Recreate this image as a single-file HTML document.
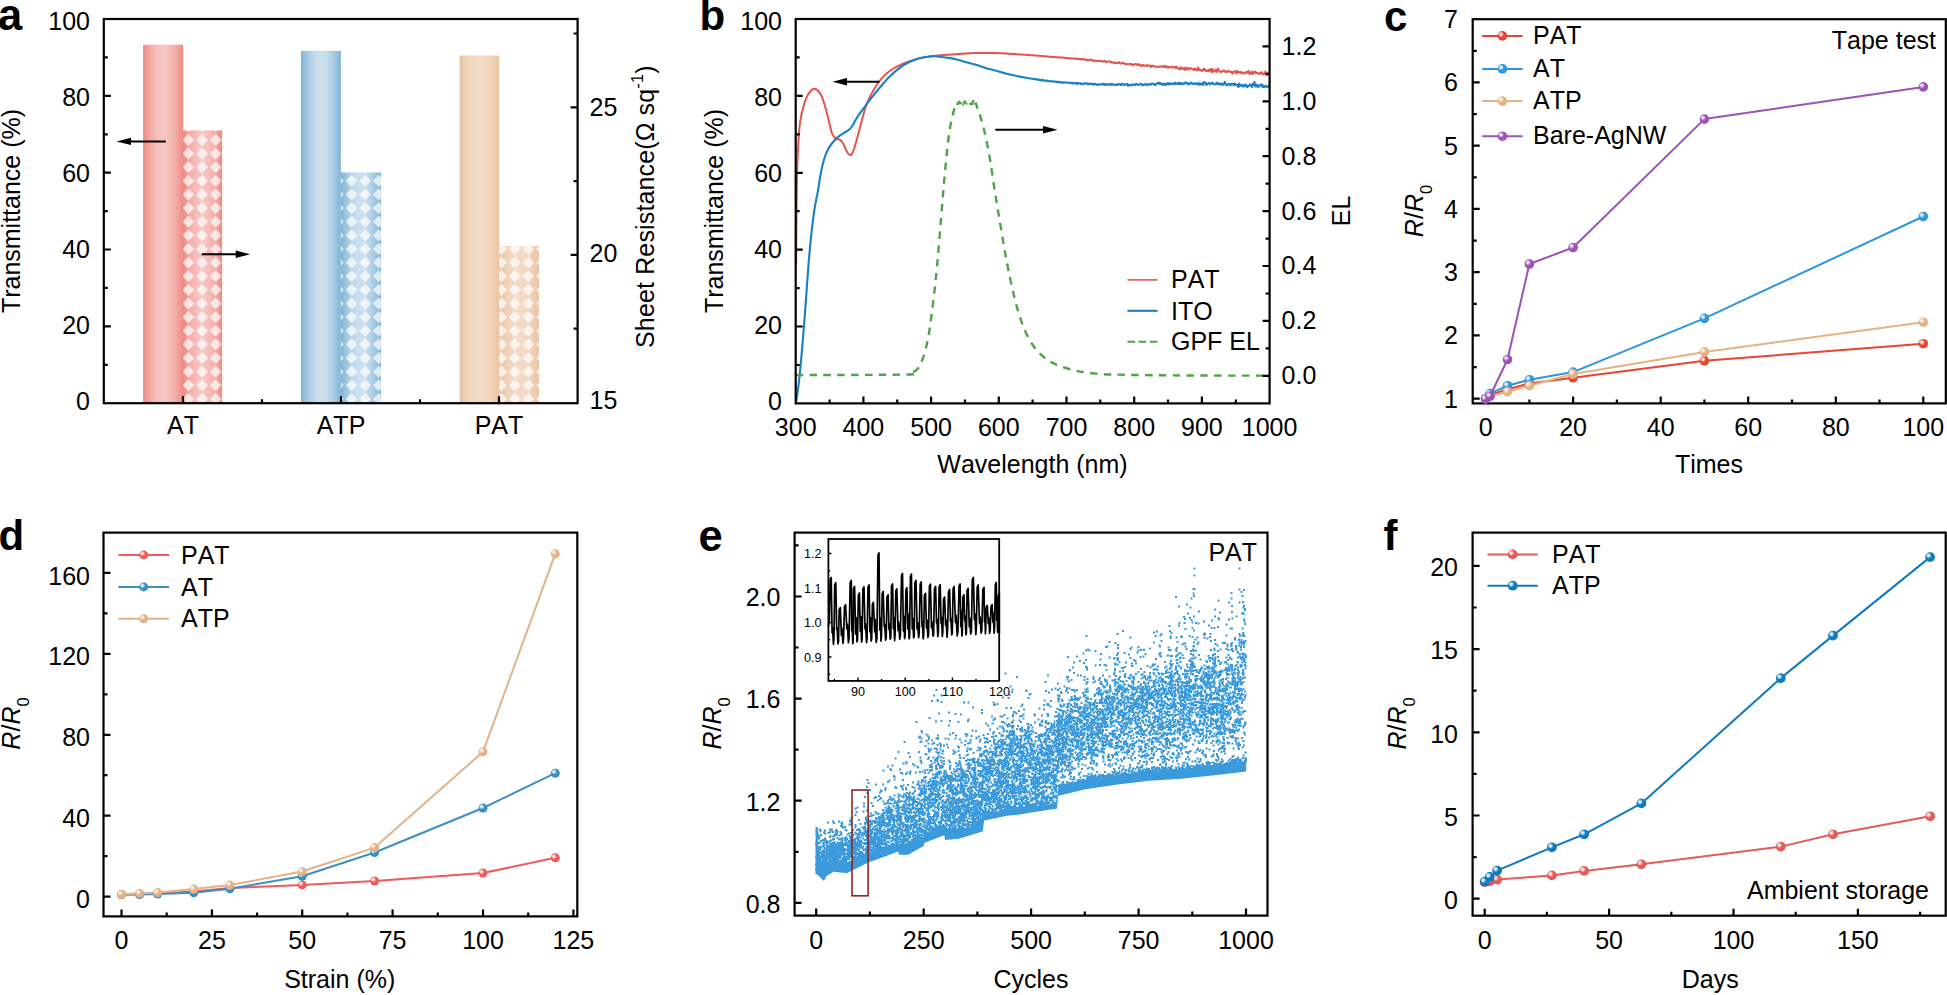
<!DOCTYPE html>
<html lang="en"><head><meta charset="utf-8"><title>Figure</title>
<style>html,body{margin:0;padding:0;background:#fff}svg{display:block}text{font-family:"Liberation Sans",Arial,Helvetica,sans-serif;fill:#000;font-kerning:none}</style>
</head><body>
<svg width="1947" height="995" viewBox="0 0 1947 995">
<rect width="1947" height="995" fill="#fff"/>
<defs>
<radialGradient id="c_r" cx="0.36" cy="0.36" r="0.62" fx="0.34" fy="0.34"><stop offset="0" stop-color="#fff" stop-opacity="1"/><stop offset="0.22" stop-color="#f7c9c3"/><stop offset="0.5" stop-color="#e64535"/><stop offset="1" stop-color="#e64535"/></radialGradient>
<radialGradient id="c_b" cx="0.36" cy="0.36" r="0.62" fx="0.34" fy="0.34"><stop offset="0" stop-color="#fff" stop-opacity="1"/><stop offset="0.22" stop-color="#c6e2f6"/><stop offset="0.5" stop-color="#2f95dd"/><stop offset="1" stop-color="#2f95dd"/></radialGradient>
<radialGradient id="c_t" cx="0.36" cy="0.36" r="0.62" fx="0.34" fy="0.34"><stop offset="0" stop-color="#fff" stop-opacity="1"/><stop offset="0.22" stop-color="#f8e6d6"/><stop offset="0.5" stop-color="#e6b183"/><stop offset="1" stop-color="#e6b183"/></radialGradient>
<radialGradient id="c_p" cx="0.36" cy="0.36" r="0.62" fx="0.34" fy="0.34"><stop offset="0" stop-color="#fff" stop-opacity="1"/><stop offset="0.22" stop-color="#e0c8ea"/><stop offset="0.5" stop-color="#9b52b9"/><stop offset="1" stop-color="#9b52b9"/></radialGradient>
<radialGradient id="d_r" cx="0.36" cy="0.36" r="0.62" fx="0.34" fy="0.34"><stop offset="0" stop-color="#fff" stop-opacity="1"/><stop offset="0.22" stop-color="#fbd0d0"/><stop offset="0.5" stop-color="#ef5a5a"/><stop offset="1" stop-color="#ef5a5a"/></radialGradient>
<radialGradient id="d_b" cx="0.36" cy="0.36" r="0.62" fx="0.34" fy="0.34"><stop offset="0" stop-color="#fff" stop-opacity="1"/><stop offset="0.22" stop-color="#c8e0f0"/><stop offset="0.5" stop-color="#3c8fc4"/><stop offset="1" stop-color="#3c8fc4"/></radialGradient>
<radialGradient id="d_t" cx="0.36" cy="0.36" r="0.62" fx="0.34" fy="0.34"><stop offset="0" stop-color="#fff" stop-opacity="1"/><stop offset="0.22" stop-color="#f8e8d9"/><stop offset="0.5" stop-color="#e3b287"/><stop offset="1" stop-color="#e3b287"/></radialGradient>
<radialGradient id="f_r" cx="0.36" cy="0.36" r="0.62" fx="0.34" fy="0.34"><stop offset="0" stop-color="#fff" stop-opacity="1"/><stop offset="0.22" stop-color="#f8cfcf"/><stop offset="0.5" stop-color="#e25a5a"/><stop offset="1" stop-color="#e25a5a"/></radialGradient>
<radialGradient id="f_b" cx="0.36" cy="0.36" r="0.62" fx="0.34" fy="0.34"><stop offset="0" stop-color="#fff" stop-opacity="1"/><stop offset="0.22" stop-color="#bcdcf0"/><stop offset="0.5" stop-color="#1179be"/><stop offset="1" stop-color="#1179be"/></radialGradient>
<linearGradient id="g_red" x1="0" x2="1" y1="0" y2="0"><stop offset="0" stop-color="#ee8a84"/><stop offset="0.1" stop-color="#f09c97"/><stop offset="0.2" stop-color="#f3ada8"/><stop offset="0.3" stop-color="#f4bab6"/><stop offset="0.4" stop-color="#f6c2bf"/><stop offset="0.5" stop-color="#f6c5c2"/><stop offset="0.6" stop-color="#f6c2bf"/><stop offset="0.7" stop-color="#f4bab6"/><stop offset="0.8" stop-color="#f3ada8"/><stop offset="0.9" stop-color="#f09c97"/><stop offset="1.0" stop-color="#ee8a84"/></linearGradient>
<linearGradient id="g_blue" x1="0" x2="1" y1="0" y2="0"><stop offset="0" stop-color="#7fb3d6"/><stop offset="0.1" stop-color="#96c1dd"/><stop offset="0.2" stop-color="#accde4"/><stop offset="0.3" stop-color="#bcd7e9"/><stop offset="0.4" stop-color="#c7deed"/><stop offset="0.5" stop-color="#cbe0ee"/><stop offset="0.6" stop-color="#c7deed"/><stop offset="0.7" stop-color="#bcd7e9"/><stop offset="0.8" stop-color="#accde4"/><stop offset="0.9" stop-color="#96c1dd"/><stop offset="1.0" stop-color="#7fb3d6"/></linearGradient>
<linearGradient id="g_tan" x1="0" x2="1" y1="0" y2="0"><stop offset="0" stop-color="#eac4a3"/><stop offset="0.1" stop-color="#edcbae"/><stop offset="0.2" stop-color="#efd2b9"/><stop offset="0.3" stop-color="#f1d7c1"/><stop offset="0.4" stop-color="#f3dac6"/><stop offset="0.5" stop-color="#f3dbc8"/><stop offset="0.6" stop-color="#f3dac6"/><stop offset="0.7" stop-color="#f1d7c1"/><stop offset="0.8" stop-color="#efd2b9"/><stop offset="0.9" stop-color="#edcbae"/><stop offset="1.0" stop-color="#eac4a3"/></linearGradient>
<pattern id="dia" x="181.6" y="133.1" width="13.6" height="13.63" patternUnits="userSpaceOnUse"><path d="M6.8 0.8L12.6 6.8L6.8 12.8L1 6.8Z" fill="#fff" fill-opacity="0.72"/></pattern>
</defs>
<rect x="143.1" y="44.7" width="40" height="358.5" fill="url(#g_red)"/>
<rect x="183" y="130.4" width="39.1" height="272.8" fill="url(#g_red)"/>
<rect x="183" y="130.4" width="39.1" height="272.8" fill="url(#dia)"/>
<rect x="301" y="50.9" width="39.9" height="352.3" fill="url(#g_blue)"/>
<rect x="340.8" y="172.4" width="40.2" height="230.8" fill="url(#g_blue)"/>
<rect x="340.8" y="172.4" width="40.2" height="230.8" fill="url(#dia)"/>
<rect x="459.5" y="55.5" width="39.7" height="347.7" fill="url(#g_tan)"/>
<rect x="499.1" y="246.1" width="39.9" height="157.1" fill="url(#g_tan)"/>
<rect x="499.1" y="246.1" width="39.9" height="157.1" fill="url(#dia)"/>
<rect x="103.8" y="19" width="473.8" height="384.2" fill="none" stroke="#000" stroke-width="2.2"/>
<path d="M103.8 326.4h7M103.8 249.5h7M103.8 172.7h7M103.8 95.8h7" stroke="#000" stroke-width="2.2" fill="none"/>
<path d="M103.8 364.8h4M103.8 287.9h4M103.8 211.1h4M103.8 134.3h4M103.8 57.4h4" stroke="#000" stroke-width="2.2" fill="none"/>
<path d="M577.6 254.9h-7M577.6 107.3h-7" stroke="#000" stroke-width="2.2" fill="none"/>
<path d="M577.6 328.7h-4M577.6 181.1h-4M577.6 33.5h-4" stroke="#000" stroke-width="2.2" fill="none"/>
<path d="M183 403.2v-7M341 403.2v-7M499 403.2v-7" stroke="#000" stroke-width="2.2" fill="none"/>
<path d="M262 403.2v-4M420 403.2v-4" stroke="#000" stroke-width="2.2" fill="none"/>
<text x="90" y="410.1" text-anchor="end" font-size="25">0</text>
<text x="90" y="334" text-anchor="end" font-size="25">20</text>
<text x="90" y="257.9" text-anchor="end" font-size="25">40</text>
<text x="90" y="181.7" text-anchor="end" font-size="25">60</text>
<text x="90" y="105.6" text-anchor="end" font-size="25">80</text>
<text x="90" y="29.5" text-anchor="end" font-size="25">100</text>
<text x="589.5" y="409.1" text-anchor="start" font-size="25">15</text>
<text x="589.5" y="262.3" text-anchor="start" font-size="25">20</text>
<text x="589.5" y="115.5" text-anchor="start" font-size="25">25</text>
<text x="183" y="434.3" text-anchor="middle" font-size="25">AT</text>
<text x="341" y="434.3" text-anchor="middle" font-size="25">ATP</text>
<text x="499" y="434.3" text-anchor="middle" font-size="25">PAT</text>
<text transform="translate(20.4 211) rotate(-90)" text-anchor="middle" font-size="25">Transmittance (%)</text>
<text transform="translate(654.4 206.6) rotate(-90)" text-anchor="middle" letter-spacing="0.14" font-size="25">Sheet Resistance(Ω sq<tspan font-size="16.5" dy="-11.5">-1</tspan><tspan dy="11.5">)</tspan></text>
<line x1="165.8" y1="141.4" x2="126.7" y2="141.4" stroke="#000" stroke-width="2.0"/>
<path d="M116.5 141.4L131 137.7L131 145.1Z" fill="#000"/>
<line x1="201.7" y1="254.2" x2="240" y2="254.2" stroke="#000" stroke-width="2.0"/>
<path d="M250.2 254.2L235.7 250.5L235.7 257.9Z" fill="#000"/>
<text x="-2" y="30.2" text-anchor="start" font-size="43.5" font-weight="bold">a</text>
<clipPath id="clipb"><rect x="795.7" y="19" width="473.9" height="384.4"/></clipPath>
<g clip-path="url(#clipb)" fill="none" stroke-linejoin="round">
<path d="M796.1 264.7C796.2 257.8 796.3 235.4 796.4 222.9C796.5 210.5 796.6 199.3 796.8 190C796.9 180.6 797 174.6 797.2 166.7C797.5 158.8 797.9 149.8 798.4 142.5C798.8 135.3 799.2 128.9 800 123.2C800.7 117.6 801.7 113.2 802.9 108.8C804 104.4 805.5 99.7 806.9 96.7C808.2 93.7 809.7 92.1 810.9 90.8C812.1 89.5 812.9 88.8 814.1 88.8C815.3 88.8 816.8 89.3 818.1 90.8C819.5 92.2 820.8 94.3 822.2 97.5C823.5 100.8 825 106.1 826.2 110.4C827.4 114.7 828.4 119.4 829.4 123.2C830.4 127.1 831.1 131.2 832.1 133.7C833.2 136.2 834.5 137.5 835.8 138.5C837.1 139.5 838.6 138.8 839.8 139.6C841 140.5 842 141.5 843.1 143.3C844.1 145.2 845.2 148.6 846.3 150.6C847.3 152.5 848.5 154.4 849.5 154.9C850.4 155.5 851.1 154.9 851.9 153.8C852.7 152.7 853.4 151 854.3 148.2C855.2 145.4 856.3 141.3 857.5 136.9C858.7 132.5 860.2 126.6 861.5 121.6C862.9 116.7 864.1 111.5 865.6 107.2C867 102.9 868.5 99.7 870.4 95.9C872.3 92.2 874.7 87.9 876.8 84.7C879 81.4 881.1 78.9 883.2 76.6C885.4 74.3 887 72.9 889.7 71C892.4 69.1 896.1 67 899.3 65.4C902.5 63.8 905.8 62.5 909 61.4C912.2 60.2 915.4 59.4 918.6 58.6C921.8 57.8 925 57.2 928.3 56.7C931.5 56.2 933 55.8 937.9 55.4C942.8 55 951.3 54.5 957.5 54.1C963.6 53.7 969.1 53.2 974.9 53.1C980.7 52.9 986.6 52.9 992.4 53.1C998.2 53.2 1004 53.4 1009.9 53.8C1015.7 54.1 1021.5 54.6 1027.3 55C1033.1 55.4 1039 55.8 1044.8 56.2C1050.6 56.6 1057.2 57.2 1062.2 57.6C1067.3 58 1072.9 58.5 1075 58.7L1075 58.7L1075.8 58.4L1076.6 58.8L1077.4 58.4L1078.2 59.3L1079 59L1079.8 59L1080.6 59.5L1081.4 58.9L1082.2 59.5L1083 58.9L1083.8 59.3L1084.6 59.3L1085.4 60.1L1086.2 60.3L1087 59.7L1087.8 60.2L1088.6 59.8L1089.4 60.2L1090.2 59.9L1091 59.6L1091.8 59.7L1092.6 60.5L1093.4 61.1L1094.2 60.6L1095 60.4L1095.8 61.3L1096.6 60.8L1097.4 60.8L1098.2 60.9L1099 60.9L1099.8 60.9L1100.6 60.6L1101.4 61.3L1102.2 61.2L1103 61.8L1103.8 61.3L1104.6 60.8L1105.4 61.5L1106.2 62.3L1107 61.6L1107.8 61.4L1108.6 61.4L1109.4 61.5L1110.2 61.9L1111 61.6L1111.8 62.8L1112.6 62.2L1113.4 62.4L1114.2 63L1115 63.2L1115.8 62.5L1116.6 62.8L1117.4 63.1L1118.2 62.8L1119 62.1L1119.8 63.3L1120.6 63.5L1121.4 63.3L1122.2 62.8L1123 63.2L1123.8 63.1L1124.6 63.3L1125.4 64.2L1126.2 64.4L1127 64L1127.8 64.1L1128.6 64.2L1129.4 64L1130.2 64L1131 63.8L1131.8 64.2L1132.6 65.4L1133.4 64.8L1134.2 64.2L1135 64.2L1135.8 64.1L1136.6 64.8L1137.4 64.9L1138.2 64L1139 65.1L1139.8 64.6L1140.6 65.8L1141.4 65.2L1142.2 66.1L1143 65L1143.8 65.1L1144.6 65.5L1145.4 66L1146.2 65.8L1147 64.9L1147.8 65.7L1148.6 65.7L1149.4 65.5L1150.2 65.5L1151 66.9L1151.8 65.8L1152.6 65.6L1153.4 66.5L1154.2 66.3L1155 66.2L1155.8 66.8L1156.6 66.7L1157.4 66.7L1158.2 67.2L1159 66.8L1159.8 66.3L1160.6 66.6L1161.4 66.5L1162.2 67.1L1163 66.3L1163.8 65.9L1164.6 67.2L1165.4 66.4L1166.2 66L1167 67.6L1167.8 67L1168.6 67.8L1169.4 67.2L1170.2 66.8L1171 66.8L1171.8 66.9L1172.6 67.5L1173.4 67.2L1174.2 67.6L1175 66.8L1175.8 67.9L1176.6 66.7L1177.4 67.9L1178.2 68.5L1179 68.9L1179.8 69.4L1180.6 67.1L1181.4 68.8L1182.2 69.1L1183 69L1183.8 67.7L1184.6 68.7L1185.4 69.9L1186.2 67.5L1187 69L1187.8 69.5L1188.6 68.3L1189.4 69.3L1190.2 68.1L1191 68.4L1191.8 68.5L1192.6 69.3L1193.4 69.1L1194.2 70L1195 68.6L1195.8 69.3L1196.6 70.3L1197.4 70L1198.2 67.4L1199 70.3L1199.8 69.4L1200.6 70.2L1201.4 70.2L1202.2 71L1203 70.2L1203.8 68.6L1204.6 69.1L1205.4 70.8L1206.2 70.1L1207 71.3L1207.8 70.9L1208.6 69.8L1209.4 71.4L1210.2 69.9L1211 68.9L1211.8 72.4L1212.6 69.1L1213.4 71.3L1214.2 71.7L1215 71L1215.8 69.5L1216.6 71.9L1217.4 69.8L1218.2 68.5L1219 70.9L1219.8 71.9L1220.6 71.5L1221.4 72L1222.2 71L1223 71.2L1223.8 70.4L1224.6 71.2L1225.4 72.1L1226.2 71.3L1227 72L1227.8 71.1L1228.6 71.1L1229.4 71.8L1230.2 71.6L1231 72.3L1231.8 72L1232.6 73.5L1233.4 71.7L1234.2 71.7L1235 71L1235.8 72.1L1236.6 73.5L1237.4 70.6L1238.2 72.1L1239 72.9L1239.8 72.1L1240.6 71.8L1241.4 73.3L1242.2 72.4L1243 72.8L1243.8 73.6L1244.6 73.6L1245.4 72.2L1246.2 72L1247 72.9L1247.8 72.5L1248.6 70.8L1249.4 74L1250.2 72.8L1251 73.5L1251.8 71.6L1252.6 74.2L1253.4 72.3L1254.2 72.8L1255 71.5L1255.8 72.9L1256.6 72.8L1257.4 72.9L1258.2 73.6L1259 73.2L1259.8 74.2L1260.6 72.7L1261.4 72.2L1262.2 73.3L1263 74L1263.8 74.7L1264.6 74.3L1265.4 71.5L1266.2 73.9L1267 75.1L1267.8 73.6L1268.6 73L1269.4 74" stroke="#e4534e" stroke-width="2.0"/>
<path d="M795.8 404.6C796.4 399.8 798.2 389.9 799.6 375.7C801.1 361.5 802.9 339.5 804.5 319.4C806.1 299.3 807.7 273 809.3 255.1C810.9 237.1 812.6 222.5 814.1 211.7C815.6 200.8 817.1 196.1 818.1 190C819.2 183.8 819.6 179.7 820.5 174.7C821.5 169.7 822.6 164.4 823.8 160.2C825 156.1 826.3 152.7 827.8 149.8C829.3 146.8 830.9 144.7 832.6 142.5C834.3 140.4 836.4 138.5 838.2 136.9C840.1 135.3 842.1 134 843.9 132.9C845.6 131.7 847.3 131.1 848.7 130C850 128.9 850.4 128.7 851.9 126.5C853.4 124.3 855.2 120.3 857.5 116.8C859.8 113.3 862.9 109.2 865.6 105.6C868.2 101.9 870.9 98.5 873.6 95.1C876.3 91.8 879 88.5 881.6 85.5C884.3 82.4 887 79.3 889.7 76.6C892.4 73.9 895 71.5 897.7 69.4C900.4 67.2 902.8 65.4 905.8 63.8C908.7 62.1 912.2 60.5 915.4 59.4C918.6 58.3 921.8 57.5 925 57C928.3 56.5 930.7 56.1 934.7 56.2C938.6 56.4 944.9 57.4 948.7 57.9C952.5 58.5 953.1 58.6 957.5 59.7C961.8 60.8 969.1 62.9 974.9 64.6C980.7 66.3 986.6 68.2 992.4 69.8C998.2 71.5 1004 73.2 1009.9 74.5C1015.7 75.9 1022.3 77.1 1027.3 78C1032.3 78.9 1037.9 79.6 1040 79.9L1040 79.9L1040.8 80.2L1041.6 80.6L1042.4 79.7L1043.2 80.3L1044 80.6L1044.8 80.6L1045.6 80.7L1046.4 80.5L1047.2 80.7L1048 81.1L1048.8 81.3L1049.6 81.2L1050.4 81L1051.2 81.3L1052 81.3L1052.8 81.6L1053.6 81.6L1054.4 81.5L1055.2 81.7L1056 81.5L1056.8 82.1L1057.6 82.2L1058.4 81.7L1059.2 82.2L1060 81.9L1060.8 82.5L1061.6 82.6L1062.4 82.3L1063.2 82.7L1064 82.4L1064.8 82.4L1065.6 82.5L1066.4 82.6L1067.2 82.6L1068 82.8L1068.8 82.7L1069.6 83.1L1070.4 83.3L1071.2 82.9L1072 82.6L1072.8 83.4L1073.6 83.5L1074.4 83.1L1075.2 82.9L1076 83.4L1076.8 83.9L1077.6 82.9L1078.4 83.7L1079.2 83.5L1080 83.3L1080.8 84L1081.6 83.3L1082.4 83.8L1083.2 84.2L1084 83.9L1084.8 83.5L1085.6 83.2L1086.4 83.4L1087.2 83.3L1088 84.5L1088.8 83.9L1089.6 83.6L1090.4 83.6L1091.2 83.7L1092 84L1092.8 83.7L1093.6 84.8L1094.4 83.9L1095.2 83.9L1096 84.4L1096.8 84.9L1097.6 84.8L1098.4 84.1L1099.2 84.5L1100 84.4L1100.8 84.6L1101.6 84.5L1102.4 84L1103.2 83.9L1104 84.6L1104.8 84L1105.6 85L1106.4 84.5L1107.2 84.1L1108 84.4L1108.8 84.3L1109.6 84.5L1110.4 85L1111.2 84L1112 83.8L1112.8 84.8L1113.6 84.6L1114.4 84.7L1115.2 84.9L1116 84.6L1116.8 85L1117.6 84.2L1118.4 84.7L1119.2 84.2L1120 84.1L1120.8 84.9L1121.6 84.9L1122.4 83.7L1123.2 84L1124 84.7L1124.8 85.1L1125.6 84.2L1126.4 84.5L1127.2 83.9L1128 85.8L1128.8 84.8L1129.6 85L1130.4 84.8L1131.2 85.5L1132 84.8L1132.8 84.3L1133.6 84.8L1134.4 84.5L1135.2 85.1L1136 84L1136.8 84.1L1137.6 84.7L1138.4 85L1139.2 84.4L1140 84L1140.8 84.3L1141.6 84L1142.4 85.3L1143.2 84.7L1144 84.9L1144.8 84.4L1145.6 83.9L1146.4 84.8L1147.2 85.1L1148 84.5L1148.8 84.1L1149.6 84.7L1150.4 83.9L1151.2 84.5L1152 83.7L1152.8 83.5L1153.6 84.3L1154.4 84.2L1155.2 85.1L1156 83.8L1156.8 83.9L1157.6 83.2L1158.4 82.8L1159.2 82.8L1160 84.1L1160.8 83.1L1161.6 84.5L1162.4 84.6L1163.2 83.6L1164 84.7L1164.8 83.8L1165.6 85.2L1166.4 83.5L1167.2 84.2L1168 83L1168.8 84.4L1169.6 83.3L1170.4 83.5L1171.2 84L1172 83.7L1172.8 83.5L1173.6 84L1174.4 84.1L1175.2 82.6L1176 83.9L1176.8 84L1177.6 83L1178.4 83.8L1179.2 82.6L1180 84.4L1180.8 83.1L1181.6 83.4L1182.4 84.3L1183.2 83.4L1184 83.8L1184.8 82.7L1185.6 83.1L1186.4 82.5L1187.2 83.3L1188 84.2L1188.8 83.6L1189.6 84.1L1190.4 82.8L1191.2 82.9L1192 83.2L1192.8 83.9L1193.6 83.8L1194.4 83.5L1195.2 84L1196 83.4L1196.8 83.5L1197.6 84.5L1198.4 83.2L1199.2 83.7L1200 84.8L1200.8 83.7L1201.6 84.1L1202.4 83.2L1203.2 85.1L1204 82L1204.8 82.9L1205.6 82.9L1206.4 85L1207.2 84L1208 83.6L1208.8 82.9L1209.6 84.1L1210.4 84L1211.2 83.4L1212 82.8L1212.8 83.1L1213.6 84.3L1214.4 84.2L1215.2 84.1L1216 83.9L1216.8 82.7L1217.6 84.2L1218.4 83.3L1219.2 84.2L1220 84.5L1220.8 83.7L1221.6 83.4L1222.4 85L1223.2 84.6L1224 83.8L1224.8 81.9L1225.6 84.3L1226.4 84.9L1227.2 85.4L1228 83.9L1228.8 84L1229.6 84.2L1230.4 85.3L1231.2 83.6L1232 84.5L1232.8 83.9L1233.6 84.9L1234.4 83.4L1235.2 85.1L1236 84.4L1236.8 84.6L1237.6 85.3L1238.4 87L1239.2 83.5L1240 85.8L1240.8 85.5L1241.6 84.8L1242.4 86.3L1243.2 85.3L1244 86.3L1244.8 84.7L1245.6 84.5L1246.4 86.4L1247.2 87.2L1248 85.9L1248.8 86.2L1249.6 85.1L1250.4 84.3L1251.2 85.4L1252 86.9L1252.8 84L1253.6 85.2L1254.4 81.9L1255.2 85.9L1256 86.6L1256.8 84.7L1257.6 85.5L1258.4 87.1L1259.2 85.9L1260 84.9L1260.8 84.9L1261.6 84.3L1262.4 86.9L1263.2 85.5L1264 87.2L1264.8 87.1L1265.6 85.7L1266.4 85.9L1267.2 87.2L1268 86.6L1268.8 86.8L1269.6 85" stroke="#1a80c4" stroke-width="2.1"/>
<path d="M795.9 375.1C814.3 375 886.4 375 906 374.5C925.6 374 911.3 373.5 913.6 372.1C915.8 370.6 917.6 369.8 919.6 366C921.6 362.2 923.9 356.2 925.6 349.4C927.4 342.6 928.7 335.3 930.2 325.3C931.7 315.2 933.4 300.2 934.7 289.1C935.9 278 936.7 270 937.7 258.9C938.7 247.9 939.7 234.8 940.7 222.7C941.7 210.7 942.7 198.1 943.7 186.5C944.7 175 945.8 162.9 946.8 153.3C947.8 143.8 948.6 136.3 949.8 129.2C950.9 122.2 952.8 114.8 953.7 111.1C954.6 107.4 954.5 108.2 954.9 106.8C955.3 105.5 955.5 103.5 955.9 103C956.2 102.5 956.5 103.4 956.8 103.6C957.2 103.8 957.5 104.3 957.8 104C958.1 103.8 958.4 102 958.8 101.9C959.1 101.7 959.4 102.9 959.7 103.1C960.1 103.2 960.4 103.4 960.7 102.9C961 102.4 961.3 99.7 961.7 99.9C962 100.2 962.3 103.8 962.6 104.4C962.9 105.1 963.3 104.2 963.6 103.7C963.9 103.2 964.2 101.9 964.6 101.6C964.9 101.4 965.2 102.1 965.5 102.4C965.8 102.7 966.2 103.5 966.5 103.5C966.8 103.5 967.1 102.5 967.5 102.3C967.8 102.1 968.1 102.7 968.4 102.4C968.7 102.1 969.1 100.2 969.4 100.5C969.7 100.7 970 103.5 970.3 103.9C970.7 104.4 971 103.4 971.3 103.4C971.6 103.3 972 104.2 972.3 103.8C972.6 103.4 972.9 100.5 973.2 101C973.6 101.4 973.9 105.9 974.2 106.5C974.5 107 974.9 104.7 975.2 104.2C975.5 103.7 975.8 103 976.1 103.6C976.5 104.2 976.8 107 977.1 107.9C977.4 108.7 977.1 106.7 977.8 108.7C978.6 110.8 980.1 115.2 981.4 120.2C982.8 125.1 984.5 131.2 986 138.3C987.5 145.3 989 153.3 990.5 162.4C992 171.4 993.5 183 995 192.6C996.5 202.1 998 210.7 999.5 219.7C1001.1 228.8 1002.6 238.3 1004.1 246.9C1005.6 255.4 1006.8 262.4 1008.6 271C1010.4 279.5 1012.6 290.1 1014.6 298.1C1016.6 306.2 1018.4 312.7 1020.7 319.3C1022.9 325.8 1025.4 332.1 1028.2 337.4C1031 342.6 1034 347.2 1037.3 350.9C1040.5 354.7 1044 357.5 1047.8 360C1051.6 362.5 1055.4 364.3 1059.9 366C1064.4 367.8 1069.9 369.4 1075 370.5C1080 371.7 1084 372.3 1090 373C1096.1 373.6 1097.6 374.1 1111.2 374.5C1124.7 374.9 1145 375.2 1171.5 375.4C1197.9 375.6 1253.4 375.6 1269.8 375.7" stroke="#4fa346" stroke-width="2.4" stroke-dasharray="7.4 6.4"/>
</g>
<rect x="795.7" y="19" width="473.9" height="384.4" fill="none" stroke="#000" stroke-width="2.2"/>
<path d="M795.7 326.5h7M795.7 249.6h7M795.7 172.8h7M795.7 95.9h7" stroke="#000" stroke-width="2.2" fill="none"/>
<path d="M795.7 365h4M795.7 288.1h4M795.7 211.2h4M795.7 134.3h4M795.7 57.4h4" stroke="#000" stroke-width="2.2" fill="none"/>
<path d="M1269.6 375.8h-7M1269.6 320.9h-7M1269.6 266h-7M1269.6 211.1h-7M1269.6 156.2h-7M1269.6 101.3h-7M1269.6 46.4h-7" stroke="#000" stroke-width="2.2" fill="none"/>
<path d="M1269.6 348.4h-4M1269.6 293.5h-4M1269.6 238.6h-4M1269.6 183.7h-4M1269.6 128.8h-4M1269.6 73.8h-4" stroke="#000" stroke-width="2.2" fill="none"/>
<path d="M863.4 403.4v-7M931.1 403.4v-7M998.8 403.4v-7M1066.5 403.4v-7M1134.2 403.4v-7M1201.9 403.4v-7" stroke="#000" stroke-width="2.2" fill="none"/>
<path d="M829.6 403.4v-4M897.2 403.4v-4M965 403.4v-4M1032.6 403.4v-4M1100.3 403.4v-4M1168 403.4v-4M1235.8 403.4v-4" stroke="#000" stroke-width="2.2" fill="none"/>
<text x="782" y="410.1" text-anchor="end" font-size="25">0</text>
<text x="782" y="334" text-anchor="end" font-size="25">20</text>
<text x="782" y="257.9" text-anchor="end" font-size="25">40</text>
<text x="782" y="181.7" text-anchor="end" font-size="25">60</text>
<text x="782" y="105.6" text-anchor="end" font-size="25">80</text>
<text x="782" y="29.5" text-anchor="end" font-size="25">100</text>
<text x="795.7" y="435.6" text-anchor="middle" font-size="25">300</text>
<text x="863.4" y="435.6" text-anchor="middle" font-size="25">400</text>
<text x="931.1" y="435.6" text-anchor="middle" font-size="25">500</text>
<text x="998.8" y="435.6" text-anchor="middle" font-size="25">600</text>
<text x="1066.5" y="435.6" text-anchor="middle" font-size="25">700</text>
<text x="1134.2" y="435.6" text-anchor="middle" font-size="25">800</text>
<text x="1201.9" y="435.6" text-anchor="middle" font-size="25">900</text>
<text x="1269.6" y="435.6" text-anchor="middle" font-size="25">1000</text>
<text x="1281.6" y="384.2" text-anchor="start" font-size="25">0.0</text>
<text x="1281.6" y="329.3" text-anchor="start" font-size="25">0.2</text>
<text x="1281.6" y="274.4" text-anchor="start" font-size="25">0.4</text>
<text x="1281.6" y="219.5" text-anchor="start" font-size="25">0.6</text>
<text x="1281.6" y="164.6" text-anchor="start" font-size="25">0.8</text>
<text x="1281.6" y="109.7" text-anchor="start" font-size="25">1.0</text>
<text x="1281.6" y="54.8" text-anchor="start" font-size="25">1.2</text>
<text transform="translate(722.8 211) rotate(-90)" text-anchor="middle" font-size="25">Transmittance (%)</text>
<text transform="translate(1350 211) rotate(-90)" text-anchor="middle" font-size="25">EL</text>
<text x="1032.5" y="473.4" text-anchor="middle" font-size="25">Wavelength (nm)</text>
<line x1="879.4" y1="81.7" x2="842.6" y2="81.7" stroke="#000" stroke-width="2.0"/>
<path d="M832.5 81.7L847 78L847 85.4Z" fill="#000"/>
<line x1="995.3" y1="129.8" x2="1047.3" y2="129.8" stroke="#000" stroke-width="2.0"/>
<path d="M1057.5 129.8L1043 126.1L1043 133.5Z" fill="#000"/>
<line x1="1127.4" y1="279.9" x2="1157.5" y2="279.9" stroke="#e4534e" stroke-width="1.6"/>
<line x1="1127.4" y1="310.8" x2="1157.5" y2="310.8" stroke="#1a80c4" stroke-width="2.1"/>
<line x1="1127.4" y1="341.7" x2="1157.5" y2="341.7" stroke="#4fa346" stroke-width="2.0" stroke-dasharray="7.7 3.5"/>
<text x="1171" y="288.4" text-anchor="start" font-size="25">PAT</text>
<text x="1171" y="319.5" text-anchor="start" font-size="25">ITO</text>
<text x="1171" y="350.4" text-anchor="start" font-size="25">GPF EL</text>
<text x="699.5" y="30" text-anchor="start" font-size="42" font-weight="bold">b</text>
<rect x="1472.7" y="19.2" width="473.1" height="384.2" fill="none" stroke="#000" stroke-width="2.2"/>
<path d="M1472.7 398.7h7M1472.7 335.4h7M1472.7 272.2h7M1472.7 208.9h7M1472.7 145.7h7M1472.7 82.4h7" stroke="#000" stroke-width="2.2" fill="none"/>
<path d="M1472.7 367.1h4M1472.7 303.8h4M1472.7 240.6h4M1472.7 177.3h4M1472.7 114.1h4M1472.7 50.8h4" stroke="#000" stroke-width="2.2" fill="none"/>
<path d="M1485.6 403.4v-7M1573.1 403.4v-7M1660.7 403.4v-7M1748.2 403.4v-7M1835.8 403.4v-7M1923.3 403.4v-7" stroke="#000" stroke-width="2.2" fill="none"/>
<path d="M1529.4 403.4v-4M1616.9 403.4v-4M1704.4 403.4v-4M1792 403.4v-4M1879.5 403.4v-4" stroke="#000" stroke-width="2.2" fill="none"/>
<path d="M1485.6 398.7L1490 394.9L1507.5 389.2L1529.4 383.5L1573.1 377.8L1704.4 360.8L1923.3 343.7" fill="none" stroke="#e64535" stroke-width="2.0" stroke-linejoin="round"/>
<circle cx="1485.6" cy="398.7" r="4.8" fill="url(#c_r)"/>
<circle cx="1490" cy="394.9" r="4.8" fill="url(#c_r)"/>
<circle cx="1507.5" cy="389.2" r="4.8" fill="url(#c_r)"/>
<circle cx="1529.4" cy="383.5" r="4.8" fill="url(#c_r)"/>
<circle cx="1573.1" cy="377.8" r="4.8" fill="url(#c_r)"/>
<circle cx="1704.4" cy="360.8" r="4.8" fill="url(#c_r)"/>
<circle cx="1923.3" cy="343.7" r="4.8" fill="url(#c_r)"/>
<path d="M1485.6 398.7L1490 393.6L1507.5 385.7L1529.4 379.7L1573.1 372.1L1704.4 318.4L1923.3 216.5" fill="none" stroke="#2f95dd" stroke-width="2.0" stroke-linejoin="round"/>
<circle cx="1485.6" cy="398.7" r="4.8" fill="url(#c_b)"/>
<circle cx="1490" cy="393.6" r="4.8" fill="url(#c_b)"/>
<circle cx="1507.5" cy="385.7" r="4.8" fill="url(#c_b)"/>
<circle cx="1529.4" cy="379.7" r="4.8" fill="url(#c_b)"/>
<circle cx="1573.1" cy="372.1" r="4.8" fill="url(#c_b)"/>
<circle cx="1704.4" cy="318.4" r="4.8" fill="url(#c_b)"/>
<circle cx="1923.3" cy="216.5" r="4.8" fill="url(#c_b)"/>
<path d="M1485.6 398.7L1490 396.2L1507.5 391.7L1529.4 385.7L1573.1 374L1704.4 351.9L1923.3 322.2" fill="none" stroke="#e6b183" stroke-width="2.0" stroke-linejoin="round"/>
<circle cx="1485.6" cy="398.7" r="4.8" fill="url(#c_t)"/>
<circle cx="1490" cy="396.2" r="4.8" fill="url(#c_t)"/>
<circle cx="1507.5" cy="391.7" r="4.8" fill="url(#c_t)"/>
<circle cx="1529.4" cy="385.7" r="4.8" fill="url(#c_t)"/>
<circle cx="1573.1" cy="374" r="4.8" fill="url(#c_t)"/>
<circle cx="1704.4" cy="351.9" r="4.8" fill="url(#c_t)"/>
<circle cx="1923.3" cy="322.2" r="4.8" fill="url(#c_t)"/>
<path d="M1485.6 398.7L1490 396.2L1507.5 359.5L1529.4 264L1573.1 247.5L1704.4 119.1L1923.3 86.9" fill="none" stroke="#9b52b9" stroke-width="2.0" stroke-linejoin="round"/>
<circle cx="1485.6" cy="398.7" r="4.8" fill="url(#c_p)"/>
<circle cx="1490" cy="396.2" r="4.8" fill="url(#c_p)"/>
<circle cx="1507.5" cy="359.5" r="4.8" fill="url(#c_p)"/>
<circle cx="1529.4" cy="264" r="4.8" fill="url(#c_p)"/>
<circle cx="1573.1" cy="247.5" r="4.8" fill="url(#c_p)"/>
<circle cx="1704.4" cy="119.1" r="4.8" fill="url(#c_p)"/>
<circle cx="1923.3" cy="86.9" r="4.8" fill="url(#c_p)"/>
<text x="1458" y="407.7" text-anchor="end" font-size="25">1</text>
<text x="1458" y="344.4" text-anchor="end" font-size="25">2</text>
<text x="1458" y="281.2" text-anchor="end" font-size="25">3</text>
<text x="1458" y="217.9" text-anchor="end" font-size="25">4</text>
<text x="1458" y="154.7" text-anchor="end" font-size="25">5</text>
<text x="1458" y="91.4" text-anchor="end" font-size="25">6</text>
<text x="1458" y="28.2" text-anchor="end" font-size="25">7</text>
<text x="1485.6" y="436" text-anchor="middle" font-size="25">0</text>
<text x="1573.1" y="436" text-anchor="middle" font-size="25">20</text>
<text x="1660.7" y="436" text-anchor="middle" font-size="25">40</text>
<text x="1748.2" y="436" text-anchor="middle" font-size="25">60</text>
<text x="1835.8" y="436" text-anchor="middle" font-size="25">80</text>
<text x="1923.3" y="436" text-anchor="middle" font-size="25">100</text>
<text x="1709" y="472.7" text-anchor="middle" font-size="25">Times</text>
<text transform="translate(1422.7 211) rotate(-90)" text-anchor="middle" font-size="25"><tspan font-style="italic">R</tspan>/<tspan font-style="italic">R</tspan><tspan font-size="16.5" dy="9">0</tspan></text>
<line x1="1482.2" y1="35.9" x2="1522.6" y2="35.9" stroke="#e64535" stroke-width="2.0"/>
<circle cx="1502.4" cy="35.9" r="4.8" fill="url(#c_r)"/>
<text x="1533" y="44.4" text-anchor="start" font-size="25">PAT</text>
<line x1="1482.2" y1="68.9" x2="1522.6" y2="68.9" stroke="#2f95dd" stroke-width="2.0"/>
<circle cx="1502.4" cy="68.9" r="4.8" fill="url(#c_b)"/>
<text x="1533" y="76.8" text-anchor="start" font-size="25">AT</text>
<line x1="1482.2" y1="101.1" x2="1522.6" y2="101.1" stroke="#e6b183" stroke-width="2.0"/>
<circle cx="1502.4" cy="101.1" r="4.8" fill="url(#c_t)"/>
<text x="1533" y="108.9" text-anchor="start" font-size="25">ATP</text>
<line x1="1482.2" y1="136.2" x2="1522.6" y2="136.2" stroke="#9b52b9" stroke-width="2.0"/>
<circle cx="1502.4" cy="136.2" r="4.8" fill="url(#c_p)"/>
<text x="1533" y="143.5" text-anchor="start" font-size="25">Bare-AgNW</text>
<text x="1936" y="48.8" text-anchor="end" font-size="25">Tape test</text>
<text x="1384" y="30.6" text-anchor="start" font-size="42" font-weight="bold">c</text>
<rect x="103.5" y="532.6" width="473.8" height="383.8" fill="none" stroke="#000" stroke-width="2.2"/>
<path d="M103.5 896.6h7M103.5 815.7h7M103.5 734.8h7M103.5 653.8h7M103.5 572.9h7" stroke="#000" stroke-width="2.2" fill="none"/>
<path d="M103.5 856.1h4M103.5 775.2h4M103.5 694.3h4M103.5 613.4h4" stroke="#000" stroke-width="2.2" fill="none"/>
<path d="M121.5 916.4v-7M211.9 916.4v-7M302.2 916.4v-7M392.6 916.4v-7M483 916.4v-7M573.4 916.4v-7" stroke="#000" stroke-width="2.2" fill="none"/>
<path d="M166.7 916.4v-4M257.1 916.4v-4M347.4 916.4v-4M437.8 916.4v-4M528.2 916.4v-4" stroke="#000" stroke-width="2.2" fill="none"/>
<path d="M121.5 894.6L139.6 894.2L157.7 893.6L193.8 891.5L229.9 888.1L302.2 884.9L374.6 881L483 873.1L555.3 857.8" fill="none" stroke="#ef5a5a" stroke-width="2.0" stroke-linejoin="round"/>
<circle cx="121.5" cy="894.6" r="4.5" fill="url(#d_r)"/>
<circle cx="139.6" cy="894.2" r="4.5" fill="url(#d_r)"/>
<circle cx="157.7" cy="893.6" r="4.5" fill="url(#d_r)"/>
<circle cx="193.8" cy="891.5" r="4.5" fill="url(#d_r)"/>
<circle cx="229.9" cy="888.1" r="4.5" fill="url(#d_r)"/>
<circle cx="302.2" cy="884.9" r="4.5" fill="url(#d_r)"/>
<circle cx="374.6" cy="881" r="4.5" fill="url(#d_r)"/>
<circle cx="483" cy="873.1" r="4.5" fill="url(#d_r)"/>
<circle cx="555.3" cy="857.8" r="4.5" fill="url(#d_r)"/>
<path d="M121.5 894.6L139.6 894.4L157.7 894L193.8 892.8L229.9 888.7L302.2 876.2L374.6 852.5L483 808L555.3 773.2" fill="none" stroke="#3c8fc4" stroke-width="2.0" stroke-linejoin="round"/>
<circle cx="121.5" cy="894.6" r="4.5" fill="url(#d_b)"/>
<circle cx="139.6" cy="894.4" r="4.5" fill="url(#d_b)"/>
<circle cx="157.7" cy="894" r="4.5" fill="url(#d_b)"/>
<circle cx="193.8" cy="892.8" r="4.5" fill="url(#d_b)"/>
<circle cx="229.9" cy="888.7" r="4.5" fill="url(#d_b)"/>
<circle cx="302.2" cy="876.2" r="4.5" fill="url(#d_b)"/>
<circle cx="374.6" cy="852.5" r="4.5" fill="url(#d_b)"/>
<circle cx="483" cy="808" r="4.5" fill="url(#d_b)"/>
<circle cx="555.3" cy="773.2" r="4.5" fill="url(#d_b)"/>
<path d="M121.5 894.2L139.6 893.4L157.7 892.6L193.8 889.1L229.9 885.1L302.2 871.5L374.6 847.6L483 751.8L555.3 553.7" fill="none" stroke="#e3b287" stroke-width="2.0" stroke-linejoin="round"/>
<circle cx="121.5" cy="894.2" r="4.5" fill="url(#d_t)"/>
<circle cx="139.6" cy="893.4" r="4.5" fill="url(#d_t)"/>
<circle cx="157.7" cy="892.6" r="4.5" fill="url(#d_t)"/>
<circle cx="193.8" cy="889.1" r="4.5" fill="url(#d_t)"/>
<circle cx="229.9" cy="885.1" r="4.5" fill="url(#d_t)"/>
<circle cx="302.2" cy="871.5" r="4.5" fill="url(#d_t)"/>
<circle cx="374.6" cy="847.6" r="4.5" fill="url(#d_t)"/>
<circle cx="483" cy="751.8" r="4.5" fill="url(#d_t)"/>
<circle cx="555.3" cy="553.7" r="4.5" fill="url(#d_t)"/>
<text x="90" y="908.2" text-anchor="end" font-size="25">0</text>
<text x="90" y="827.3" text-anchor="end" font-size="25">40</text>
<text x="90" y="746.4" text-anchor="end" font-size="25">80</text>
<text x="90" y="665.4" text-anchor="end" font-size="25">120</text>
<text x="90" y="584.5" text-anchor="end" font-size="25">160</text>
<text x="121.5" y="948.9" text-anchor="middle" font-size="25">0</text>
<text x="211.9" y="948.9" text-anchor="middle" font-size="25">25</text>
<text x="302.2" y="948.9" text-anchor="middle" font-size="25">50</text>
<text x="392.6" y="948.9" text-anchor="middle" font-size="25">75</text>
<text x="483" y="948.9" text-anchor="middle" font-size="25">100</text>
<text x="573.4" y="948.9" text-anchor="middle" font-size="25">125</text>
<text x="339.7" y="987.8" text-anchor="middle" font-size="25">Strain (%)</text>
<text transform="translate(19.6 723.5) rotate(-90)" text-anchor="middle" font-size="25"><tspan font-style="italic">R</tspan>/<tspan font-style="italic">R</tspan><tspan font-size="16.5" dy="9">0</tspan></text>
<line x1="118.4" y1="554.9" x2="169" y2="554.9" stroke="#ef5a5a" stroke-width="2.0"/>
<circle cx="143.7" cy="554.9" r="4.5" fill="url(#d_r)"/>
<text x="181" y="563.6" text-anchor="start" font-size="25">PAT</text>
<line x1="118.4" y1="586.9" x2="169" y2="586.9" stroke="#3c8fc4" stroke-width="2.0"/>
<circle cx="143.7" cy="586.9" r="4.5" fill="url(#d_b)"/>
<text x="181" y="595.6" text-anchor="start" font-size="25">AT</text>
<line x1="118.4" y1="618.7" x2="169" y2="618.7" stroke="#e3b287" stroke-width="2.0"/>
<circle cx="143.7" cy="618.7" r="4.5" fill="url(#d_t)"/>
<text x="181" y="627.4" text-anchor="start" font-size="25">ATP</text>
<text x="-1.5" y="550.3" text-anchor="start" font-size="42" font-weight="bold">d</text>
<path d="M816.2 872.4L816.6 873L817.1 873.6L817.5 874.2L817.9 874.8L818.3 875.4L818.8 876L819.2 876.4L819.6 876.8L820.1 877.3L820.5 877.7L820.9 878.1L821.4 878.6L821.8 879L822.2 879.4L822.6 879.8L823.1 880.3L823.5 880.7L823.9 881.1L824.4 880.3L824.8 879.4L825.2 878.6L825.7 877.7L826.1 876.8L826.5 876L826.9 875.7L827.4 875.5L827.8 875.2L828.2 874.9L828.7 874.6L829.1 874.4L829.5 874.1L830 873.8L830.4 873.6L830.8 873.3L831.2 873L831.7 872.7L832.1 872.5L832.5 872.2L833 871.9L833.4 871.7L833.8 871.7L834.3 871.8L834.7 871.8L835.1 871.9L835.5 871.9L836 872L836.4 872L836.8 872.1L837.3 872.1L837.7 872.2L838.1 872.2L838.5 872.3L839 872.3L839.4 872.4L839.8 872.4L840.3 872.4L840.7 872.5L841.1 872.5L841.6 872.6L842 872.6L842.4 872.7L842.8 872.7L843.3 872.8L843.7 872.8L844.1 872.9L844.6 872.9L845 873L845.4 873L845.9 873.1L846.3 873.1L846.7 873.2L847.1 873L847.6 872.8L848 872.6L848.4 872.3L848.9 872.1L849.3 871.9L849.7 871.7L850.2 871.5L850.6 871.3L851 871.1L851.4 870.8L851.9 870.6L852.3 870.4L852.7 870.2L853.2 870L853.6 869.8L854 869.6L854.5 869.3L854.9 869.1L855.3 868.9L855.7 868.7L856.2 868.5L856.6 868.3L857 868.1L857.5 867.9L857.9 867.6L858.3 867.4L858.8 867.2L859.2 867L859.6 866.8L860 866.6L860.5 866.4L860.9 866.1L861.3 865.9L861.8 865.7L862.2 865.5L862.6 865.3L863 865.1L863.5 864.9L863.9 864.6L864.3 864.4L864.8 864.2L865.2 864L865.6 863.8L866.1 863.6L866.5 863.4L866.9 863.2L867.3 862.9L867.8 862.7L868.2 862.6L868.6 862.4L869.1 862.3L869.5 862.1L869.9 861.9L870.4 861.8L870.8 861.6L871.2 861.5L871.6 861.3L872.1 861.1L872.5 861L872.9 860.8L873.4 860.7L873.8 860.5L874.2 860.4L874.7 860.2L875.1 860L875.5 859.9L875.9 859.7L876.4 859.6L876.8 859.4L877.2 859.2L877.7 859.1L878.1 858.9L878.5 858.8L879 858.6L879.4 858.5L879.8 858.3L880.2 858.1L880.7 858L881.1 857.8L881.5 857.7L882 857.5L882.4 857.3L882.8 857.2L883.2 857L883.7 856.9L884.1 856.7L884.5 856.6L885 856.4L885.4 856.2L885.8 856.1L886.3 855.9L886.7 855.8L887.1 855.6L887.5 855.4L888 855.3L888.4 855.1L888.8 855L889.3 854.8L889.7 854.7L890.1 854.5L890.6 854.3L891 854.2L891.4 854L891.8 853.9L892.3 853.7L892.7 853.6L893.1 853.4L893.6 853.2L894 853.1L894.4 852.9L894.9 852.8L895.3 852.6L895.7 852.4L896.1 852.3L896.6 852.1L897 852L897.4 851.8L897.9 851.7L898.3 851.5L898.7 853.2L899.2 854.8L899.6 854.8L900 854.8L900.4 854.8L900.9 854.8L901.3 854.8L901.7 854.8L902.2 854.8L902.6 854.8L903 854.8L903.4 854.8L903.9 854.8L904.3 854.8L904.7 854.8L905.2 854.8L905.6 854.8L906 854.8L906.5 854.8L906.9 854.8L907.3 854.8L907.7 854.8L908.2 854.8L908.6 854.6L909 854.3L909.5 854.1L909.9 853.8L910.3 853.6L910.8 853.3L911.2 853.1L911.6 852.8L912 852.6L912.5 852.3L912.9 852.1L913.3 851.8L913.8 851.6L914.2 851.3L914.6 851.1L915.1 850.8L915.5 850.6L915.9 850.3L916.3 850.1L916.8 849.8L917.2 849.6L917.6 849.4L918.1 849.1L918.5 848.9L918.9 848.6L919.4 848.4L919.8 848.1L920.2 847.9L920.6 847.6L921.1 847.4L921.5 847.1L921.9 846.9L922.4 846.6L922.8 846.4L923.2 846.1L923.7 845.9L924.1 844.3L924.5 842.8L924.9 842.6L925.4 842.5L925.8 842.3L926.2 842.2L926.7 842L927.1 841.8L927.5 841.7L927.9 841.5L928.4 841.3L928.8 841.2L929.2 841L929.7 840.8L930.1 840.7L930.5 840.5L931 840.3L931.4 840.2L931.8 840L932.2 839.8L932.7 839.7L933.1 839.5L933.5 839.3L934 839.2L934.4 839L934.8 838.8L935.3 838.7L935.7 838.5L936.1 838.3L936.5 838.2L937 838L937.4 837.8L937.8 837.7L938.3 837.5L938.7 837.3L939.1 837.2L939.6 837L940 836.8L940.4 836.7L940.8 836.5L941.3 836.3L941.7 836.2L942.1 836L942.6 835.8L943 835.7L943.4 835.5L943.9 835.3L944.3 835.2L944.7 837.6L945.1 840L945.6 840L946 839.9L946.4 839.9L946.9 839.8L947.3 839.8L947.7 839.8L948.1 839.7L948.6 839.7L949 839.6L949.4 839.6L949.9 839.6L950.3 839.5L950.7 839.5L951.2 839.5L951.6 839.4L952 839.4L952.4 839.3L952.9 839.3L953.3 839.3L953.7 839.2L954.2 839.2L954.6 839.1L955 839.1L955.5 839.1L955.9 839L956.3 839L956.7 838.9L957.2 838.9L957.6 838.9L958 838.8L958.5 838.8L958.9 838.7L959.3 838.6L959.8 838.5L960.2 838.3L960.6 838.2L961 838.1L961.5 837.9L961.9 837.8L962.3 837.7L962.8 837.5L963.2 837.4L963.6 837.3L964.1 837.1L964.5 837L964.9 836.9L965.3 836.7L965.8 836.6L966.2 836.5L966.6 836.4L967.1 836.2L967.5 836.1L967.9 836L968.3 835.8L968.8 835.7L969.2 835.6L969.6 835.4L970.1 835.3L970.5 835.2L970.9 835L971.4 834.9L971.8 834.8L972.2 834.6L972.6 834.5L973.1 834.4L973.5 834.2L973.9 834.1L974.4 834L974.8 833.8L975.2 833.7L975.7 833.6L976.1 833.4L976.5 833.3L976.9 833.2L977.4 833L977.8 832.9L978.2 832.8L978.7 832.7L979.1 832.5L979.5 832.4L980 832.3L980.4 832.1L980.8 832L981.2 831.9L981.7 831.7L982.1 831.6L982.5 831.5L983 831.3L983.4 826L983.8 820.6L984.3 820.5L984.7 820.4L985.1 820.3L985.5 820.3L986 820.2L986.4 820.1L986.8 820L987.3 819.9L987.7 819.8L988.1 819.7L988.5 819.6L989 819.5L989.4 819.4L989.8 819.4L990.3 819.3L990.7 819.2L991.1 819.1L991.6 819L992 818.9L992.4 818.8L992.8 818.7L993.3 818.6L993.7 818.5L994.1 818.5L994.6 818.4L995 818.3L995.4 818.2L995.9 818.1L996.3 818L996.7 817.9L997.1 817.8L997.6 817.7L998 817.6L998.4 817.6L998.9 817.5L999.3 817.4L999.7 817.3L1000.2 817.2L1000.6 817.1L1001 817L1001.4 816.9L1001.9 816.8L1002.3 816.7L1002.7 816.7L1003.2 816.6L1003.6 816.5L1004 816.4L1004.5 816.3L1004.9 816.2L1005.3 816.1L1005.7 816L1006.2 815.9L1006.6 815.8L1007 815.8L1007.5 815.7L1007.9 815.7L1008.3 815.6L1008.8 815.6L1009.2 815.5L1009.6 815.5L1010 815.5L1010.5 815.4L1010.9 815.4L1011.3 815.3L1011.8 815.3L1012.2 815.2L1012.6 815.2L1013 815.2L1013.5 815.1L1013.9 815.1L1014.3 815L1014.8 815L1015.2 815L1015.6 814.9L1016.1 814.9L1016.5 814.8L1016.9 814.8L1017.3 814.7L1017.8 814.7L1018.2 814.7L1018.6 814.6L1019.1 814.6L1019.5 814.5L1019.9 814.5L1020.4 814.4L1020.8 814.3L1021.2 814.3L1021.6 814.2L1022.1 814.1L1022.5 814L1022.9 813.9L1023.4 813.9L1023.8 813.8L1024.2 813.7L1024.7 813.6L1025.1 813.6L1025.5 813.5L1025.9 813.4L1026.4 813.3L1026.8 813.2L1027.2 813.2L1027.7 813.1L1028.1 813L1028.5 812.9L1029 812.9L1029.4 812.8L1029.8 812.7L1030.2 812.6L1030.7 812.6L1031.1 812.5L1031.5 812.4L1032 812.4L1032.4 812.3L1032.8 812.2L1033.2 812.2L1033.7 812.1L1034.1 812L1034.5 812L1035 811.9L1035.4 811.9L1035.8 811.8L1036.3 811.7L1036.7 811.7L1037.1 811.6L1037.5 811.5L1038 811.5L1038.4 811.4L1038.8 811.3L1039.3 811.3L1039.7 811.2L1040.1 811.1L1040.6 811.1L1041 811L1041.4 810.9L1041.8 810.9L1042.3 810.8L1042.7 810.8L1043.1 810.7L1043.6 810.6L1044 810.6L1044.4 810.5L1044.9 810.4L1045.3 810.4L1045.7 810.3L1046.1 810.2L1046.6 810.2L1047 810.1L1047.4 810L1047.9 810L1048.3 809.9L1048.7 809.8L1049.2 809.8L1049.6 809.7L1050 809.6L1050.4 809.6L1050.9 809.5L1051.3 809.5L1051.7 809.4L1052.2 809.3L1052.6 809.3L1053 809.2L1053.4 809.1L1053.9 809.1L1054.3 809L1054.7 808.9L1055.2 808.9L1055.6 808.8L1056 808.7L1056.5 808.7L1056.9 808.6L1057.3 804.4L1057.7 800.1L1058.2 795.9L1058.6 795.7L1059 795.6L1059.5 795.5L1059.9 795.4L1060.3 795.3L1060.8 795.2L1061.2 795.1L1061.6 795L1062 794.9L1062.5 794.8L1062.9 794.7L1063.3 794.6L1063.8 794.5L1064.2 794.4L1064.6 794.3L1065.1 794.2L1065.5 794.1L1065.9 794L1066.3 793.9L1066.8 793.8L1067.2 793.7L1067.6 793.5L1068.1 793.4L1068.5 793.3L1068.9 793.2L1069.4 793.1L1069.8 793L1070.2 792.9L1070.6 792.8L1071.1 792.7L1071.5 792.6L1071.9 792.5L1072.4 792.4L1072.8 792.3L1073.2 792.2L1073.7 792.1L1074.1 792L1074.5 791.9L1074.9 791.8L1075.4 791.7L1075.8 791.6L1076.2 791.5L1076.7 791.4L1077.1 791.2L1077.5 791.1L1077.9 791L1078.4 790.9L1078.8 790.8L1079.2 790.7L1079.7 790.6L1080.1 790.5L1080.5 790.4L1081 790.3L1081.4 790.2L1081.8 790.1L1082.2 790L1082.7 789.9L1083.1 789.8L1083.5 789.7L1084 789.6L1084.4 789.5L1084.8 789.4L1085.3 789.3L1085.7 789.3L1086.1 789.2L1086.5 789.1L1087 789.1L1087.4 789L1087.8 789L1088.3 788.9L1088.7 788.8L1089.1 788.8L1089.6 788.7L1090 788.6L1090.4 788.6L1090.8 788.5L1091.3 788.4L1091.7 788.4L1092.1 788.3L1092.6 788.2L1093 788.2L1093.4 788.1L1093.9 788L1094.3 788L1094.7 787.9L1095.1 787.9L1095.6 787.8L1096 787.7L1096.4 787.7L1096.9 787.6L1097.3 787.5L1097.7 787.5L1098.1 787.4L1098.6 787.3L1099 787.3L1099.4 787.2L1099.9 787.1L1100.3 787.1L1100.7 787L1101.2 786.9L1101.6 786.9L1102 786.8L1102.4 786.8L1102.9 786.7L1103.3 786.6L1103.7 786.6L1104.2 786.5L1104.6 786.4L1105 786.4L1105.5 786.3L1105.9 786.2L1106.3 786.2L1106.7 786.1L1107.2 786L1107.6 786L1108 785.9L1108.5 785.8L1108.9 785.8L1109.3 785.7L1109.8 785.7L1110.2 785.6L1110.6 785.5L1111 785.5L1111.5 785.4L1111.9 785.3L1112.3 785.3L1112.8 785.2L1113.2 785.1L1113.6 785.1L1114.1 785L1114.5 784.9L1114.9 784.9L1115.3 784.8L1115.8 784.7L1116.2 784.7L1116.6 784.6L1117.1 784.6L1117.5 784.5L1117.9 784.5L1118.3 784.4L1118.8 784.4L1119.2 784.3L1119.6 784.3L1120.1 784.2L1120.5 784.2L1120.9 784.1L1121.4 784.1L1121.8 784L1122.2 784L1122.6 783.9L1123.1 783.9L1123.5 783.8L1123.9 783.8L1124.4 783.7L1124.8 783.6L1125.2 783.6L1125.7 783.5L1126.1 783.5L1126.5 783.4L1126.9 783.4L1127.4 783.3L1127.8 783.3L1128.2 783.2L1128.7 783.2L1129.1 783.1L1129.5 783.1L1130 783L1130.4 783L1130.8 782.9L1131.2 782.9L1131.7 782.8L1132.1 782.8L1132.5 782.7L1133 782.7L1133.4 782.6L1133.8 782.6L1134.3 782.5L1134.7 782.5L1135.1 782.4L1135.5 782.4L1136 782.3L1136.4 782.3L1136.8 782.2L1137.3 782.2L1137.7 782.1L1138.1 782.1L1138.6 782L1139 782L1139.4 781.9L1139.8 781.9L1140.3 781.8L1140.7 781.8L1141.1 781.7L1141.6 781.7L1142 781.6L1142.4 781.6L1142.8 781.5L1143.3 781.5L1143.7 781.4L1144.1 781.4L1144.6 781.3L1145 781.2L1145.4 781.2L1145.9 781.1L1146.3 781.1L1146.7 781L1147.1 781L1147.6 780.9L1148 780.9L1148.4 780.8L1148.9 780.8L1149.3 780.8L1149.7 780.7L1150.2 780.7L1150.6 780.7L1151 780.7L1151.4 780.6L1151.9 780.6L1152.3 780.6L1152.7 780.5L1153.2 780.5L1153.6 780.5L1154 780.5L1154.5 780.4L1154.9 780.4L1155.3 780.4L1155.7 780.4L1156.2 780.3L1156.6 780.3L1157 780.3L1157.5 780.2L1157.9 780.2L1158.3 780.2L1158.8 780.2L1159.2 780.1L1159.6 780.1L1160 780.1L1160.5 780.1L1160.9 780L1161.3 780L1161.8 780L1162.2 779.9L1162.6 779.9L1163 779.9L1163.5 779.9L1163.9 779.8L1164.3 779.8L1164.8 779.8L1165.2 779.8L1165.6 779.7L1166.1 779.7L1166.5 779.7L1166.9 779.6L1167.3 779.6L1167.8 779.6L1168.2 779.6L1168.6 779.5L1169.1 779.5L1169.5 779.5L1169.9 779.5L1170.4 779.4L1170.8 779.4L1171.2 779.4L1171.6 779.3L1172.1 779.3L1172.5 779.3L1172.9 779.3L1173.4 779.2L1173.8 779.2L1174.2 779.2L1174.7 779.2L1175.1 779.1L1175.5 779.1L1175.9 779.1L1176.4 779L1176.8 779L1177.2 779L1177.7 779L1178.1 778.9L1178.5 778.9L1179 778.9L1179.4 778.9L1179.8 778.8L1180.2 778.8L1180.7 778.8L1181.1 778.7L1181.5 778.7L1182 778.7L1182.4 778.6L1182.8 778.6L1183.2 778.5L1183.7 778.5L1184.1 778.4L1184.5 778.4L1185 778.3L1185.4 778.3L1185.8 778.3L1186.3 778.2L1186.7 778.2L1187.1 778.1L1187.5 778.1L1188 778L1188.4 778L1188.8 777.9L1189.3 777.9L1189.7 777.9L1190.1 777.8L1190.6 777.8L1191 777.7L1191.4 777.7L1191.8 777.6L1192.3 777.6L1192.7 777.5L1193.1 777.5L1193.6 777.4L1194 777.4L1194.4 777.4L1194.9 777.3L1195.3 777.3L1195.7 777.2L1196.1 777.2L1196.6 777.1L1197 777.1L1197.4 777L1197.9 777L1198.3 777L1198.7 776.9L1199.2 776.9L1199.6 776.8L1200 776.8L1200.4 776.7L1200.9 776.7L1201.3 776.6L1201.7 776.6L1202.2 776.6L1202.6 776.5L1203 776.5L1203.4 776.4L1203.9 776.4L1204.3 776.3L1204.7 776.3L1205.2 776.2L1205.6 776.2L1206 776.1L1206.5 776.1L1206.9 776.1L1207.3 776L1207.7 776L1208.2 775.9L1208.6 775.9L1209 775.8L1209.5 775.8L1209.9 775.7L1210.3 775.7L1210.8 775.7L1211.2 775.6L1211.6 775.6L1212 775.5L1212.5 775.5L1212.9 775.4L1213.3 775.4L1213.8 775.3L1214.2 775.3L1214.6 775.2L1215.1 775.2L1215.5 775.1L1215.9 775.1L1216.3 775L1216.8 775L1217.2 774.9L1217.6 774.9L1218.1 774.8L1218.5 774.8L1218.9 774.7L1219.4 774.7L1219.8 774.6L1220.2 774.6L1220.6 774.5L1221.1 774.5L1221.5 774.4L1221.9 774.4L1222.4 774.3L1222.8 774.3L1223.2 774.2L1223.7 774.2L1224.1 774.1L1224.5 774.1L1224.9 774L1225.4 774L1225.8 773.9L1226.2 773.9L1226.7 773.8L1227.1 773.8L1227.5 773.7L1227.9 773.7L1228.4 773.6L1228.8 773.6L1229.2 773.5L1229.7 773.5L1230.1 773.4L1230.5 773.4L1231 773.3L1231.4 773.3L1231.8 773.2L1232.2 773.2L1232.7 773.1L1233.1 773.1L1233.5 773L1234 773L1234.4 772.9L1234.8 772.9L1235.3 772.8L1235.7 772.8L1236.1 772.7L1236.5 772.7L1237 772.6L1237.4 772.6L1237.8 772.5L1238.3 772.5L1238.7 772.4L1239.1 772.4L1239.6 772.3L1240 772.3L1240.4 772.2L1240.8 772.2L1241.3 772.1L1241.7 772.1L1242.1 772L1242.6 772L1243 771.9L1243.4 771.9L1243.9 771.9L1244.3 771.8L1244.7 771.8L1245.1 771.7L1245.6 771.7L1246 771.6L1246 761.4L1245.6 761.4L1245.1 761.5L1244.7 761.5L1244.3 761.6L1243.9 761.7L1243.4 761.7L1243 761.8L1242.6 761.8L1242.1 761.9L1241.7 761.9L1241.3 762L1240.8 762L1240.4 762.1L1240 762.1L1239.6 762.2L1239.1 762.2L1238.7 762.3L1238.3 762.3L1237.8 762.4L1237.4 762.4L1237 762.5L1236.5 762.5L1236.1 762.6L1235.7 762.6L1235.3 762.7L1234.8 762.7L1234.4 762.8L1234 762.8L1233.5 762.9L1233.1 763L1232.7 763L1232.2 763.1L1231.8 763.1L1231.4 763.2L1231 763.2L1230.5 763.3L1230.1 763.3L1229.7 763.4L1229.2 763.4L1228.8 763.5L1228.4 763.5L1227.9 763.6L1227.5 763.6L1227.1 763.7L1226.7 763.7L1226.2 763.8L1225.8 763.8L1225.4 763.9L1224.9 763.9L1224.5 764L1224.1 764L1223.7 764.1L1223.2 764.2L1222.8 764.2L1222.4 764.3L1221.9 764.3L1221.5 764.4L1221.1 764.4L1220.6 764.5L1220.2 764.5L1219.8 764.6L1219.4 764.6L1218.9 764.7L1218.5 764.7L1218.1 764.8L1217.6 764.8L1217.2 764.9L1216.8 764.9L1216.3 765L1215.9 765L1215.5 765.1L1215.1 765.1L1214.6 765.2L1214.2 765.2L1213.8 765.3L1213.3 765.3L1212.9 765.4L1212.5 765.4L1212 765.5L1211.6 765.5L1211.2 765.6L1210.8 765.6L1210.3 765.7L1209.9 765.7L1209.5 765.8L1209 765.8L1208.6 765.9L1208.2 765.9L1207.7 766L1207.3 766L1206.9 766.1L1206.5 766.1L1206 766.2L1205.6 766.2L1205.2 766.3L1204.7 766.3L1204.3 766.3L1203.9 766.4L1203.4 766.4L1203 766.5L1202.6 766.5L1202.2 766.6L1201.7 766.6L1201.3 766.7L1200.9 766.7L1200.4 766.8L1200 766.8L1199.6 766.9L1199.2 766.9L1198.7 767L1198.3 767L1197.9 767.1L1197.4 767.1L1197 767.1L1196.6 767.2L1196.1 767.2L1195.7 767.3L1195.3 767.3L1194.9 767.4L1194.4 767.4L1194 767.5L1193.6 767.5L1193.1 767.6L1192.7 767.6L1192.3 767.7L1191.8 767.7L1191.4 767.8L1191 767.8L1190.6 767.9L1190.1 767.9L1189.7 767.9L1189.3 768L1188.8 768L1188.4 768.1L1188 768.1L1187.5 768.2L1187.1 768.2L1186.7 768.3L1186.3 768.3L1185.8 768.4L1185.4 768.4L1185 768.5L1184.5 768.5L1184.1 768.6L1183.7 768.6L1183.2 768.7L1182.8 768.7L1182.4 768.8L1182 768.8L1181.5 768.8L1181.1 768.9L1180.7 768.9L1180.2 769L1179.8 769L1179.4 769L1179 769L1178.5 769.1L1178.1 769.1L1177.7 769.1L1177.2 769.2L1176.8 769.2L1176.4 769.2L1175.9 769.2L1175.5 769.3L1175.1 769.3L1174.7 769.3L1174.2 769.4L1173.8 769.4L1173.4 769.4L1172.9 769.5L1172.5 769.5L1172.1 769.5L1171.6 769.5L1171.2 769.6L1170.8 769.6L1170.4 769.6L1169.9 769.7L1169.5 769.7L1169.1 769.7L1168.6 769.8L1168.2 769.8L1167.8 769.8L1167.3 769.8L1166.9 769.9L1166.5 769.9L1166.1 769.9L1165.6 770L1165.2 770L1164.8 770L1164.3 770L1163.9 770.1L1163.5 770.1L1163 770.1L1162.6 770.2L1162.2 770.2L1161.8 770.2L1161.3 770.3L1160.9 770.3L1160.5 770.3L1160 770.3L1159.6 770.4L1159.2 770.4L1158.8 770.4L1158.3 770.5L1157.9 770.5L1157.5 770.5L1157 770.5L1156.6 770.6L1156.2 770.6L1155.7 770.6L1155.3 770.7L1154.9 770.7L1154.5 770.7L1154 770.8L1153.6 770.8L1153.2 770.8L1152.7 770.8L1152.3 770.9L1151.9 770.9L1151.4 770.9L1151 771L1150.6 771L1150.2 771L1149.7 771.1L1149.3 771.1L1148.9 771.1L1148.4 771.2L1148 771.2L1147.6 771.3L1147.1 771.3L1146.7 771.4L1146.3 771.4L1145.9 771.5L1145.4 771.5L1145 771.6L1144.6 771.6L1144.1 771.7L1143.7 771.8L1143.3 771.8L1142.8 771.9L1142.4 771.9L1142 772L1141.6 772L1141.1 772.1L1140.7 772.1L1140.3 772.2L1139.8 772.2L1139.4 772.3L1139 772.3L1138.6 772.4L1138.1 772.4L1137.7 772.5L1137.3 772.6L1136.8 772.6L1136.4 772.7L1136 772.7L1135.5 772.8L1135.1 772.8L1134.7 772.9L1134.3 772.9L1133.8 773L1133.4 773L1133 773.1L1132.5 773.1L1132.1 773.2L1131.7 773.2L1131.2 773.3L1130.8 773.4L1130.4 773.4L1130 773.5L1129.5 773.5L1129.1 773.6L1128.7 773.6L1128.2 773.7L1127.8 773.7L1127.4 773.8L1126.9 773.8L1126.5 773.9L1126.1 773.9L1125.7 774L1125.2 774L1124.8 774.1L1124.4 774.2L1123.9 774.2L1123.5 774.3L1123.1 774.3L1122.6 774.4L1122.2 774.4L1121.8 774.5L1121.4 774.5L1120.9 774.6L1120.5 774.6L1120.1 774.7L1119.6 774.7L1119.2 774.8L1118.8 774.8L1118.3 774.9L1117.9 775L1117.5 775L1117.1 775.1L1116.6 775.1L1116.2 775.2L1115.8 775.2L1115.3 775.3L1114.9 775.4L1114.5 775.5L1114.1 775.5L1113.6 775.6L1113.2 775.7L1112.8 775.7L1112.3 775.8L1111.9 775.9L1111.5 775.9L1111 776L1110.6 776.1L1110.2 776.1L1109.8 776.2L1109.3 776.3L1108.9 776.3L1108.5 776.4L1108 776.5L1107.6 776.5L1107.2 776.6L1106.7 776.7L1106.3 776.7L1105.9 776.8L1105.5 776.9L1105 776.9L1104.6 777L1104.2 777.1L1103.7 777.1L1103.3 777.2L1102.9 777.3L1102.4 777.3L1102 777.4L1101.6 777.5L1101.2 777.5L1100.7 777.6L1100.3 777.7L1099.9 777.7L1099.4 777.8L1099 777.9L1098.6 777.9L1098.1 778L1097.7 778.1L1097.3 778.1L1096.9 778.2L1096.4 778.3L1096 778.3L1095.6 778.4L1095.1 778.5L1094.7 778.5L1094.3 778.6L1093.9 778.7L1093.4 778.7L1093 778.8L1092.6 778.9L1092.1 778.9L1091.7 779L1091.3 779.1L1090.8 779.1L1090.4 779.2L1090 779.3L1089.6 779.3L1089.1 779.4L1088.7 779.5L1088.3 779.5L1087.8 779.6L1087.4 779.7L1087 779.7L1086.5 779.8L1086.1 779.9L1085.7 779.9L1085.3 780L1084.8 780.1L1084.4 780.1L1084 780.2L1083.5 780.4L1083.1 780.5L1082.7 780.6L1082.2 780.7L1081.8 780.8L1081.4 780.9L1081 781L1080.5 781.1L1080.1 781.2L1079.7 781.3L1079.2 781.4L1078.8 781.5L1078.4 781.6L1077.9 781.7L1077.5 781.9L1077.1 782L1076.7 782.1L1076.2 782.2L1075.8 782.3L1075.4 782.4L1074.9 782.5L1074.5 782.6L1074.1 782.7L1073.7 782.8L1073.2 782.9L1072.8 783L1072.4 783.1L1071.9 783.2L1071.5 783.4L1071.1 783.5L1070.6 783.6L1070.2 783.7L1069.8 783.8L1069.4 783.9L1068.9 784L1068.5 784.1L1068.1 784.2L1067.6 784.3L1067.2 784.4L1066.8 784.5L1066.3 784.6L1065.9 784.7L1065.5 784.8L1065.1 785L1064.6 785.1L1064.2 785.2L1063.8 785.3L1063.3 785.4L1062.9 785.5L1062.5 785.6L1062 785.7L1061.6 785.8L1061.2 785.9L1060.8 786L1060.3 786.1L1059.9 786.2L1059.5 786.3L1059 786.5L1058.6 786.9L1058.2 787.4L1057.7 792.1L1057.3 796.7L1056.9 801.3L1056.5 801.8L1056 802.2L1055.6 802.7L1055.2 803.1L1054.7 803.6L1054.3 803.6L1053.9 803.7L1053.4 803.8L1053 803.8L1052.6 803.9L1052.2 804L1051.7 804L1051.3 804.1L1050.9 804.2L1050.4 804.2L1050 804.3L1049.6 804.4L1049.2 804.4L1048.7 804.5L1048.3 804.5L1047.9 804.6L1047.4 804.7L1047 804.7L1046.6 804.8L1046.1 804.9L1045.7 804.9L1045.3 805L1044.9 805.1L1044.4 805.1L1044 805.2L1043.6 805.3L1043.1 805.3L1042.7 805.4L1042.3 805.5L1041.8 805.5L1041.4 805.6L1041 805.7L1040.6 805.7L1040.1 805.8L1039.7 805.8L1039.3 805.9L1038.8 806L1038.4 806L1038 806.1L1037.5 806.2L1037.1 806.2L1036.7 806.3L1036.3 806.4L1035.8 806.4L1035.4 806.5L1035 806.6L1034.5 806.6L1034.1 806.7L1033.7 806.8L1033.2 806.8L1032.8 806.9L1032.4 806.9L1032 807L1031.5 807.1L1031.1 807.1L1030.7 807.2L1030.2 807.3L1029.8 807.3L1029.4 807.4L1029 807.5L1028.5 807.6L1028.1 807.6L1027.7 807.7L1027.2 807.8L1026.8 807.9L1026.4 808L1025.9 808L1025.5 808.1L1025.1 808.2L1024.7 808.3L1024.2 808.3L1023.8 808.4L1023.4 808.5L1022.9 808.6L1022.5 808.7L1022.1 808.7L1021.6 808.8L1021.2 808.9L1020.8 809L1020.4 809L1019.9 809.1L1019.5 809.2L1019.1 809.2L1018.6 809.3L1018.2 809.3L1017.8 809.3L1017.3 809.4L1016.9 809.4L1016.5 809.5L1016.1 809.5L1015.6 809.5L1015.2 809.6L1014.8 809.6L1014.3 809.7L1013.9 809.7L1013.5 809.8L1013 809.8L1012.6 809.8L1012.2 809.9L1011.8 809.9L1011.3 810L1010.9 810L1010.5 810.1L1010 810.1L1009.6 810.1L1009.2 810.2L1008.8 810.2L1008.3 810.3L1007.9 810.3L1007.5 810.4L1007 810.4L1006.6 810.5L1006.2 810.6L1005.7 810.7L1005.3 810.8L1004.9 810.8L1004.5 810.9L1004 811L1003.6 811.1L1003.2 811.2L1002.7 811.3L1002.3 811.4L1001.9 811.5L1001.4 811.6L1001 811.7L1000.6 811.7L1000.2 811.8L999.7 811.9L999.3 812L998.9 812.1L998.4 812.2L998 812.3L997.6 812.4L997.1 812.5L996.7 812.6L996.3 812.6L995.9 812.7L995.4 812.8L995 812.9L994.6 813L994.1 813.1L993.7 813.2L993.3 813.3L992.8 813.4L992.4 813.5L992 813.5L991.6 813.6L991.1 813.7L990.7 813.8L990.3 813.9L989.8 814L989.4 814.1L989 814.2L988.5 814.3L988.1 814.4L987.7 814.4L987.3 814.5L986.8 814.6L986.4 814.7L986 814.8L985.5 814.9L985.1 815L984.7 815.1L984.3 814.5L983.8 813.8L983.4 818.5L983 823.2L982.5 823.3L982.1 823.4L981.7 823.5L981.2 823.7L980.8 823.8L980.4 823.9L980 824L979.5 824.2L979.1 824.3L978.7 824.4L978.2 824.6L977.8 824.7L977.4 824.8L976.9 824.9L976.5 825.1L976.1 825.2L975.7 825.3L975.2 825.4L974.8 825.6L974.4 825.7L973.9 825.8L973.5 825.9L973.1 826.1L972.6 826.2L972.2 826.3L971.8 826.4L971.4 826.6L970.9 826.7L970.5 826.8L970.1 827L969.6 827.1L969.2 827.2L968.8 827.3L968.3 827.5L967.9 827.6L967.5 827.7L967.1 827.8L966.6 828L966.2 828.1L965.8 828.2L965.3 828.3L964.9 828.5L964.5 828.6L964.1 828.7L963.6 828.8L963.2 829L962.8 829.1L962.3 829.2L961.9 829.4L961.5 829.5L961 829.6L960.6 829.7L960.2 829.9L959.8 830L959.3 830.1L958.9 830.2L958.5 830.3L958 830.3L957.6 830.3L957.2 830.4L956.7 830.4L956.3 830.4L955.9 830.5L955.5 830.5L955 830.5L954.6 830.6L954.2 830.6L953.7 830.6L953.3 830.7L952.9 830.7L952.4 830.8L952 830.8L951.6 830.8L951.2 830.9L950.7 830.9L950.3 830.9L949.9 831L949.4 831L949 831L948.6 831.1L948.1 831.1L947.7 831.1L947.3 831.2L946.9 831.2L946.4 831.2L946 831.3L945.6 831.3L945.1 831.3L944.7 828.9L944.3 826.5L943.9 826.7L943.4 826.9L943 827L942.6 827.2L942.1 827.4L941.7 827.6L941.3 827.7L940.8 827.9L940.4 828.1L940 828.3L939.6 828.4L939.1 828.6L938.7 828.8L938.3 829L937.8 829.1L937.4 829.3L937 829.5L936.5 829.7L936.1 829.8L935.7 830L935.3 830.2L934.8 830.4L934.4 830.6L934 830.7L933.5 830.9L933.1 831.1L932.7 831.3L932.2 831.4L931.8 831.6L931.4 831.8L931 832L930.5 832.1L930.1 832.3L929.7 832.5L929.2 832.7L928.8 832.8L928.4 833L927.9 833.2L927.5 833.4L927.1 833.5L926.7 833.7L926.2 833.9L925.8 834.1L925.4 834.3L924.9 834.4L924.5 834.6L924.1 836.1L923.7 837.7L923.2 837.9L922.8 838.2L922.4 838.5L921.9 838.7L921.5 839L921.1 839.2L920.6 839.5L920.2 839.8L919.8 840L919.4 840.3L918.9 840.5L918.5 840.8L918.1 841L917.6 841.3L917.2 841.6L916.8 841.8L916.3 842.1L915.9 842.3L915.5 842.6L915.1 842.8L914.6 843.1L914.2 843.4L913.8 843.6L913.3 843.9L912.9 844.1L912.5 844.4L912 844.6L911.6 844.9L911.2 845.2L910.8 845.4L910.3 845.7L909.9 845.9L909.5 846.2L909 846.5L908.6 846.7L908.2 847L907.7 847L907.3 847L906.9 847L906.5 847L906 847L905.6 847L905.2 847L904.7 847L904.3 847.1L903.9 847.1L903.4 847.1L903 847.1L902.6 847.1L902.2 847.1L901.7 847.1L901.3 847.1L900.9 847.1L900.4 847.1L900 847.2L899.6 847.4L899.2 847.6L898.7 846.1L898.3 844.7L897.9 845L897.4 845.2L897 845.3L896.6 845.5L896.1 845.6L895.7 845.8L895.3 845.9L894.9 846L894.4 846.2L894 846.3L893.6 846.5L893.1 846.6L892.7 846.8L892.3 846.9L891.8 847.1L891.4 847.2L891 847.4L890.6 847.5L890.1 847.7L889.7 847.8L889.3 848L888.8 848.1L888.4 848.2L888 848.4L887.5 848.5L887.1 848.7L886.7 848.8L886.3 849L885.8 849.1L885.4 849.3L885 849.4L884.5 849.6L884.1 849.7L883.7 849.9L883.2 850L882.8 850.2L882.4 850.3L882 850.4L881.5 850.6L881.1 850.7L880.7 850.9L880.2 851L879.8 851.2L879.4 851.3L879 851.5L878.5 851.6L878.1 851.8L877.7 851.9L877.2 852.1L876.8 852.2L876.4 852.4L875.9 852.5L875.5 852.7L875.1 852.8L874.7 852.9L874.2 853.1L873.8 853.2L873.4 853.4L872.9 853.5L872.5 853.7L872.1 853.8L871.6 854L871.2 854.1L870.8 854.3L870.4 854.4L869.9 854.6L869.5 854.7L869.1 854.9L868.6 855L868.2 855.1L867.8 855.3L867.3 855.5L866.9 855.7L866.5 855.9L866.1 856.1L865.6 856.3L865.2 856.5L864.8 856.7L864.3 856.9L863.9 857.1L863.5 857.3L863 857.5L862.6 857.7L862.2 857.9L861.8 858.1L861.3 858.3L860.9 858.5L860.5 858.7L860 858.9L859.6 859.1L859.2 859.3L858.8 859.5L858.3 859.7L857.9 859.9L857.5 860.1L857 860.3L856.6 860.5L856.2 860.7L855.7 860.9L855.3 861.1L854.9 861.3L854.5 861.5L854 861.7L853.6 861.9L853.2 862.1L852.7 862.3L852.3 862.5L851.9 862.7L851.4 862.9L851 863.1L850.6 863.3L850.2 863.5L849.7 863.7L849.3 863.9L848.9 864.1L848.4 864.3L848 864.5L847.6 864.7L847.1 864.9L846.7 865.1L846.3 865L845.9 865L845.4 864.9L845 864.8L844.6 864.8L844.1 864.7L843.7 864.6L843.3 864.6L842.8 864.5L842.4 864.4L842 864.4L841.6 864.3L841.1 864.2L840.7 864.2L840.3 864.1L839.8 864.1L839.4 864L839 863.9L838.5 863.9L838.1 863.8L837.7 863.7L837.3 863.7L836.8 863.6L836.4 863.5L836 863.5L835.5 863.4L835.1 863.3L834.7 863.3L834.3 863.2L833.8 863.1L833.4 863.1L833 863.3L832.5 863.6L832.1 863.9L831.7 864.1L831.2 864.4L830.8 864.6L830.4 864.9L830 865.1L829.5 865.4L829.1 865.6L828.7 865.9L828.2 866.2L827.8 866.4L827.4 866.7L826.9 866.9L826.5 867.2L826.1 868L825.7 868.8L825.2 869.7L824.8 870.5L824.4 871.4L823.9 872.2L823.5 871.7L823.1 871.3L822.6 870.9L822.2 870.4L821.8 870L821.4 869.5L820.9 869.1L820.5 868.7L820.1 868.2L819.6 867.8L819.2 867.3L818.8 866.9L818.3 866.3L817.9 865.7L817.5 865.1L817.1 864.5L816.6 863.8L816.2 863.2Z" fill="#3a9adc"/>
<g transform="scale(0.5)"><path d="m1632 1687h0m0 28h0m0 14h0m0 1h0m0 9h0m1-83h0m0 4h0m0 3h0m0 0h0m0 3h0m0 2h0m0 0h0m0 2h0m0 2h0m0 7h0m0 1h0m0 0h0m0 4h0m0 5h0m0 0h0m0 2h0m0 1h0m0 1h0m0 1h0m0 0h0m0 2h0m0 0h0m0 1h0m0 2h0m0 0h0m0 2h0m0 2h0m0 2h0m0 2h0m0 1h0m0 2h0m0 0h0m0 2h0m0 1h0m0 0h0m0 1h0m0 2h0m0 2h0m0 1h0m0 0h0m0 0h0m0 1h0m0 2h0m0 1h0m0 1h0m0 1h0m0 1h0m0 0h0m0 2h0m0 0h0m0 0h0m0 1h0m0 2h0m0 0h0m0 2h0m0 1h0m0 0h0m0 1h0m0 1h0m0 3h0m0 1h0m0 0h0m0 0h0m0 1h0m0 1h0m0 0h0m0 0h0m0 0h0m0 0h0m0 1h0m0 0h0m0 1h0m0 0h0m0 1h0m0 1h0m0 1h0m1-90h0m0 0h0m0 6h0m0 0h0m0 4h0m0 3h0m0 3h0m0 4h0m0 0h0m0 1h0m0 4h0m0 3h0m0 0h0m0 2h0m0 2h0m0 5h0m0 1h0m0 3h0m0 0h0m0 3h0m0 2h0m0 0h0m0 1h0m0 4h0m0 0h0m0 0h0m0 0h0m0 1h0m0 1h0m0 1h0m0 1h0m0 2h0m0 4h0m0 1h0m0 0h0m0 3h0m0 3h0m0 1h0m0 3h0m0 0h0m0 2h0m0 2h0m0 0h0m0 1h0m0 0h0m0 0h0m0 0h0m0 1h0m0 0h0m0 0h0m0 0h0m0 2h0m0 2h0m0 2h0m0 1h0m0 0h0m0 0h0m0 0h0m0 1h0m0 1h0m0 1h0m0 0h0m0 1h0m0 0h0m0 0h0m0 1h0m0 0h0m1-54h0m0 1h0m0 8h0m0 3h0m0 13h0m0 2h0m0 1h0m0 3h0m0 4h0m0 1h0m0 2h0m0 1h0m0 0h0m0 2h0m0 0h0m0 2h0m0 0h0m0 1h0m0 0h0m0 6h0m1-73h0m0 24h0m0 6h0m0 1h0m0 2h0m0 1h0m0 12h0m0 2h0m0 3h0m0 6h0m0 4h0m1-57h0m0 3h0m0 18h0m0 1h0m0 7h0m0 1h0m0 9h0m0 5h0m0 3h0m0 1h0m0 4h0m0 1h0m0 3h0m0 1h0m0 0h0m0 7h0m0 3h0m1-66h0m0 2h0m0 9h0m0 1h0m0 0h0m0 20h0m0 3h0m0 1h0m0 1h0m0 0h0m0 7h0m0 4h0m0 2h0m0 4h0m0 6h0m0 0h0m0 9h0m1-85h0m0 14h0m0 31h0m0 28h0m0 1h0m0 1h0m0 2h0m0 1h0m0 3h0m0 0h0m0 5h0m1-60h0m0 13h0m0 7h0m0 0h0m0 8h0m0 0h0m0 1h0m0 5h0m0 3h0m0 1h0m0 13h0m0 1h0m0 6h0m1-83h0m0 3h0m0 31h0m0 2h0m0 0h0m0 3h0m0 6h0m0 10h0m0 9h0m0 6h0m0 0h0m0 3h0m0 4h0m0 0h0m0 1h0m0 2h0m0 4h0m0 3h0m1-77h0m0 12h0m0 11h0m0 12h0m0 1h0m0 10h0m0 10h0m0 3h0m0 4h0m0 0h0m0 1h0m0 4h0m0 0h0m0 1h0m0 7h0m1-35h0m0 5h0m0 8h0m0 8h0m0 2h0m0 0h0m0 1h0m0 0h0m0 1h0m0 3h0m0 6h0m0 2h0m0 0h0m0 1h0m0 0h0m0 1h0m1-44h0m0 1h0m0 3h0m0 1h0m0 2h0m0 0h0m0 10h0m0 3h0m0 1h0m0 1h0m0 9h0m0 4h0m0 0h0m0 8h0m0 1h0m0 0h0m0 0h0m0 1h0m1-69h0m0 21h0m0 3h0m0 2h0m0 1h0m0 5h0m0 18h0m0 1h0m0 2h0m0 4h0m0 5h0m0 4h0m0 2h0m1-62h0m0 6h0m0 10h0m0 9h0m0 3h0m0 5h0m0 2h0m0 3h0m0 11h0m0 7h0m0 1h0m0 0h0m0 1h0m0 0h0m0 1h0m0 1h0m0 3h0m1-70h0m0 22h0m0 0h0m0 7h0m0 4h0m0 3h0m0 3h0m0 6h0m0 1h0m0 4h0m0 8h0m0 1h0m0 1h0m0 2h0m0 2h0m0 3h0m0 2h0m1-84h0m0 20h0m0 5h0m0 2h0m0 8h0m0 3h0m0 2h0m0 1h0m0 2h0m0 1h0m0 1h0m0 2h0m0 4h0m0 16h0m0 1h0m0 4h0m0 1h0m0 1h0m0 1h0m0 4h0m0 1h0m0 5h0m0 3h0m1-57h0m0 10h0m0 9h0m0 4h0m0 1h0m0 5h0m0 14h0m0 1h0m1-79h0m0 6h0m0 10h0m0 35h0m0 10h0m0 1h0m0 0h0m0 4h0m0 6h0m0 5h0m0 1h0m0 8h0m0 0h0m0 0h0m1-66h0m0 22h0m0 0h0m0 1h0m0 8h0m0 11h0m0 3h0m0 3h0m0 1h0m0 4h0m0 1h0m0 4h0m0 3h0m0 1h0m0 2h0m0 0h0m0 1h0m0 0h0m0 0h0m0 0h0m0 1h0m0 1h0m1-67h0m0 4h0m0 26h0m0 1h0m0 4h0m0 6h0m0 9h0m0 3h0m0 0h0m0 1h0m0 3h0m1-41h0m0 0h0m0 0h0m0 1h0m0 2h0m0 5h0m0 5h0m0 2h0m0 4h0m0 1h0m0 2h0m0 4h0m0 3h0m0 3h0m0 1h0m0 13h0m1-59h0m0 1h0m0 4h0m0 1h0m0 2h0m0 2h0m0 0h0m0 2h0m0 3h0m0 1h0m0 6h0m0 0h0m0 8h0m0 1h0m0 3h0m0 0h0m0 11h0m0 1h0m0 3h0m0 1h0m0 5h0m0 0h0m0 3h0m0 1h0m0 0h0m1-45h0m0 11h0m0 4h0m0 2h0m0 1h0m0 17h0m0 0h0m0 1h0m0 3h0m0 0h0m1-92h0m0 38h0m0 1h0m0 10h0m0 12h0m0 3h0m0 5h0m0 11h0m0 1h0m0 0h0m0 9h0m0 0h0m0 6h0m1-75h0m0 19h0m0 10h0m0 1h0m0 6h0m0 5h0m0 1h0m0 9h0m0 2h0m0 7h0m0 2h0m0 2h0m0 2h0m0 2h0m0 6h0m0 1h0m1-49h0m0 2h0m0 1h0m0 3h0m0 0h0m0 2h0m0 1h0m0 2h0m0 0h0m0 7h0m0 3h0m0 1h0m0 1h0m0 3h0m0 1h0m0 9h0m0 1h0m0 1h0m0 2h0m0 1h0m0 5h0m1-45h0m0 19h0m0 1h0m0 1h0m0 5h0m0 3h0m0 4h0m0 3h0m0 2h0m0 4h0m1-76h0m0 5h0m0 10h0m0 9h0m0 9h0m0 7h0m0 4h0m0 3h0m0 8h0m0 5h0m0 7h0m0 2h0m0 0h0m0 1h0m0 0h0m0 2h0m0 1h0m0 0h0m1-60h0m0 16h0m0 4h0m0 1h0m0 3h0m0 11h0m0 0h0m0 2h0m0 2h0m0 6h0m0 1h0m0 3h0m0 4h0m0 1h0m0 6h0m0 1h0m0 0h0m0 1h0m0 2h0m1-55h0m0 8h0m0 3h0m0 6h0m0 1h0m0 0h0m0 0h0m0 11h0m0 0h0m0 2h0m0 0h0m0 12h0m0 1h0m0 7h0m0 1h0m0 4h0m0 0h0m0 0h0m1-76h0m0 32h0m0 4h0m0 4h0m0 6h0m0 12h0m0 2h0m0 5h0m0 0h0m0 1h0m0 1h0m0 1h0m0 4h0m0 0h0m0 4h0m1-78h0m0 32h0m0 3h0m0 11h0m0 2h0m0 2h0m0 1h0m0 1h0m0 3h0m0 9h0m0 2h0m0 1h0m0 3h0m0 4h0m0 1h0m1-48h0m0 2h0m0 4h0m0 1h0m0 0h0m0 6h0m0 11h0m0 10h0m0 3h0m0 5h0m0 6h0m0 0h0m0 1h0m0 0h0m1-92h0m0 21h0m0 9h0m0 6h0m0 14h0m0 9h0m0 0h0m0 3h0m0 4h0m0 4h0m0 4h0m0 0h0m0 2h0m0 1h0m0 0h0m0 0h0m0 6h0m0 5h0m0 1h0m0 3h0m1-62h0m0 16h0m0 6h0m0 7h0m0 12h0m0 3h0m0 3h0m0 3h0m0 3h0m0 0h0m0 5h0m1-85h0m0 32h0m0 10h0m0 2h0m0 1h0m0 4h0m0 1h0m0 0h0m0 3h0m0 4h0m0 0h0m0 1h0m0 3h0m0 0h0m0 1h0m0 9h0m0 2h0m0 9h0m0 5h0m1-64h0m0 15h0m0 2h0m0 7h0m0 5h0m0 0h0m0 1h0m0 2h0m0 0h0m0 0h0m0 1h0m0 10h0m0 6h0m0 3h0m0 0h0m0 3h0m0 0h0m0 3h0m0 0h0m0 0h0m0 6h0m1-62h0m0 19h0m0 5h0m0 6h0m0 1h0m0 13h0m0 2h0m0 2h0m0 0h0m0 3h0m0 1h0m0 0h0m0 1h0m0 2h0m0 4h0m1-41h0m0 2h0m0 0h0m0 1h0m0 7h0m0 5h0m0 1h0m0 1h0m0 4h0m0 6h0m0 6h0m0 4h0m0 0h0m0 2h0m0 0h0m0 4h0m1-71h0m0 4h0m0 25h0m0 4h0m0 2h0m0 2h0m0 8h0m0 7h0m0 1h0m0 7h0m0 1h0m0 2h0m0 1h0m0 3h0m0 0h0m0 2h0m0 3h0m1-73h0m0 2h0m0 8h0m0 26h0m0 2h0m0 0h0m0 7h0m0 0h0m0 10h0m0 1h0m0 2h0m0 4h0m0 5h0m0 5h0m0 3h0m1-68h0m0 1h0m0 23h0m0 2h0m0 8h0m0 10h0m0 0h0m0 6h0m0 3h0m0 2h0m0 7h0m1-66h0m0 13h0m0 10h0m0 17h0m0 5h0m0 8h0m0 1h0m0 4h0m0 3h0m0 0h0m0 1h0m0 0h0m0 0h0m0 6h0m0 3h0m1-43h0m0 5h0m0 0h0m0 5h0m0 1h0m0 7h0m0 1h0m0 2h0m0 2h0m0 1h0m0 4h0m0 3h0m0 0h0m0 1h0m0 4h0m0 2h0m0 2h0m0 2h0m0 0h0m0 1h0m1-45h0m0 11h0m0 10h0m0 2h0m0 12h0m0 1h0m0 0h0m0 0h0m0 1h0m0 4h0m0 2h0m0 1h0m0 1h0m1-91h0m0 36h0m0 16h0m0 27h0m0 3h0m0 1h0m0 2h0m0 1h0m0 1h0m0 6h0m1-65h0m0 8h0m0 7h0m0 13h0m0 3h0m0 2h0m0 0h0m0 4h0m0 5h0m0 10h0m0 1h0m0 9h0m1-47h0m0 5h0m0 6h0m0 7h0m0 5h0m0 0h0m0 1h0m0 1h0m0 3h0m0 2h0m0 8h0m0 1h0m0 0h0m0 1h0m0 1h0m0 2h0m0 0h0m0 1h0m0 3h0m0 2h0m1-71h0m0 14h0m0 11h0m0 0h0m0 2h0m0 7h0m0 3h0m0 7h0m0 0h0m0 3h0m0 3h0m0 10h0m0 0h0m0 3h0m0 1h0m0 1h0m0 0h0m0 1h0m1-78h0m0 17h0m0 16h0m0 3h0m0 1h0m0 0h0m0 1h0m0 3h0m0 0h0m0 2h0m0 5h0m0 3h0m0 3h0m0 16h0m0 3h0m0 0h0m0 1h0m0 0h0m0 3h0m0 7h0m1-90h0m0 6h0m0 15h0m0 11h0m0 1h0m0 7h0m0 16h0m0 3h0m0 0h0m0 1h0m0 1h0m0 0h0m0 14h0m0 8h0m0 1h0m0 2h0m0 1h0m0 1h0m1-89h0m0 1h0m0 3h0m0 32h0m0 3h0m0 0h0m0 1h0m0 3h0m0 17h0m0 3h0m0 1h0m0 12h0m0 8h0m0 3h0m1-78h0m0 1h0m0 21h0m0 13h0m0 4h0m0 0h0m0 2h0m0 0h0m0 1h0m0 2h0m0 19h0m0 2h0m0 0h0m0 5h0m0 5h0m0 7h0m1-46h0m0 4h0m0 8h0m0 1h0m0 17h0m0 1h0m0 5h0m0 1h0m0 1h0m0 1h0m0 3h0m0 1h0m1-46h0m0 16h0m0 1h0m0 2h0m0 3h0m0 2h0m0 5h0m0 0h0m0 1h0m0 2h0m0 3h0m0 1h0m0 0h0m0 1h0m0 0h0m0 0h0m0 0h0m0 5h0m0 2h0m1-43h0m0 10h0m0 1h0m0 4h0m0 1h0m0 5h0m0 2h0m0 1h0m0 1h0m0 6h0m0 2h0m0 2h0m0 1h0m0 1h0m0 4h0m0 1h0m0 1h0m0 3h0m1-79h0m0 25h0m0 9h0m0 1h0m0 12h0m0 24h0m0 1h0m0 3h0m1-76h0m0 23h0m0 3h0m0 7h0m0 1h0m0 10h0m0 10h0m0 1h0m0 8h0m0 2h0m0 3h0m0 3h0m0 0h0m0 5h0m0 0h0m0 1h0m0 5h0m1-76h0m0 16h0m0 0h0m0 2h0m0 4h0m0 6h0m0 28h0m0 1h0m0 1h0m0 6h0m0 0h0m1-49h0m0 5h0m0 9h0m0 19h0m0 6h0m0 7h0m0 1h0m0 4h0m0 5h0m0 0h0m1-70h0m0 15h0m0 10h0m0 0h0m0 5h0m0 10h0m0 6h0m0 0h0m0 19h0m0 4h0m0 0h0m0 2h0m0 0h0m1-54h0m0 11h0m0 18h0m0 10h0m0 0h0m0 2h0m0 7h0m0 2h0m0 0h0m0 4h0m1-63h0m0 30h0m0 0h0m0 8h0m0 0h0m0 1h0m0 8h0m0 19h0m0 0h0m0 1h0m1-47h0m0 3h0m0 2h0m0 3h0m0 2h0m0 0h0m0 2h0m0 5h0m0 3h0m0 2h0m0 3h0m0 13h0m0 1h0m0 6h0m1-52h0m0 2h0m0 7h0m0 3h0m0 3h0m0 5h0m0 2h0m0 2h0m0 0h0m0 0h0m0 21h0m0 3h0m0 3h0m1-66h0m0 17h0m0 7h0m0 6h0m0 1h0m0 1h0m0 4h0m0 6h0m0 4h0m0 2h0m0 3h0m0 8h0m0 3h0m0 1h0m0 1h0m0 4h0m1-86h0m0 48h0m0 10h0m0 3h0m0 3h0m0 10h0m0 0h0m0 1h0m0 2h0m0 1h0m0 2h0m0 1h0m0 2h0m1-91h0m0 2h0m0 29h0m0 10h0m0 6h0m0 1h0m0 5h0m0 5h0m0 2h0m0 9h0m0 14h0m0 2h0m0 1h0m0 2h0m1-88h0m0 35h0m0 2h0m0 8h0m0 7h0m0 0h0m0 13h0m0 1h0m0 3h0m0 1h0m0 2h0m0 11h0m0 2h0m0 2h0m1-87h0m0 8h0m0 17h0m0 20h0m0 6h0m0 7h0m0 2h0m0 4h0m0 0h0m0 3h0m0 4h0m0 2h0m0 11h0m0 1h0m0 1h0m0 0h0m0 0h0m1-91h0m0 64h0m0 0h0m0 0h0m0 10h0m0 4h0m0 10h0m0 2h0m0 2h0m0 0h0m1-81h0m0 27h0m0 0h0m0 6h0m0 2h0m0 6h0m0 6h0m0 8h0m0 3h0m0 3h0m0 15h0m0 3h0m1-61h0m0 9h0m0 8h0m0 13h0m0 8h0m0 1h0m0 7h0m0 5h0m0 6h0m0 0h0m0 1h0m0 1h0m0 1h0m0 0h0m0 1h0m0 5h0m1-71h0m0 23h0m0 5h0m0 6h0m0 11h0m0 9h0m0 2h0m0 4h0m0 2h0m0 1h0m0 2h0m0 1h0m0 3h0m0 2h0m1-61h0m0 26h0m0 3h0m0 8h0m0 11h0m0 3h0m0 0h0m0 2h0m0 5h0m1-49h0m0 7h0m0 6h0m0 0h0m0 7h0m0 6h0m0 2h0m0 10h0m0 4h0m0 1h0m0 0h0m0 2h0m1-39h0m0 3h0m0 4h0m0 3h0m0 22h0m0 6h0m0 5h0m1-50h0m0 2h0m0 1h0m0 3h0m0 13h0m0 4h0m0 7h0m0 6h0m0 5h0m0 5h0m0 0h0m1-107h0m0 13h0m0 20h0m0 4h0m0 1h0m0 10h0m0 1h0m0 1h0m0 20h0m0 6h0m0 9h0m0 7h0m0 1h0m0 6h0m0 5h0m0 0h0m0 1h0m0 2h0m0 0h0m1-34h0m0 0h0m0 2h0m0 13h0m0 13h0m0 1h0m0 2h0m0 1h0m0 1h0m0 4h0m0 1h0m1-104h0m0 100h0m1-64h0m0 16h0m0 11h0m0 1h0m0 11h0m0 16h0m0 10h0m0 1h0m0 2h0m1-113h0m0 45h0m0 8h0m0 4h0m0 7h0m0 5h0m0 8h0m0 3h0m0 2h0m0 3h0m0 6h0m0 3h0m0 13h0m1-14h0m0 6h0m0 1h0m0 2h0m0 2h0m1-52h0m0 0h0m0 2h0m0 4h0m0 3h0m0 4h0m0 12h0m0 7h0m0 15h0m1-74h0m0 18h0m0 12h0m0 13h0m0 6h0m0 12h0m0 10h0m0 4h0m0 5h0m0 3h0m0 1h0m0 1h0m1-63h0m0 7h0m0 13h0m0 5h0m0 5h0m0 17h0m0 10h0m0 3h0m1-61h0m0 5h0m0 9h0m0 11h0m0 9h0m0 10h0m0 4h0m0 4h0m0 1h0m0 2h0m0 3h0m0 3h0m1-74h0m0 16h0m0 25h0m0 6h0m0 9h0m0 3h0m0 1h0m0 2h0m0 0h0m0 1h0m0 1h0m0 6h0m0 1h0m0 1h0m1-39h0m0 5h0m0 4h0m0 14h0m0 3h0m0 9h0m0 1h0m1-34h0m0 29h0m0 4h0m0 2h0m0 0h0m0 3h0m0 3h0m1-54h0m0 26h0m0 13h0m0 4h0m0 4h0m0 1h0m0 1h0m1-64h0m0 11h0m0 6h0m0 0h0m0 22h0m0 2h0m0 9h0m0 7h0m0 4h0m1-61h0m0 22h0m0 16h0m0 20h0m0 0h0m0 3h0m0 1h0m0 1h0m1-95h0m0 46h0m0 17h0m0 14h0m0 9h0m0 6h0m1-108h0m0 6h0m0 45h0m0 41h0m1-42h0m0 6h0m0 5h0m0 0h0m0 20h0m0 24h0m1-118h0m0 52h0m0 1h0m0 7h0m0 4h0m0 6h0m0 0h0m0 16h0m0 7h0m1-38h0m0 9h0m0 3h0m0 1h0m0 18h0m0 0h0m0 6h0m0 2h0m0 11h0m0 11h0m1-75h0m0 3h0m0 1h0m0 31h0m0 2h0m0 8h0m0 18h0m0 3h0m0 2h0m0 4h0m0 2h0m1-68h0m0 28h0m0 19h0m0 6h0m0 3h0m0 5h0m1-128h0m0 47h0m0 24h0m0 19h0m0 3h0m0 10h0m0 21h0m0 3h0m0 10h0m0 6h0m1-157h0m0 26h0m0 76h0m0 11h0m0 13h0m0 19h0m1-34h0m0 13h0m0 4h0m0 1h0m0 1h0m0 20h0m0 2h0m1-146h0m0 79h0m0 11h0m0 6h0m0 18h0m0 1h0m0 10h0m0 3h0m0 8h0m0 5h0m0 0h0m0 1h0m1-56h0m0 22h0m0 6h0m0 2h0m0 2h0m0 2h0m0 6h0m0 4h0m0 3h0m0 7h0m0 1h0m1-74h0m0 8h0m0 15h0m0 5h0m0 8h0m0 19h0m0 9h0m0 2h0m0 0h0m0 2h0m0 4h0m0 5h0m0 1h0m0 0h0m1-131h0m0 64h0m0 5h0m0 6h0m0 3h0m0 5h0m0 6h0m0 3h0m0 10h0m0 6h0m0 21h0m1-68h0m0 11h0m0 10h0m0 3h0m0 1h0m0 4h0m0 5h0m0 0h0m0 1h0m0 4h0m0 6h0m0 3h0m0 3h0m0 2h0m0 7h0m0 8h0m0 0h0m0 5h0m1-87h0m0 33h0m0 2h0m0 7h0m0 16h0m0 0h0m0 2h0m0 20h0m0 5h0m1-106h0m0 26h0m0 13h0m0 22h0m0 7h0m0 0h0m0 2h0m0 1h0m0 4h0m0 18h0m0 8h0m1-59h0m0 14h0m0 4h0m0 11h0m0 9h0m0 14h0m0 4h0m0 4h0m0 0h0m1-33h0m0 10h0m0 3h0m0 8h0m0 8h0m0 5h0m1-97h0m0 31h0m0 14h0m0 1h0m0 49h0m1-77h0m0 12h0m0 0h0m0 16h0m0 21h0m0 0h0m0 2h0m0 1h0m0 4h0m0 4h0m0 4h0m0 18h0m1-58h0m0 15h0m0 6h0m0 10h0m0 17h0m0 1h0m0 4h0m0 5h0m1-116h0m0 48h0m0 21h0m0 4h0m0 1h0m0 0h0m0 4h0m0 9h0m0 3h0m0 4h0m0 2h0m0 5h0m0 3h0m0 7h0m0 2h0m0 0h0m1-63h0m0 14h0m0 18h0m0 5h0m0 2h0m0 22h0m1-83h0m0 17h0m0 29h0m0 6h0m0 4h0m0 9h0m0 2h0m0 9h0m0 8h0m1-139h0m0 25h0m0 42h0m0 9h0m0 7h0m0 6h0m0 2h0m0 6h0m0 7h0m0 1h0m0 14h0m0 10h0m0 3h0m0 5h0m1-79h0m0 17h0m0 21h0m0 5h0m0 8h0m0 1h0m0 14h0m0 1h0m0 1h0m0 1h0m0 1h0m0 6h0m0 1h0m0 1h0m1-38h0m0 25h0m0 9h0m0 5h0m1-67h0m0 11h0m0 6h0m0 5h0m0 3h0m0 2h0m0 2h0m0 16h0m0 3h0m0 14h0m0 6h0m0 3h0m1-109h0m0 44h0m0 15h0m0 13h0m0 1h0m0 2h0m0 8h0m0 3h0m0 4h0m0 3h0m0 1h0m0 3h0m0 4h0m1-75h0m0 1h0m0 8h0m0 13h0m0 15h0m0 13h0m0 2h0m0 4h0m0 5h0m0 1h0m0 2h0m0 3h0m0 3h0m0 2h0m0 3h0m0 6h0m0 0h0m1-116h0m0 42h0m0 29h0m0 1h0m0 10h0m0 2h0m0 17h0m0 1h0m1-52h0m0 4h0m0 1h0m0 1h0m0 2h0m0 11h0m0 4h0m0 8h0m0 7h0m0 2h0m0 1h0m0 3h0m0 2h0m0 3h0m0 3h0m0 14h0m1-123h0m0 13h0m0 37h0m0 4h0m0 6h0m0 9h0m0 4h0m0 1h0m0 9h0m0 16h0m0 6h0m0 1h0m0 1h0m0 1h0m0 0h0m0 7h0m0 0h0m1-65h0m0 21h0m0 11h0m0 18h0m0 11h0m0 8h0m1-123h0m0 15h0m0 48h0m0 7h0m0 16h0m0 11h0m0 8h0m0 8h0m0 7h0m1-119h0m0 47h0m0 4h0m0 12h0m0 5h0m0 4h0m0 9h0m0 2h0m0 8h0m0 1h0m0 1h0m0 5h0m0 0h0m0 7h0m0 1h0m0 8h0m0 6h0m0 0h0m0 0h0m0 2h0m1-62h0m0 6h0m0 14h0m0 1h0m0 9h0m0 3h0m0 7h0m0 0h0m0 0h0m0 14h0m0 4h0m0 5h0m1-70h0m0 3h0m0 12h0m0 21h0m0 9h0m0 6h0m0 0h0m0 9h0m0 7h0m1-133h0m0 51h0m0 27h0m0 16h0m0 1h0m0 6h0m0 5h0m0 13h0m0 0h0m0 11h0m0 6h0m1-164h0m0 62h0m0 22h0m0 3h0m0 3h0m0 4h0m0 3h0m0 4h0m0 4h0m0 28h0m0 1h0m0 6h0m0 20h0m1-60h0m0 2h0m0 1h0m0 6h0m0 14h0m0 2h0m0 4h0m0 5h0m0 14h0m1-81h0m0 18h0m0 13h0m0 20h0m0 10h0m0 8h0m0 10h0m0 8h0m0 3h0m0 0h0m0 3h0m1-62h0m0 7h0m0 7h0m0 21h0m0 6h0m0 2h0m0 15h0m1-121h0m0 4h0m0 35h0m0 6h0m0 50h0m0 1h0m0 4h0m0 10h0m0 9h0m0 3h0m0 2h0m1-93h0m0 40h0m0 16h0m0 13h0m0 1h0m0 9h0m0 3h0m0 3h0m0 7h0m0 1h0m0 0h0m0 0h0m1-75h0m0 6h0m0 0h0m0 15h0m0 3h0m0 20h0m0 5h0m0 13h0m0 9h0m0 1h0m0 3h0m0 1h0m1-65h0m0 15h0m0 2h0m0 24h0m0 23h0m0 1h0m1-83h0m0 4h0m0 3h0m0 2h0m0 24h0m0 11h0m0 2h0m0 2h0m0 5h0m0 25h0m0 0h0m0 1h0m0 1h0m1-165h0m0 31h0m0 38h0m0 2h0m0 2h0m0 20h0m0 9h0m0 3h0m0 14h0m0 0h0m0 6h0m0 5h0m0 8h0m0 4h0m0 2h0m0 6h0m0 8h0m0 7h0m0 2h0m1-88h0m0 4h0m0 5h0m0 1h0m0 4h0m0 7h0m0 15h0m0 4h0m0 14h0m0 32h0m0 0h0m1-99h0m0 16h0m0 2h0m0 4h0m0 1h0m0 4h0m0 0h0m0 6h0m0 10h0m0 4h0m0 47h0m0 7h0m1-139h0m0 54h0m0 17h0m0 11h0m0 5h0m0 11h0m0 0h0m0 13h0m0 1h0m0 0h0m0 4h0m0 8h0m0 7h0m0 5h0m0 2h0m0 2h0m1-107h0m0 13h0m0 15h0m0 10h0m0 5h0m0 4h0m0 4h0m0 17h0m1-124h0m0 61h0m0 18h0m0 11h0m0 10h0m0 1h0m0 1h0m0 10h0m0 26h0m1-136h0m0 67h0m0 13h0m0 4h0m0 7h0m0 0h0m0 3h0m0 21h0m0 4h0m0 31h0m0 5h0m1-69h0m0 7h0m0 6h0m0 19h0m0 6h0m0 12h0m0 0h0m0 6h0m0 12h0m0 3h0m1-100h0m0 2h0m0 1h0m0 35h0m0 54h0m0 3h0m0 3h0m0 0h0m0 3h0m1-167h0m0 66h0m0 2h0m0 21h0m0 2h0m0 33h0m0 5h0m0 5h0m0 4h0m0 22h0m0 4h0m1-65h0m0 20h0m0 6h0m0 3h0m0 16h0m0 2h0m0 1h0m0 1h0m0 1h0m0 7h0m0 5h0m1-85h0m0 5h0m0 1h0m0 24h0m0 0h0m0 2h0m0 1h0m0 2h0m0 2h0m0 6h0m0 2h0m0 2h0m0 2h0m0 4h0m0 0h0m0 4h0m0 2h0m0 12h0m0 13h0m0 1h0m0 1h0m1-141h0m0 47h0m0 34h0m0 1h0m0 3h0m0 6h0m0 2h0m0 27h0m1-118h0m0 5h0m0 32h0m0 42h0m0 1h0m0 15h0m0 13h0m0 17h0m0 14h0m1-90h0m0 2h0m0 48h0m0 36h0m0 1h0m0 1h0m1-174h0m0 57h0m0 0h0m0 43h0m0 14h0m0 9h0m0 38h0m0 2h0m0 4h0m0 7h0m0 1h0m1-116h0m0 77h0m0 1h0m0 9h0m0 4h0m0 2h0m0 4h0m0 9h0m0 14h0m1-87h0m0 3h0m0 10h0m0 18h0m0 2h0m0 18h0m0 8h0m0 2h0m0 5h0m0 2h0m0 0h0m0 5h0m0 1h0m0 5h0m0 3h0m0 2h0m1-88h0m0 3h0m0 9h0m0 5h0m0 12h0m0 29h0m0 7h0m0 4h0m0 7h0m0 5h0m0 3h0m0 6h0m1-82h0m0 2h0m0 0h0m0 7h0m0 4h0m0 5h0m0 1h0m0 2h0m0 1h0m0 5h0m0 6h0m0 0h0m0 13h0m0 31h0m1-88h0m0 8h0m0 13h0m0 4h0m0 1h0m0 5h0m0 3h0m0 13h0m0 7h0m0 7h0m0 3h0m0 10h0m0 8h0m0 5h0m0 0h0m1-185h0m0 85h0m0 5h0m0 18h0m0 2h0m0 7h0m0 3h0m0 14h0m0 12h0m0 12h0m0 22h0m0 6h0m0 0h0m0 1h0m1-92h0m0 5h0m0 13h0m0 17h0m0 4h0m0 35h0m0 1h0m0 5h0m0 11h0m0 1h0m0 4h0m0 3h0m0 1h0m1-73h0m0 5h0m0 11h0m0 14h0m0 2h0m0 15h0m0 11h0m0 12h0m1-157h0m0 52h0m0 41h0m0 8h0m0 9h0m0 1h0m0 2h0m0 1h0m0 36h0m0 5h0m0 4h0m1-83h0m0 12h0m0 18h0m0 3h0m0 17h0m0 8h0m0 0h0m0 5h0m1-132h0m0 26h0m0 30h0m0 32h0m0 4h0m0 2h0m0 1h0m0 1h0m0 4h0m0 12h0m0 11h0m0 11h0m0 0h0m0 0h0m0 1h0m0 10h0m0 1h0m0 2h0m0 5h0m1-66h0m0 13h0m0 16h0m0 0h0m0 0h0m0 10h0m0 15h0m1-112h0m0 18h0m0 22h0m0 5h0m0 0h0m0 26h0m0 2h0m0 12h0m0 3h0m0 1h0m0 7h0m0 2h0m0 11h0m0 4h0m1-141h0m0 80h0m0 1h0m0 26h0m0 13h0m0 5h0m0 12h0m0 8h0m0 3h0m1-135h0m0 19h0m0 35h0m0 35h0m0 20h0m0 11h0m0 6h0m0 2h0m0 3h0m0 8h0m1-172h0m0 44h0m0 20h0m0 4h0m0 8h0m0 7h0m0 3h0m0 8h0m0 0h0m0 25h0m0 0h0m0 5h0m0 3h0m0 1h0m0 19h0m0 4h0m0 3h0m1-70h0m0 6h0m0 44h0m0 9h0m0 2h0m0 1h0m0 5h0m0 4h0m0 2h0m0 17h0m1-217h0m0 104h0m0 24h0m0 6h0m0 5h0m0 5h0m0 21h0m0 23h0m0 20h0m0 1h0m0 1h0m0 0h0m1-78h0m0 1h0m0 6h0m0 1h0m0 2h0m0 1h0m0 1h0m0 7h0m0 1h0m0 1h0m0 13h0m0 10h0m0 16h0m0 7h0m0 7h0m0 2h0m0 0h0m0 7h0m1-97h0m0 4h0m0 11h0m0 5h0m0 2h0m0 39h0m0 14h0m0 3h0m0 10h0m0 2h0m0 9h0m1-153h0m0 28h0m0 15h0m0 17h0m0 24h0m0 6h0m0 4h0m0 8h0m0 0h0m0 4h0m0 2h0m0 2h0m0 0h0m0 4h0m0 10h0m0 9h0m0 7h0m0 2h0m1-166h0m0 3h0m0 52h0m0 15h0m0 4h0m0 32h0m0 3h0m0 33h0m0 6h0m0 18h0m0 3h0m1-107h0m0 10h0m0 3h0m0 12h0m0 8h0m0 13h0m0 8h0m0 3h0m0 7h0m0 6h0m0 7h0m0 0h0m0 6h0m0 9h0m0 4h0m0 12h0m0 1h0m0 0h0m1-150h0m0 52h0m0 27h0m0 12h0m0 8h0m0 14h0m0 9h0m0 3h0m0 0h0m0 22h0m0 3h0m0 3h0m1-128h0m0 23h0m0 3h0m0 20h0m0 18h0m0 8h0m0 1h0m0 11h0m0 2h0m0 4h0m0 8h0m0 12h0m0 1h0m0 6h0m0 13h0m1-194h0m0 97h0m0 7h0m0 6h0m0 9h0m0 10h0m0 28h0m0 8h0m0 13h0m0 0h0m0 2h0m0 10h0m0 4h0m1-112h0m0 9h0m0 6h0m0 20h0m0 3h0m0 7h0m0 5h0m0 14h0m0 12h0m0 8h0m0 3h0m0 1h0m0 13h0m0 2h0m1-99h0m0 4h0m0 2h0m0 10h0m0 1h0m0 3h0m0 6h0m0 18h0m0 0h0m0 19h0m0 15h0m0 4h0m0 16h0m0 2h0m0 2h0m0 0h0m0 2h0m0 4h0m1-186h0m0 33h0m0 38h0m0 33h0m0 4h0m0 9h0m0 1h0m0 20h0m0 18h0m0 16h0m0 4h0m0 1h0m0 2h0m1-150h0m0 50h0m0 7h0m0 22h0m0 11h0m0 3h0m0 7h0m0 6h0m0 3h0m0 7h0m0 8h0m0 7h0m0 10h0m0 3h0m1-63h0m0 43h0m0 20h0m1-91h0m0 13h0m0 10h0m0 7h0m0 7h0m0 3h0m0 0h0m0 3h0m0 14h0m0 2h0m0 0h0m0 11h0m0 1h0m0 1h0m0 13h0m0 6h0m1-43h0m0 36h0m0 2h0m0 2h0m0 2h0m0 4h0m0 1h0m0 5h0m1-122h0m0 14h0m0 11h0m0 16h0m0 0h0m0 3h0m0 22h0m0 10h0m0 0h0m0 29h0m0 9h0m0 0h0m1-160h0m0 37h0m0 38h0m0 2h0m0 7h0m0 4h0m0 44h0m0 2h0m0 9h0m0 2h0m0 10h0m0 5h0m0 1h0m0 1h0m0 1h0m1-105h0m0 11h0m0 1h0m0 10h0m0 24h0m0 3h0m0 4h0m0 26h0m0 7h0m0 11h0m0 6h0m0 1h0m1-97h0m0 2h0m0 7h0m0 4h0m0 10h0m0 8h0m0 9h0m0 15h0m0 3h0m0 5h0m0 7h0m0 0h0m0 6h0m0 1h0m0 7h0m0 3h0m0 2h0m0 5h0m1-156h0m0 45h0m0 40h0m0 1h0m0 29h0m0 3h0m0 1h0m0 1h0m0 3h0m0 15h0m0 15h0m0 4h0m1-106h0m0 18h0m0 26h0m0 7h0m0 7h0m0 5h0m0 3h0m0 15h0m0 1h0m0 12h0m0 3h0m0 1h0m1-52h0m0 4h0m0 2h0m0 14h0m0 6h0m0 10h0m0 6h0m1-125h0m0 59h0m0 7h0m0 32h0m0 20h0m0 11h0m0 5h0m0 0h0m0 1h0m0 2h0m0 7h0m0 3h0m1-248h0m0 173h0m0 7h0m0 18h0m0 3h0m0 2h0m0 1h0m0 1h0m0 4h0m0 12h0m0 9h0m0 4h0m0 4h0m0 3h0m0 0h0m1-116h0m0 35h0m0 7h0m0 1h0m0 8h0m0 0h0m0 2h0m0 9h0m0 27h0m0 5h0m0 15h0m0 1h0m0 11h0m0 0h0m1-157h0m0 64h0m0 52h0m0 0h0m0 15h0m0 8h0m0 1h0m0 11h0m0 3h0m1-152h0m0 70h0m0 4h0m0 11h0m0 0h0m0 22h0m0 14h0m0 2h0m0 3h0m0 8h0m0 6h0m0 13h0m1-125h0m0 1h0m0 3h0m0 10h0m0 13h0m0 8h0m0 19h0m0 6h0m0 7h0m0 1h0m0 27h0m0 1h0m0 7h0m0 2h0m0 9h0m0 5h0m0 6h0m1-213h0m0 29h0m0 67h0m0 6h0m0 29h0m0 13h0m0 5h0m0 3h0m0 0h0m0 6h0m0 6h0m0 10h0m0 6h0m0 3h0m0 13h0m0 5h0m0 6h0m1-64h0m0 15h0m0 5h0m0 2h0m0 3h0m0 14h0m0 14h0m0 2h0m0 2h0m0 1h0m0 2h0m1-205h0m0 71h0m0 31h0m0 12h0m0 14h0m0 19h0m0 3h0m0 2h0m0 10h0m0 3h0m0 13h0m0 6h0m0 3h0m0 2h0m0 8h0m0 10h0m1-196h0m0 31h0m0 6h0m0 59h0m0 9h0m0 3h0m0 17h0m0 17h0m0 23h0m0 10h0m0 12h0m0 5h0m1-154h0m0 62h0m0 0h0m0 4h0m0 19h0m0 2h0m0 6h0m0 9h0m0 2h0m0 1h0m0 21h0m0 9h0m0 1h0m0 4h0m0 2h0m0 7h0m0 5h0m0 3h0m0 1h0m1-218h0m0 15h0m0 6h0m0 43h0m0 39h0m0 6h0m0 30h0m0 12h0m0 5h0m0 20h0m0 2h0m0 16h0m0 7h0m0 17h0m1-215h0m0 95h0m0 1h0m0 17h0m0 1h0m0 3h0m0 6h0m0 20h0m0 17h0m0 4h0m0 35h0m0 5h0m0 9h0m1-135h0m0 20h0m0 14h0m0 7h0m0 15h0m0 0h0m0 12h0m0 7h0m0 25h0m0 18h0m0 9h0m0 5h0m1-114h0m0 22h0m0 38h0m0 2h0m0 18h0m0 1h0m0 10h0m0 8h0m0 17h0m0 6h0m1-98h0m0 40h0m0 5h0m0 7h0m0 27h0m0 11h0m1-120h0m0 18h0m0 4h0m0 21h0m0 6h0m0 8h0m0 25h0m0 7h0m0 22h0m0 13h0m1-123h0m0 14h0m0 17h0m0 0h0m0 2h0m0 1h0m0 12h0m0 12h0m0 14h0m0 20h0m0 7h0m0 17h0m0 3h0m1-134h0m0 5h0m0 34h0m0 4h0m0 10h0m0 7h0m0 7h0m0 7h0m0 11h0m0 35h0m0 2h0m0 4h0m0 2h0m0 0h0m0 1h0m0 4h0m1-182h0m0 16h0m0 53h0m0 4h0m0 16h0m0 6h0m0 11h0m0 18h0m0 24h0m0 11h0m0 14h0m1-111h0m0 24h0m0 6h0m0 61h0m0 18h0m0 3h0m1-197h0m0 13h0m0 27h0m0 64h0m0 21h0m0 0h0m0 0h0m0 27h0m0 35h0m0 3h0m0 5h0m0 1h0m0 4h0m1-69h0m0 51h0m0 1h0m0 14h0m0 1h0m0 0h0m0 1h0m0 1h0m0 0h0m1-129h0m0 55h0m0 10h0m0 4h0m0 8h0m0 11h0m0 4h0m0 13h0m0 21h0m1-194h0m0 46h0m0 49h0m0 32h0m0 9h0m0 9h0m0 3h0m0 8h0m0 6h0m0 9h0m0 5h0m0 2h0m0 0h0m0 21h0m1-192h0m0 8h0m0 10h0m0 49h0m0 20h0m0 6h0m0 7h0m0 15h0m0 1h0m0 4h0m0 6h0m0 2h0m0 3h0m0 2h0m0 1h0m0 11h0m0 1h0m0 0h0m0 5h0m0 2h0m0 9h0m0 10h0m0 6h0m0 1h0m1-183h0m0 25h0m0 3h0m0 12h0m0 49h0m0 7h0m0 7h0m0 13h0m0 14h0m0 1h0m0 7h0m0 25h0m0 1h0m0 7h0m0 14h0m0 1h0m1-225h0m0 67h0m0 69h0m0 7h0m0 21h0m0 0h0m0 16h0m0 12h0m0 13h0m0 16h0m0 10h0m1-134h0m0 1h0m0 7h0m0 18h0m0 29h0m0 13h0m0 42h0m0 6h0m0 0h0m0 5h0m0 10h0m0 2h0m0 1h0m1-137h0m0 1h0m0 11h0m0 36h0m0 4h0m0 10h0m0 1h0m0 2h0m0 39h0m0 8h0m0 16h0m1-159h0m0 23h0m0 41h0m0 6h0m0 3h0m0 11h0m0 5h0m0 3h0m0 14h0m0 6h0m0 3h0m0 21h0m0 3h0m0 8h0m0 12h0m1-126h0m0 8h0m0 35h0m0 2h0m0 9h0m0 5h0m0 18h0m0 45h0m0 6h0m0 9h0m1-267h0m0 79h0m0 54h0m0 5h0m0 34h0m0 25h0m0 12h0m0 42h0m0 6h0m0 2h0m0 1h0m0 1h0m0 6h0m1-181h0m0 39h0m0 29h0m0 14h0m0 3h0m0 4h0m0 13h0m0 22h0m0 9h0m0 39h0m1-111h0m0 12h0m0 2h0m0 3h0m0 13h0m0 6h0m0 13h0m0 9h0m0 27h0m0 6h0m0 6h0m0 12h0m1-143h0m0 46h0m0 0h0m0 14h0m0 14h0m0 9h0m0 3h0m0 4h0m0 33h0m0 5h0m0 14h0m0 4h0m1-270h0m0 95h0m0 70h0m0 6h0m0 2h0m0 3h0m0 10h0m0 2h0m0 52h0m0 1h0m0 26h0m0 2h0m1-163h0m0 73h0m0 5h0m0 6h0m0 7h0m0 23h0m0 10h0m0 9h0m0 4h0m0 12h0m0 3h0m0 12h0m1-141h0m0 5h0m0 29h0m0 2h0m0 32h0m0 9h0m0 9h0m0 9h0m0 10h0m0 1h0m0 15h0m0 0h0m0 5h0m0 10h0m0 4h0m0 1h0m0 1h0m0 5h0m0 1h0m1-119h0m0 26h0m0 19h0m0 6h0m0 29h0m0 2h0m0 22h0m0 0h0m0 8h0m0 1h0m1-219h0m0 89h0m0 5h0m0 13h0m0 3h0m0 1h0m0 7h0m0 5h0m0 8h0m0 8h0m0 8h0m0 13h0m0 2h0m0 20h0m0 15h0m0 10h0m0 4h0m0 1h0m0 2h0m0 3h0m1-280h0m0 97h0m0 20h0m0 7h0m0 12h0m0 20h0m0 11h0m0 0h0m0 3h0m0 2h0m0 12h0m0 1h0m0 3h0m0 4h0m0 5h0m0 17h0m0 21h0m0 13h0m0 3h0m0 23h0m0 5h0m0 1h0m1-161h0m0 21h0m0 18h0m0 51h0m0 40h0m0 1h0m0 5h0m0 18h0m0 0h0m0 2h0m0 4h0m1-259h0m0 77h0m0 13h0m0 33h0m0 6h0m0 16h0m0 25h0m0 25h0m0 5h0m0 1h0m0 14h0m0 9h0m0 3h0m0 10h0m0 18h0m1-253h0m0 69h0m0 5h0m0 2h0m0 28h0m0 10h0m0 39h0m0 9h0m0 15h0m0 6h0m0 8h0m0 17h0m0 3h0m0 3h0m0 42h0m0 2h0m1-149h0m0 1h0m0 15h0m0 3h0m0 19h0m0 38h0m0 33h0m0 6h0m0 5h0m0 1h0m0 12h0m0 9h0m0 3h0m0 3h0m0 1h0m1-233h0m0 116h0m0 24h0m0 12h0m0 2h0m0 7h0m0 2h0m0 16h0m0 3h0m0 8h0m0 27h0m0 15h0m0 1h0m1-155h0m0 39h0m0 3h0m0 1h0m0 29h0m0 4h0m0 0h0m0 14h0m0 50h0m0 2h0m0 8h0m0 4h0m1-172h0m0 45h0m0 1h0m0 3h0m0 37h0m0 16h0m0 1h0m0 0h0m0 8h0m0 46h0m0 6h0m0 2h0m0 5h0m0 1h0m0 0h0m0 5h0m1-170h0m0 6h0m0 44h0m0 17h0m0 4h0m0 35h0m0 45h0m0 1h0m0 10h0m0 3h0m1-169h0m0 25h0m0 7h0m0 11h0m0 13h0m0 10h0m0 3h0m0 1h0m0 9h0m0 27h0m0 19h0m0 21h0m0 6h0m0 5h0m0 6h0m0 5h0m0 0h0m0 1h0m1-267h0m0 13h0m0 38h0m0 89h0m0 28h0m0 0h0m0 7h0m0 1h0m0 38h0m0 9h0m0 6h0m0 15h0m0 10h0m0 12h0m0 7h0m1-273h0m0 134h0m0 10h0m0 26h0m0 54h0m0 15h0m0 4h0m0 2h0m1-129h0m0 55h0m0 22h0m0 1h0m0 17h0m0 1h0m0 13h0m0 10h0m0 6h0m0 6h0m0 14h0m0 3h0m0 2h0m1-155h0m0 31h0m0 20h0m0 8h0m0 7h0m0 4h0m0 8h0m0 12h0m0 1h0m0 8h0m0 8h0m0 4h0m0 3h0m0 8h0m0 15h0m0 1h0m0 0h0m0 10h0m1-134h0m0 44h0m0 7h0m0 64h0m1-253h0m0 113h0m0 31h0m0 6h0m0 19h0m0 21h0m0 13h0m0 0h0m0 5h0m0 34h0m0 1h0m0 31h0m0 1h0m0 1h0m1-112h0m0 7h0m0 3h0m0 5h0m0 47h0m0 5h0m0 5h0m0 8h0m0 19h0m0 16h0m0 1h0m1-104h0m0 72h0m0 0h0m0 1h0m0 7h0m0 23h0m0 3h0m0 7h0m1-190h0m0 65h0m0 4h0m0 13h0m0 3h0m0 0h0m0 4h0m0 39h0m0 20h0m0 6h0m0 12h0m0 2h0m0 9h0m0 7h0m0 0h0m1-114h0m0 8h0m0 61h0m0 19h0m0 13h0m1-62h0m0 6h0m0 8h0m0 3h0m0 1h0m0 2h0m0 6h0m0 8h0m0 13h0m0 8h0m0 9h0m0 6h0m0 2h0m0 4h0m1-173h0m0 61h0m0 1h0m0 14h0m0 13h0m0 22h0m0 1h0m0 11h0m0 13h0m0 5h0m0 18h0m0 15h0m1-109h0m0 3h0m0 17h0m0 2h0m0 35h0m0 5h0m0 6h0m0 16h0m0 24h0m1-167h0m0 75h0m0 6h0m0 19h0m0 37h0m0 2h0m0 4h0m0 0h0m0 22h0m1-182h0m0 75h0m0 9h0m0 7h0m0 3h0m0 1h0m0 17h0m0 9h0m0 30h0m0 13h0m0 9h0m0 0h0m0 10h0m0 0h0m0 2h0m1-238h0m0 26h0m0 70h0m0 31h0m0 19h0m0 19h0m0 13h0m0 5h0m0 9h0m0 3h0m0 1h0m0 31h0m0 6h0m1-102h0m0 2h0m0 21h0m0 4h0m0 11h0m0 23h0m0 4h0m0 16h0m0 13h0m0 1h0m0 11h0m1-220h0m0 27h0m0 55h0m0 11h0m0 3h0m0 36h0m0 33h0m0 6h0m0 6h0m0 7h0m0 4h0m0 2h0m0 2h0m0 2h0m0 4h0m0 15h0m0 7h0m1-131h0m0 21h0m0 5h0m0 2h0m0 4h0m0 8h0m0 10h0m0 15h0m0 1h0m0 27h0m0 19h0m0 16h0m0 0h0m0 2h0m1-108h0m0 6h0m0 8h0m0 10h0m0 5h0m0 22h0m0 1h0m0 4h0m0 12h0m0 3h0m0 4h0m0 18h0m0 3h0m0 11h0m1-115h0m0 11h0m0 1h0m0 5h0m0 14h0m0 45h0m0 2h0m0 1h0m0 5h0m0 17h0m0 2h0m0 11h0m1-105h0m0 31h0m0 0h0m0 12h0m0 5h0m0 11h0m0 7h0m0 8h0m0 15h0m0 9h0m0 10h0m0 3h0m1-116h0m0 23h0m0 1h0m0 7h0m0 3h0m0 3h0m0 3h0m0 2h0m0 8h0m0 9h0m0 9h0m0 0h0m0 13h0m0 6h0m0 19h0m1-189h0m0 91h0m0 0h0m0 3h0m0 1h0m0 11h0m0 7h0m0 1h0m0 3h0m0 1h0m0 12h0m0 13h0m0 3h0m0 5h0m0 7h0m0 3h0m0 7h0m0 1h0m0 12h0m0 0h0m0 12h0m0 4h0m0 3h0m1-165h0m0 7h0m0 62h0m0 14h0m0 4h0m0 8h0m0 0h0m0 1h0m0 7h0m0 19h0m0 12h0m0 0h0m0 1h0m0 1h0m0 20h0m0 2h0m0 2h0m1-122h0m0 58h0m0 21h0m0 6h0m0 2h0m0 11h0m0 5h0m0 0h0m0 4h0m0 11h0m0 3h0m0 1h0m1-157h0m0 35h0m0 5h0m0 16h0m0 26h0m0 9h0m0 6h0m0 3h0m0 10h0m0 1h0m0 11h0m0 5h0m0 10h0m0 1h0m0 2h0m0 3h0m0 3h0m0 5h0m0 12h0m1-118h0m0 9h0m0 3h0m0 14h0m0 3h0m0 29h0m0 7h0m0 3h0m0 4h0m0 1h0m0 10h0m0 0h0m0 1h0m0 11h0m0 1h0m0 13h0m0 1h0m0 1h0m0 1h0m0 1h0m0 7h0m1-241h0m0 49h0m0 28h0m0 51h0m0 4h0m0 19h0m0 0h0m0 11h0m0 15h0m0 16h0m0 21h0m0 10h0m0 2h0m0 5h0m1-188h0m0 55h0m0 26h0m0 25h0m0 3h0m0 0h0m0 46h0m0 2h0m0 11h0m0 3h0m0 10h0m0 8h0m0 1h0m0 4h0m1-132h0m0 9h0m0 39h0m0 3h0m0 4h0m0 11h0m0 3h0m0 4h0m0 3h0m0 2h0m0 4h0m0 8h0m0 2h0m0 17h0m0 2h0m0 19h0m1-122h0m0 1h0m0 20h0m0 17h0m0 8h0m0 1h0m0 37h0m0 2h0m0 11h0m0 2h0m0 19h0m0 0h0m0 4h0m1-133h0m0 8h0m0 36h0m0 9h0m0 3h0m0 2h0m0 1h0m0 10h0m0 20h0m0 5h0m0 3h0m0 35h0m0 0h0m0 5h0m1-174h0m0 38h0m0 22h0m0 6h0m0 10h0m0 30h0m0 2h0m0 10h0m0 2h0m0 5h0m0 31h0m0 9h0m1-214h0m0 58h0m0 25h0m0 20h0m0 5h0m0 7h0m0 2h0m0 10h0m0 35h0m0 12h0m0 18h0m0 10h0m0 16h0m1-167h0m0 43h0m0 46h0m0 0h0m0 12h0m0 16h0m0 4h0m0 1h0m0 6h0m0 3h0m0 8h0m0 0h0m0 1h0m0 7h0m0 10h0m0 1h0m0 4h0m0 9h0m1-156h0m0 12h0m0 29h0m0 35h0m0 16h0m0 1h0m0 2h0m0 16h0m0 19h0m0 5h0m0 6h0m0 1h0m0 7h0m0 7h0m1-187h0m0 36h0m0 11h0m0 1h0m0 12h0m0 22h0m0 10h0m0 13h0m0 1h0m0 14h0m0 4h0m0 15h0m0 16h0m0 2h0m0 0h0m0 10h0m0 19h0m1-149h0m0 14h0m0 3h0m0 8h0m0 14h0m0 5h0m0 3h0m0 10h0m0 4h0m0 4h0m0 5h0m0 19h0m0 7h0m0 12h0m0 3h0m0 4h0m0 6h0m1-208h0m0 107h0m0 3h0m0 8h0m0 11h0m0 9h0m0 8h0m0 46h0m0 19h0m0 1h0m0 12h0m0 5h0m1-173h0m0 81h0m0 5h0m0 6h0m0 28h0m0 9h0m0 0h0m0 19h0m0 9h0m0 11h0m0 3h0m0 4h0m0 1h0m1-116h0m0 2h0m0 5h0m0 2h0m0 30h0m0 16h0m0 4h0m0 12h0m0 14h0m0 2h0m0 4h0m0 3h0m0 17h0m0 2h0m1-119h0m0 3h0m0 5h0m0 9h0m0 4h0m0 9h0m0 3h0m0 5h0m0 5h0m0 23h0m0 4h0m0 2h0m0 17h0m0 19h0m1-104h0m0 7h0m0 11h0m0 15h0m0 3h0m0 9h0m0 10h0m0 6h0m0 6h0m0 2h0m0 14h0m0 2h0m0 21h0m0 2h0m0 5h0m1-107h0m0 31h0m0 7h0m0 24h0m0 4h0m0 0h0m0 16h0m0 7h0m0 4h0m0 1h0m0 2h0m0 1h0m0 1h0m0 2h0m0 0h0m0 8h0m0 0h0m0 0h0m0 8h0m1-260h0m0 111h0m0 27h0m0 3h0m0 8h0m0 18h0m0 6h0m0 7h0m0 7h0m0 0h0m0 28h0m0 5h0m0 1h0m0 5h0m0 3h0m0 3h0m0 4h0m0 9h0m0 7h0m0 2h0m0 4h0m1-85h0m0 5h0m0 16h0m0 1h0m0 4h0m0 9h0m0 15h0m0 1h0m0 4h0m0 5h0m0 2h0m0 1h0m0 9h0m0 9h0m1-169h0m0 60h0m0 13h0m0 2h0m0 2h0m0 5h0m0 37h0m0 2h0m0 2h0m0 12h0m0 7h0m0 19h0m0 8h0m1-191h0m0 14h0m0 72h0m0 8h0m0 5h0m0 6h0m0 14h0m0 2h0m0 4h0m0 8h0m0 15h0m0 6h0m0 7h0m0 4h0m1-111h0m0 26h0m0 3h0m0 5h0m0 5h0m0 38h0m0 13h0m0 9h0m0 13h0m0 14h0m0 1h0m0 9h0m1-186h0m0 39h0m0 18h0m0 13h0m0 25h0m0 5h0m0 20h0m0 9h0m0 15h0m0 5h0m0 7h0m0 13h0m0 9h0m0 7h0m0 0h0m0 1h0m1-156h0m0 39h0m0 9h0m0 39h0m0 3h0m0 4h0m0 14h0m0 8h0m0 6h0m0 18h0m0 16h0m0 5h0m1-194h0m0 28h0m0 23h0m0 21h0m0 1h0m0 24h0m0 12h0m0 13h0m0 9h0m0 13h0m0 1h0m0 10h0m0 25h0m0 5h0m0 1h0m0 2h0m0 7h0m1-222h0m0 45h0m0 10h0m0 12h0m0 0h0m0 10h0m0 10h0m0 6h0m0 17h0m0 3h0m0 27h0m0 16h0m0 9h0m0 10h0m0 4h0m0 16h0m0 7h0m0 13h0m0 0h0m1-252h0m0 34h0m0 87h0m0 36h0m0 16h0m0 24h0m0 13h0m0 8h0m0 25h0m0 8h0m0 1h0m1-128h0m0 3h0m0 5h0m0 21h0m0 25h0m0 23h0m0 0h0m0 4h0m0 11h0m0 4h0m0 12h0m0 13h0m0 6h0m1-170h0m0 47h0m0 10h0m0 31h0m0 2h0m0 9h0m0 0h0m0 8h0m0 3h0m0 3h0m0 16h0m0 7h0m0 2h0m0 4h0m0 4h0m0 23h0m0 4h0m1-160h0m0 21h0m0 27h0m0 30h0m0 8h0m0 4h0m0 9h0m0 24h0m0 8h0m0 14h0m0 5h0m0 6h0m0 3h0m0 3h0m1-181h0m0 5h0m0 120h0m0 14h0m0 6h0m0 7h0m0 25h0m1-159h0m0 31h0m0 22h0m0 17h0m0 7h0m0 8h0m0 4h0m0 5h0m0 0h0m0 6h0m0 22h0m0 40h0m1-188h0m0 47h0m0 18h0m0 12h0m0 5h0m0 1h0m0 10h0m0 14h0m0 16h0m0 10h0m0 3h0m0 8h0m0 14h0m0 8h0m0 11h0m0 2h0m1-86h0m0 22h0m0 15h0m0 4h0m0 14h0m0 24h0m0 8h0m0 3h0m1-194h0m0 78h0m0 33h0m0 10h0m0 8h0m0 6h0m0 4h0m0 19h0m0 6h0m0 10h0m0 3h0m0 11h0m0 3h0m0 1h0m0 2h0m0 3h0m1-243h0m0 106h0m0 1h0m0 2h0m0 12h0m0 4h0m0 20h0m0 14h0m0 22h0m0 8h0m0 4h0m0 6h0m0 13h0m0 8h0m0 6h0m0 4h0m0 5h0m0 4h0m0 0h0m1-148h0m0 11h0m0 19h0m0 17h0m0 4h0m0 3h0m0 31h0m0 23h0m0 11h0m0 4h0m0 2h0m0 12h0m0 7h0m1-129h0m0 3h0m0 20h0m0 11h0m0 2h0m0 8h0m0 3h0m0 34h0m0 18h0m0 14h0m0 4h0m0 8h0m0 4h0m0 0h0m1-132h0m0 8h0m0 22h0m0 3h0m0 9h0m0 4h0m0 11h0m0 14h0m0 4h0m0 11h0m0 6h0m0 8h0m0 26h0m0 2h0m1-115h0m0 9h0m0 5h0m0 14h0m0 3h0m0 0h0m0 6h0m0 5h0m0 13h0m0 6h0m0 2h0m0 1h0m0 15h0m0 2h0m0 7h0m0 13h0m0 7h0m0 2h0m0 9h0m0 1h0m0 8h0m1-123h0m0 10h0m0 3h0m0 1h0m0 16h0m0 11h0m0 12h0m0 13h0m0 6h0m0 7h0m0 1h0m0 6h0m0 4h0m0 2h0m0 10h0m0 5h0m1-181h0m0 63h0m0 30h0m0 3h0m0 14h0m0 0h0m0 3h0m0 18h0m0 9h0m0 5h0m0 8h0m0 16h0m0 12h0m0 1h0m0 5h0m0 2h0m1-176h0m0 2h0m0 80h0m0 1h0m0 10h0m0 13h0m0 21h0m0 11h0m0 16h0m0 22h0m0 1h0m1-128h0m0 31h0m0 4h0m0 42h0m0 0h0m0 9h0m0 8h0m0 3h0m0 6h0m0 9h0m0 11h0m0 9h0m1-155h0m0 57h0m0 6h0m0 25h0m0 21h0m0 13h0m0 10h0m0 17h0m1-130h0m0 4h0m0 5h0m0 1h0m0 12h0m0 62h0m0 4h0m0 14h0m0 1h0m0 12h0m0 3h0m0 5h0m0 4h0m0 2h0m1-154h0m0 23h0m0 8h0m0 5h0m0 11h0m0 6h0m0 2h0m0 24h0m0 7h0m0 5h0m0 4h0m0 13h0m0 2h0m0 10h0m0 13h0m0 20h0m0 1h0m0 5h0m1-181h0m0 59h0m0 39h0m0 12h0m0 11h0m0 20h0m0 10h0m0 1h0m0 16h0m0 4h0m0 3h0m0 2h0m0 0h0m1-119h0m0 0h0m0 12h0m0 7h0m0 16h0m0 6h0m0 5h0m0 16h0m0 20h0m0 2h0m0 2h0m0 1h0m0 8h0m0 6h0m0 9h0m0 8h0m0 0h0m0 4h0m1-170h0m0 17h0m0 9h0m0 2h0m0 16h0m0 4h0m0 17h0m0 1h0m0 4h0m0 14h0m0 2h0m0 11h0m0 10h0m0 2h0m0 17h0m0 7h0m0 0h0m0 8h0m0 15h0m0 4h0m0 1h0m0 4h0m0 4h0m1-173h0m0 17h0m0 17h0m0 0h0m0 13h0m0 1h0m0 5h0m0 10h0m0 24h0m0 0h0m0 24h0m0 14h0m0 4h0m0 2h0m0 2h0m0 2h0m0 7h0m0 4h0m0 5h0m0 4h0m0 3h0m0 7h0m0 5h0m0 1h0m1-120h0m0 1h0m0 13h0m0 2h0m0 5h0m0 1h0m0 31h0m0 20h0m0 1h0m0 5h0m0 2h0m1-103h0m0 4h0m0 9h0m0 45h0m0 2h0m0 8h0m0 2h0m0 1h0m0 0h0m0 3h0m0 2h0m0 10h0m0 23h0m0 1h0m0 10h0m0 1h0m0 11h0m0 9h0m0 1h0m1-230h0m0 6h0m0 95h0m0 21h0m0 22h0m0 6h0m0 1h0m0 13h0m0 6h0m0 5h0m0 3h0m0 3h0m0 1h0m0 6h0m0 2h0m0 18h0m0 13h0m0 4h0m0 2h0m1-127h0m0 24h0m0 5h0m0 1h0m0 2h0m0 20h0m0 3h0m0 2h0m0 8h0m0 7h0m0 5h0m0 6h0m0 1h0m0 16h0m0 8h0m0 10h0m0 4h0m0 0h0m0 4h0m0 1h0m1-115h0m0 3h0m0 6h0m0 16h0m0 5h0m0 3h0m0 2h0m0 11h0m0 0h0m0 6h0m0 6h0m0 4h0m0 30h0m0 6h0m0 4h0m0 1h0m0 4h0m0 1h0m0 1h0m0 2h0m1-173h0m0 34h0m0 5h0m0 17h0m0 3h0m0 2h0m0 8h0m0 13h0m0 1h0m0 10h0m0 3h0m0 11h0m0 1h0m0 9h0m0 8h0m0 2h0m0 1h0m0 28h0m0 8h0m0 0h0m1-113h0m0 7h0m0 7h0m0 4h0m0 15h0m0 10h0m0 14h0m0 7h0m0 1h0m0 4h0m0 32h0m0 4h0m0 3h0m0 3h0m1-156h0m0 29h0m0 23h0m0 10h0m0 25h0m0 15h0m0 12h0m0 7h0m0 3h0m0 14h0m0 8h0m0 2h0m0 2h0m0 0h0m0 2h0m0 2h0m0 0h0m0 2h0m1-147h0m0 8h0m0 9h0m0 46h0m0 30h0m0 8h0m0 2h0m0 8h0m0 15h0m0 5h0m0 11h0m1-133h0m0 0h0m0 8h0m0 0h0m0 10h0m0 0h0m0 22h0m0 1h0m0 0h0m0 7h0m0 4h0m0 9h0m0 4h0m0 25h0m0 5h0m0 4h0m0 1h0m0 0h0m0 6h0m0 7h0m0 12h0m0 11h0m1-183h0m0 37h0m0 28h0m0 9h0m0 21h0m0 13h0m0 24h0m0 13h0m0 0h0m0 2h0m0 24h0m1-141h0m0 23h0m0 2h0m0 14h0m0 20h0m0 3h0m0 12h0m0 7h0m0 3h0m0 8h0m0 18h0m0 2h0m0 4h0m0 3h0m0 5h0m0 1h0m0 21h0m0 3h0m0 1h0m1-144h0m0 20h0m0 14h0m0 10h0m0 11h0m0 7h0m0 2h0m0 11h0m0 29h0m0 0h0m0 7h0m0 1h0m0 0h0m0 3h0m0 5h0m0 6h0m0 14h0m1-145h0m0 25h0m0 15h0m0 4h0m0 4h0m0 8h0m0 4h0m0 21h0m0 11h0m0 3h0m0 1h0m0 15h0m0 9h0m0 2h0m0 8h0m0 1h0m0 2h0m0 15h0m1-175h0m0 17h0m0 17h0m0 35h0m0 20h0m0 3h0m0 6h0m0 12h0m0 13h0m0 7h0m0 3h0m0 7h0m0 2h0m0 4h0m0 32h0m0 0h0m1-124h0m0 3h0m0 0h0m0 1h0m0 15h0m0 10h0m0 7h0m0 23h0m0 1h0m0 18h0m0 12h0m0 4h0m0 31h0m1-109h0m0 14h0m0 1h0m0 11h0m0 7h0m0 6h0m0 19h0m0 21h0m0 0h0m0 8h0m0 13h0m0 2h0m0 3h0m1-98h0m0 4h0m0 7h0m0 7h0m0 14h0m0 0h0m0 15h0m0 3h0m0 0h0m0 7h0m0 9h0m0 7h0m0 4h0m0 9h0m0 4h0m0 7h0m1-166h0m0 23h0m0 15h0m0 18h0m0 0h0m0 8h0m0 4h0m0 5h0m0 3h0m0 1h0m0 4h0m0 2h0m0 15h0m0 41h0m0 11h0m0 16h0m0 0h0m0 2h0m1-123h0m0 21h0m0 6h0m0 5h0m0 8h0m0 2h0m0 0h0m0 27h0m0 0h0m0 23h0m0 8h0m0 11h0m0 0h0m1-112h0m0 17h0m0 1h0m0 8h0m0 2h0m0 19h0m0 15h0m0 21h0m0 1h0m0 11h0m1-107h0m0 31h0m0 14h0m0 6h0m0 5h0m0 1h0m0 3h0m0 22h0m0 15h0m0 15h0m0 6h0m1-176h0m0 41h0m0 40h0m0 30h0m0 6h0m0 36h0m0 6h0m0 3h0m0 23h0m0 6h0m0 2h0m0 2h0m1-181h0m0 59h0m0 4h0m0 6h0m0 2h0m0 10h0m0 2h0m0 14h0m0 2h0m0 26h0m0 22h0m0 28h0m0 4h0m0 2h0m1-161h0m0 37h0m0 1h0m0 4h0m0 13h0m0 8h0m0 12h0m0 10h0m0 17h0m0 13h0m0 8h0m0 6h0m0 17h0m0 14h0m0 1h0m1-267h0m0 44h0m0 35h0m0 33h0m0 36h0m0 28h0m0 32h0m0 11h0m0 5h0m0 5h0m0 1h0m0 4h0m0 5h0m0 2h0m0 3h0m0 18h0m0 2h0m0 2h0m1-217h0m0 54h0m0 15h0m0 4h0m0 2h0m0 35h0m0 5h0m0 5h0m0 50h0m0 7h0m0 32h0m0 3h0m0 2h0m1-186h0m0 41h0m0 9h0m0 9h0m0 13h0m0 13h0m0 36h0m0 3h0m0 7h0m0 14h0m0 16h0m1-190h0m0 28h0m0 60h0m0 10h0m0 20h0m0 23h0m0 14h0m0 16h0m0 1h0m0 1h0m0 18h0m0 0h0m0 4h0m0 17h0m0 7h0m1-135h0m0 2h0m0 6h0m0 1h0m0 6h0m0 6h0m0 0h0m0 23h0m0 3h0m0 18h0m0 12h0m0 2h0m0 14h0m0 4h0m0 4h0m0 3h0m0 21h0m0 1h0m0 7h0m0 0h0m1-154h0m0 26h0m0 3h0m0 1h0m0 1h0m0 2h0m0 4h0m0 1h0m0 24h0m0 13h0m0 17h0m0 30h0m0 15h0m0 17h0m0 1h0m1-139h0m0 15h0m0 0h0m0 1h0m0 37h0m0 3h0m0 2h0m0 22h0m0 1h0m0 19h0m0 4h0m0 2h0m0 2h0m0 17h0m0 6h0m0 8h0m0 0h0m1-130h0m0 14h0m0 17h0m0 36h0m0 4h0m0 2h0m0 6h0m0 3h0m0 6h0m0 3h0m0 9h0m0 1h0m0 10h0m0 4h0m0 3h0m0 3h0m0 6h0m1-216h0m0 49h0m0 37h0m0 58h0m0 18h0m0 10h0m0 0h0m0 22h0m0 4h0m0 18h0m0 1h0m1-141h0m0 39h0m0 12h0m0 1h0m0 0h0m0 7h0m0 1h0m0 16h0m0 2h0m0 3h0m0 11h0m0 11h0m0 2h0m0 12h0m0 3h0m0 0h0m0 4h0m0 5h0m0 13h0m1-137h0m0 4h0m0 0h0m0 29h0m0 8h0m0 0h0m0 10h0m0 7h0m0 10h0m0 0h0m0 2h0m0 15h0m0 4h0m0 8h0m0 16h0m0 5h0m0 2h0m0 1h0m0 5h0m0 0h0m0 1h0m1-134h0m0 29h0m0 14h0m0 4h0m0 14h0m0 5h0m0 3h0m0 2h0m0 3h0m0 28h0m0 1h0m0 11h0m0 7h0m0 1h0m0 6h0m0 3h0m1-147h0m0 30h0m0 15h0m0 8h0m0 1h0m0 5h0m0 6h0m0 25h0m0 16h0m0 2h0m0 23h0m0 4h0m0 8h0m0 0h0m0 4h0m0 1h0m1-161h0m0 0h0m0 51h0m0 17h0m0 2h0m0 30h0m0 4h0m0 3h0m0 2h0m0 4h0m0 26h0m0 10h0m0 6h0m0 6h0m0 4h0m0 2h0m0 0h0m0 3h0m0 1h0m1-191h0m0 46h0m0 14h0m0 2h0m0 13h0m0 0h0m0 18h0m0 21h0m0 1h0m0 19h0m0 4h0m0 4h0m0 5h0m0 1h0m0 18h0m0 2h0m0 1h0m0 13h0m1-131h0m0 20h0m0 1h0m0 3h0m0 3h0m0 9h0m0 1h0m0 34h0m0 8h0m0 4h0m0 7h0m0 7h0m0 0h0m0 18h0m0 2h0m0 9h0m0 5h0m0 4h0m1-149h0m0 2h0m0 17h0m0 1h0m0 2h0m0 8h0m0 11h0m0 32h0m0 7h0m0 3h0m0 20h0m0 14h0m0 11h0m0 6h0m0 6h0m0 9h0m0 2h0m1-177h0m0 43h0m0 15h0m0 26h0m0 5h0m0 0h0m0 3h0m0 0h0m0 35h0m0 3h0m0 1h0m0 10h0m0 29h0m0 9h0m1-190h0m0 20h0m0 3h0m0 26h0m0 27h0m0 0h0m0 15h0m0 10h0m0 4h0m0 9h0m0 18h0m0 26h0m0 12h0m0 11h0m0 0h0m1-219h0m0 49h0m0 12h0m0 15h0m0 9h0m0 0h0m0 2h0m0 7h0m0 6h0m0 4h0m0 23h0m0 14h0m0 2h0m0 14h0m0 9h0m0 7h0m0 20h0m0 22h0m0 10h0m1-157h0m0 22h0m0 44h0m0 21h0m0 5h0m0 5h0m0 3h0m0 47h0m0 10h0m0 1h0m0 1h0m1-163h0m0 61h0m0 11h0m0 1h0m0 1h0m0 2h0m0 6h0m0 6h0m0 3h0m0 16h0m0 13h0m0 5h0m0 9h0m0 11h0m0 2h0m0 7h0m0 8h0m0 2h0m1-193h0m0 16h0m0 76h0m0 6h0m0 67h0m0 2h0m0 5h0m0 13h0m0 5h0m1-131h0m0 9h0m0 7h0m0 12h0m0 7h0m0 9h0m0 17h0m0 7h0m0 8h0m0 1h0m0 7h0m0 5h0m0 5h0m0 15h0m0 14h0m0 7h0m0 4h0m0 0h0m1-276h0m0 132h0m0 6h0m0 37h0m0 4h0m0 30h0m0 27h0m0 35h0m0 3h0m0 1h0m0 2h0m1-116h0m0 6h0m0 4h0m0 9h0m0 3h0m0 3h0m0 15h0m0 6h0m0 8h0m0 2h0m0 27h0m0 7h0m0 1h0m0 0h0m0 6h0m0 2h0m0 6h0m0 6h0m0 4h0m1-207h0m0 46h0m0 12h0m0 29h0m0 9h0m0 10h0m0 2h0m0 14h0m0 11h0m0 11h0m0 10h0m0 4h0m0 7h0m0 1h0m0 0h0m0 12h0m0 1h0m0 26h0m1-171h0m0 13h0m0 9h0m0 18h0m0 8h0m0 0h0m0 23h0m0 23h0m0 42h0m0 3h0m0 17h0m0 7h0m0 1h0m0 3h0m0 1h0m0 1h0m0 3h0m1-185h0m0 38h0m0 17h0m0 57h0m0 17h0m0 6h0m0 6h0m0 27h0m0 5h0m0 6h0m1-163h0m0 52h0m0 11h0m0 10h0m0 6h0m0 4h0m0 0h0m0 1h0m0 18h0m0 8h0m0 1h0m0 8h0m0 4h0m0 13h0m0 14h0m0 20h0m1-227h0m0 110h0m0 1h0m0 4h0m0 13h0m0 11h0m0 6h0m0 10h0m0 11h0m0 7h0m0 2h0m0 14h0m0 2h0m0 21h0m0 3h0m1-163h0m0 22h0m0 4h0m0 2h0m0 15h0m0 7h0m0 1h0m0 29h0m0 20h0m0 6h0m0 15h0m0 23h0m0 6h0m0 17h0m0 2h0m0 3h0m1-230h0m0 61h0m0 15h0m0 11h0m0 10h0m0 15h0m0 2h0m0 33h0m0 2h0m0 53h0m0 5h0m0 13h0m1-148h0m0 33h0m0 25h0m0 20h0m0 38h0m0 6h0m0 14h0m0 13h0m0 9h0m0 0h0m0 2h0m1-249h0m0 97h0m0 7h0m0 14h0m0 1h0m0 17h0m0 0h0m0 28h0m0 19h0m0 14h0m0 3h0m0 9h0m0 1h0m0 10h0m0 20h0m1-197h0m0 47h0m0 7h0m0 9h0m0 4h0m0 2h0m0 2h0m0 4h0m0 1h0m0 0h0m0 6h0m0 10h0m0 9h0m0 17h0m0 52h0m0 17h0m0 1h0m0 13h0m0 0h0m1-165h0m0 34h0m0 2h0m0 11h0m0 4h0m0 2h0m0 3h0m0 4h0m0 21h0m0 15h0m0 7h0m0 50h0m0 0h0m0 1h0m0 9h0m0 3h0m0 1h0m0 2h0m1-237h0m0 60h0m0 11h0m0 11h0m0 18h0m0 2h0m0 1h0m0 0h0m0 6h0m0 50h0m0 19h0m0 11h0m0 1h0m0 7h0m0 33h0m0 4h0m0 1h0m0 1h0m0 1h0m1-242h0m0 67h0m0 25h0m0 21h0m0 16h0m0 36h0m0 8h0m0 14h0m0 2h0m0 3h0m0 3h0m0 2h0m0 2h0m0 5h0m0 6h0m0 1h0m0 5h0m0 21h0m0 1h0m1-188h0m0 4h0m0 22h0m0 6h0m0 3h0m0 3h0m0 12h0m0 1h0m0 1h0m0 14h0m0 7h0m0 7h0m0 11h0m0 3h0m0 29h0m0 35h0m0 6h0m0 21h0m0 7h0m1-180h0m0 11h0m0 10h0m0 15h0m0 10h0m0 18h0m0 11h0m0 11h0m0 5h0m0 13h0m0 13h0m0 11h0m0 2h0m0 5h0m0 9h0m0 1h0m0 32h0m0 2h0m1-196h0m0 40h0m0 4h0m0 3h0m0 30h0m0 1h0m0 18h0m0 8h0m0 26h0m0 1h0m0 13h0m0 3h0m0 9h0m0 4h0m0 8h0m0 4h0m0 16h0m1-142h0m0 5h0m0 7h0m0 26h0m0 19h0m0 8h0m0 22h0m0 21h0m0 1h0m0 4h0m0 33h0m0 1h0m1-132h0m0 5h0m0 12h0m0 41h0m0 2h0m0 4h0m0 4h0m0 20h0m0 27h0m0 1h0m0 5h0m0 0h0m0 3h0m0 2h0m0 1h0m0 3h0m0 2h0m0 3h0m0 1h0m1-196h0m0 54h0m0 19h0m0 23h0m0 9h0m0 11h0m0 14h0m0 8h0m0 23h0m0 1h0m0 0h0m0 11h0m0 4h0m0 2h0m0 5h0m0 1h0m1-121h0m0 19h0m0 28h0m0 27h0m0 13h0m0 5h0m0 11h0m0 8h0m0 5h0m1-178h0m0 69h0m0 13h0m0 2h0m0 26h0m0 1h0m0 1h0m0 9h0m0 6h0m0 1h0m0 31h0m0 29h0m0 1h0m0 2h0m0 2h0m0 0h0m0 1h0m1-267h0m0 104h0m0 15h0m0 3h0m0 12h0m0 6h0m0 13h0m0 20h0m0 3h0m0 2h0m0 23h0m0 4h0m0 1h0m0 37h0m0 0h0m0 2h0m0 1h0m0 17h0m0 0h0m0 3h0m1-141h0m0 2h0m0 9h0m0 1h0m0 19h0m0 1h0m0 11h0m0 20h0m0 0h0m0 1h0m0 6h0m0 23h0m0 2h0m0 34h0m0 9h0m1-165h0m0 34h0m0 46h0m0 45h0m0 3h0m0 38h0m0 1h0m1-128h0m0 4h0m0 8h0m0 3h0m0 6h0m0 18h0m0 6h0m0 5h0m0 3h0m0 2h0m0 2h0m0 2h0m0 1h0m0 23h0m0 2h0m0 8h0m0 15h0m0 7h0m0 10h0m0 3h0m1-197h0m0 72h0m0 23h0m0 33h0m0 1h0m0 36h0m0 1h0m0 5h0m0 15h0m0 1h0m1-168h0m0 38h0m0 25h0m0 15h0m0 18h0m0 1h0m0 2h0m0 2h0m0 3h0m0 0h0m0 14h0m0 9h0m0 11h0m0 28h0m0 8h0m0 1h0m0 3h0m1-186h0m0 25h0m0 27h0m0 8h0m0 3h0m0 3h0m0 0h0m0 31h0m0 3h0m0 13h0m0 3h0m0 3h0m0 1h0m0 7h0m0 1h0m0 5h0m0 3h0m0 3h0m0 6h0m0 6h0m0 4h0m0 17h0m0 8h0m0 0h0m0 1h0m0 3h0m0 1h0m0 2h0m1-159h0m0 11h0m0 15h0m0 29h0m0 12h0m0 12h0m0 1h0m0 17h0m0 27h0m0 3h0m0 11h0m0 15h0m1-170h0m0 34h0m0 4h0m0 9h0m0 4h0m0 12h0m0 6h0m0 10h0m0 30h0m0 24h0m0 5h0m0 15h0m0 13h0m0 0h0m0 8h0m1-206h0m0 47h0m0 13h0m0 1h0m0 2h0m0 2h0m0 25h0m0 3h0m0 2h0m0 8h0m0 6h0m0 3h0m0 10h0m0 7h0m0 1h0m0 22h0m0 3h0m0 6h0m0 1h0m0 10h0m0 9h0m0 24h0m0 3h0m1-188h0m0 23h0m0 3h0m0 3h0m0 2h0m0 31h0m0 12h0m0 2h0m0 3h0m0 13h0m0 25h0m0 22h0m0 25h0m0 6h0m0 10h0m0 5h0m0 2h0m0 0h0m0 0h0m1-210h0m0 53h0m0 29h0m0 27h0m0 14h0m0 10h0m0 8h0m0 14h0m0 9h0m0 26h0m0 3h0m0 4h0m0 10h0m0 1h0m1-124h0m0 16h0m0 21h0m0 22h0m0 6h0m0 3h0m0 17h0m0 20h0m0 8h0m0 1h0m0 12h0m0 0h0m1-190h0m0 8h0m0 55h0m0 4h0m0 1h0m0 6h0m0 5h0m0 5h0m0 8h0m0 18h0m0 9h0m0 5h0m0 28h0m0 3h0m0 24h0m1-189h0m0 52h0m0 18h0m0 18h0m0 53h0m0 4h0m0 1h0m0 1h0m0 10h0m0 4h0m0 16h0m0 10h0m0 9h0m1-134h0m0 7h0m0 56h0m0 10h0m0 0h0m0 2h0m0 5h0m0 5h0m0 20h0m0 6h0m0 16h0m1-148h0m0 9h0m0 0h0m0 9h0m0 39h0m0 6h0m0 17h0m0 2h0m0 20h0m0 11h0m0 8h0m0 13h0m1-128h0m0 4h0m0 17h0m0 7h0m0 18h0m0 3h0m0 0h0m0 2h0m0 0h0m0 5h0m0 14h0m0 2h0m0 1h0m0 6h0m0 6h0m0 8h0m0 17h0m0 9h0m0 11h0m0 6h0m0 13h0m0 1h0m1-235h0m0 82h0m0 3h0m0 5h0m0 5h0m0 19h0m0 6h0m0 12h0m0 24h0m0 0h0m0 2h0m0 3h0m0 17h0m0 20h0m0 4h0m0 20h0m0 8h0m0 5h0m0 1h0m1-235h0m0 82h0m0 10h0m0 45h0m0 63h0m0 9h0m0 5h0m0 10h0m0 3h0m0 5h0m0 1h0m0 1h0m0 2h0m1-153h0m0 8h0m0 25h0m0 1h0m0 8h0m0 4h0m0 10h0m0 4h0m0 17h0m0 21h0m0 8h0m0 28h0m0 8h0m1-159h0m0 39h0m0 10h0m0 5h0m0 23h0m0 13h0m0 22h0m0 35h0m0 18h0m0 1h0m0 1h0m0 2h0m1-162h0m0 5h0m0 1h0m0 14h0m0 1h0m0 6h0m0 24h0m0 12h0m0 9h0m0 8h0m0 38h0m0 12h0m0 13h0m0 6h0m1-208h0m0 53h0m0 8h0m0 7h0m0 6h0m0 4h0m0 0h0m0 6h0m0 56h0m0 7h0m0 8h0m0 20h0m0 34h0m0 5h0m0 5h0m1-161h0m0 2h0m0 20h0m0 9h0m0 27h0m0 14h0m0 4h0m0 7h0m0 7h0m0 9h0m0 1h0m0 29h0m0 24h0m0 1h0m1-219h0m0 82h0m0 1h0m0 1h0m0 0h0m0 34h0m0 17h0m0 30h0m0 31h0m0 27h0m0 5h0m1-148h0m0 19h0m0 1h0m0 2h0m0 1h0m0 20h0m0 9h0m0 5h0m0 3h0m0 26h0m0 34h0m1-201h0m0 75h0m0 35h0m0 0h0m0 11h0m0 7h0m0 5h0m0 2h0m0 0h0m0 8h0m0 1h0m0 4h0m0 1h0m0 40h0m0 16h0m0 8h0m1-151h0m0 28h0m0 10h0m0 6h0m0 6h0m0 9h0m0 7h0m0 44h0m0 9h0m0 10h0m0 30h0m0 1h0m0 4h0m0 0h0m0 2h0m1-148h0m0 12h0m0 9h0m0 15h0m0 0h0m0 23h0m0 9h0m0 19h0m0 5h0m0 3h0m0 2h0m0 32h0m0 1h0m0 4h0m0 7h0m1-148h0m0 22h0m0 19h0m0 3h0m0 11h0m0 4h0m0 16h0m0 11h0m0 18h0m0 18h0m0 29h0m0 3h0m0 1h0m1-161h0m0 42h0m0 23h0m0 9h0m0 6h0m0 6h0m0 26h0m0 21h0m0 9h0m0 3h0m1-110h0m0 11h0m0 10h0m0 6h0m0 2h0m0 0h0m0 29h0m0 8h0m0 3h0m0 15h0m0 1h0m0 10h0m0 2h0m0 10h0m0 12h0m0 3h0m0 1h0m1-149h0m0 25h0m0 3h0m0 15h0m0 11h0m0 16h0m0 4h0m0 32h0m0 2h0m0 4h0m0 20h0m0 11h0m0 1h0m1-106h0m0 12h0m0 0h0m0 40h0m0 0h0m0 9h0m0 6h0m0 17h0m0 11h0m0 12h0m0 5h0m0 1h0m1-186h0m0 59h0m0 5h0m0 23h0m0 24h0m0 10h0m0 15h0m0 4h0m0 1h0m0 4h0m0 24h0m0 11h0m0 3h0m0 1h0m1-182h0m0 14h0m0 58h0m0 3h0m0 10h0m0 5h0m0 5h0m0 1h0m0 11h0m0 16h0m0 3h0m0 28h0m0 6h0m0 18h0m1-127h0m0 1h0m0 20h0m0 26h0m0 0h0m0 8h0m0 7h0m0 5h0m0 1h0m0 12h0m0 0h0m0 10h0m0 6h0m0 3h0m0 15h0m0 2h0m0 12h0m0 4h0m1-148h0m0 8h0m0 45h0m0 14h0m0 0h0m0 4h0m0 2h0m0 22h0m0 5h0m0 7h0m0 15h0m0 9h0m0 2h0m0 1h0m0 5h0m0 3h0m1-134h0m0 26h0m0 15h0m0 12h0m0 3h0m0 9h0m0 16h0m0 3h0m0 8h0m0 1h0m0 10h0m0 1h0m0 13h0m0 2h0m0 20h0m1-98h0m0 23h0m0 17h0m0 5h0m0 2h0m0 2h0m0 1h0m0 9h0m0 14h0m0 7h0m0 13h0m1-113h0m0 16h0m0 1h0m0 11h0m0 4h0m0 20h0m0 46h0m0 1h0m0 3h0m0 5h0m0 0h0m1-111h0m0 17h0m0 1h0m0 9h0m0 10h0m0 13h0m0 16h0m0 10h0m0 4h0m0 1h0m0 8h0m0 2h0m0 21h0m0 10h0m0 1h0m0 0h0m1-175h0m0 32h0m0 10h0m0 23h0m0 0h0m0 14h0m0 4h0m0 6h0m0 1h0m0 27h0m0 6h0m0 27h0m0 18h0m0 7h0m1-144h0m0 5h0m0 1h0m0 47h0m0 3h0m0 22h0m0 7h0m0 5h0m0 13h0m0 7h0m0 8h0m0 4h0m0 1h0m1-176h0m0 55h0m0 6h0m0 21h0m0 7h0m0 9h0m0 2h0m0 12h0m0 0h0m0 1h0m0 6h0m0 7h0m0 12h0m0 2h0m0 8h0m0 3h0m0 18h0m0 21h0m0 6h0m0 0h0m1-165h0m0 3h0m0 29h0m0 11h0m0 6h0m0 20h0m0 8h0m0 2h0m0 7h0m0 4h0m0 2h0m0 3h0m0 2h0m0 8h0m0 14h0m0 20h0m0 0h0m0 1h0m0 16h0m0 4h0m0 3h0m1-113h0m0 46h0m0 13h0m0 9h0m0 1h0m0 9h0m0 10h0m0 19h0m1-136h0m0 3h0m0 12h0m0 18h0m0 3h0m0 20h0m0 17h0m0 15h0m0 0h0m0 18h0m0 12h0m0 22h0m0 1h0m1-167h0m0 46h0m0 13h0m0 3h0m0 0h0m0 3h0m0 20h0m0 12h0m0 4h0m0 5h0m0 5h0m0 21h0m0 9h0m0 4h0m0 9h0m0 3h0m0 4h0m0 0h0m0 2h0m1-175h0m0 13h0m0 7h0m0 37h0m0 0h0m0 5h0m0 2h0m0 10h0m0 6h0m0 18h0m0 4h0m0 22h0m0 31h0m0 0h0m0 7h0m0 2h0m0 11h0m1-165h0m0 32h0m0 19h0m0 4h0m0 5h0m0 4h0m0 15h0m0 3h0m0 6h0m0 4h0m0 8h0m0 9h0m0 16h0m0 8h0m0 1h0m0 11h0m0 3h0m0 4h0m0 9h0m0 3h0m0 0h0m0 4h0m0 1h0m1-141h0m0 50h0m0 0h0m0 28h0m0 14h0m0 4h0m0 16h0m0 15h0m0 11h0m0 5h0m1-102h0m0 12h0m0 13h0m0 2h0m0 18h0m0 10h0m0 10h0m0 11h0m0 25h0m1-201h0m0 9h0m0 65h0m0 12h0m0 13h0m0 10h0m0 7h0m0 10h0m0 2h0m0 12h0m0 1h0m0 7h0m0 15h0m0 11h0m0 7h0m0 15h0m0 6h0m1-211h0m0 80h0m0 2h0m0 30h0m0 11h0m0 13h0m0 0h0m0 4h0m0 32h0m0 22h0m0 1h0m0 3h0m0 13h0m1-145h0m0 4h0m0 7h0m0 7h0m0 12h0m0 1h0m0 7h0m0 2h0m0 15h0m0 0h0m0 4h0m0 11h0m0 4h0m0 16h0m0 14h0m0 26h0m0 2h0m0 6h0m0 6h0m0 1h0m1-248h0m0 90h0m0 25h0m0 5h0m0 1h0m0 0h0m0 35h0m0 5h0m0 3h0m0 8h0m0 1h0m0 26h0m0 1h0m0 41h0m0 2h0m1-225h0m0 60h0m0 4h0m0 20h0m0 1h0m0 10h0m0 6h0m0 6h0m0 19h0m0 39h0m0 7h0m0 7h0m0 5h0m0 8h0m0 9h0m0 12h0m0 10h0m0 4h0m1-165h0m0 15h0m0 0h0m0 22h0m0 2h0m0 17h0m0 1h0m0 9h0m0 40h0m0 3h0m0 2h0m0 0h0m0 25h0m0 1h0m0 15h0m0 7h0m0 6h0m1-200h0m0 51h0m0 0h0m0 2h0m0 29h0m0 1h0m0 5h0m0 9h0m0 2h0m0 15h0m0 10h0m0 4h0m0 2h0m0 23h0m0 2h0m0 30h0m0 4h0m0 3h0m0 5h0m0 0h0m1-178h0m0 32h0m0 12h0m0 28h0m0 8h0m0 1h0m0 3h0m0 3h0m0 3h0m0 1h0m0 4h0m0 14h0m0 22h0m0 6h0m0 10h0m0 16h0m0 15h0m1-255h0m0 57h0m0 21h0m0 3h0m0 16h0m0 10h0m0 12h0m0 5h0m0 21h0m0 18h0m0 8h0m0 31h0m0 2h0m0 5h0m0 31h0m1-181h0m0 62h0m0 6h0m0 0h0m0 13h0m0 2h0m0 7h0m0 12h0m0 14h0m0 3h0m0 6h0m0 11h0m0 3h0m0 8h0m0 4h0m0 13h0m0 33h0m1-222h0m0 61h0m0 19h0m0 8h0m0 4h0m0 25h0m0 5h0m0 0h0m0 7h0m0 5h0m0 8h0m0 9h0m0 1h0m0 2h0m0 11h0m0 45h0m0 11h0m1-122h0m0 9h0m0 15h0m0 12h0m0 2h0m0 18h0m0 7h0m0 14h0m0 41h0m1-144h0m0 38h0m0 2h0m0 6h0m0 4h0m0 0h0m0 0h0m0 7h0m0 5h0m0 3h0m0 1h0m0 2h0m0 8h0m0 26h0m0 15h0m0 1h0m0 21h0m1-184h0m0 48h0m0 3h0m0 15h0m0 12h0m0 10h0m0 1h0m0 4h0m0 1h0m0 0h0m0 19h0m0 24h0m0 3h0m0 13h0m0 7h0m0 15h0m0 7h0m0 3h0m1-196h0m0 52h0m0 2h0m0 4h0m0 36h0m0 5h0m0 2h0m0 0h0m0 43h0m0 27h0m1-126h0m0 4h0m0 53h0m0 7h0m0 74h0m0 16h0m1-222h0m0 72h0m0 1h0m0 30h0m0 10h0m0 26h0m0 11h0m0 14h0m0 11h0m0 2h0m0 24h0m0 15h0m0 3h0m0 10h0m0 1h0m1-153h0m0 10h0m0 2h0m0 2h0m0 30h0m0 3h0m0 1h0m0 1h0m0 2h0m0 1h0m0 2h0m0 11h0m0 0h0m0 8h0m0 8h0m0 5h0m0 2h0m0 7h0m0 4h0m0 11h0m0 2h0m0 32h0m0 6h0m1-155h0m0 32h0m0 1h0m0 20h0m0 2h0m0 4h0m0 0h0m0 1h0m0 12h0m0 21h0m0 10h0m0 33h0m0 22h0m1-126h0m0 4h0m0 6h0m0 3h0m0 10h0m0 36h0m0 7h0m0 3h0m0 0h0m0 10h0m0 3h0m0 3h0m0 7h0m0 10h0m0 6h0m0 12h0m1-153h0m0 3h0m0 7h0m0 5h0m0 53h0m0 3h0m0 10h0m0 6h0m0 20h0m0 1h0m0 9h0m0 1h0m0 6h0m0 3h0m0 17h0m0 1h0m0 14h0m1-166h0m0 0h0m0 5h0m0 16h0m0 2h0m0 2h0m0 24h0m0 0h0m0 27h0m0 2h0m0 8h0m0 27h0m0 3h0m0 3h0m0 4h0m1-133h0m0 36h0m0 10h0m0 11h0m0 40h0m0 10h0m0 11h0m0 30h0m0 25h0m0 3h0m1-232h0m0 78h0m0 21h0m0 8h0m0 1h0m0 17h0m0 1h0m0 28h0m0 9h0m0 14h0m0 2h0m0 2h0m0 3h0m0 3h0m0 6h0m0 7h0m0 29h0m1-182h0m0 37h0m0 19h0m0 17h0m0 17h0m0 6h0m0 19h0m0 36h0m0 5h0m0 1h0m0 10h0m0 3h0m1-121h0m0 8h0m0 4h0m0 9h0m0 28h0m0 13h0m0 1h0m0 3h0m0 8h0m0 5h0m0 19h0m0 13h0m0 12h0m0 5h0m1-169h0m0 10h0m0 8h0m0 14h0m0 11h0m0 12h0m0 2h0m0 6h0m0 36h0m0 3h0m0 0h0m0 25h0m1-141h0m0 29h0m0 5h0m0 20h0m0 8h0m0 16h0m0 4h0m0 4h0m0 6h0m0 22h0m0 2h0m0 2h0m0 6h0m0 3h0m1-178h0m0 13h0m0 11h0m0 6h0m0 35h0m0 13h0m0 1h0m0 12h0m0 3h0m0 4h0m0 4h0m0 1h0m0 5h0m0 13h0m0 6h0m0 3h0m0 4h0m0 8h0m0 0h0m0 18h0m0 2h0m0 33h0m0 10h0m1-169h0m0 24h0m0 13h0m0 2h0m0 2h0m0 4h0m0 1h0m0 7h0m0 4h0m0 7h0m0 32h0m0 16h0m0 7h0m0 0h0m0 2h0m0 9h0m0 4h0m0 7h0m0 18h0m1-171h0m0 6h0m0 2h0m0 37h0m0 1h0m0 17h0m0 9h0m0 1h0m0 9h0m0 6h0m0 12h0m0 10h0m0 4h0m0 14h0m1-142h0m0 15h0m0 28h0m0 9h0m0 1h0m0 0h0m0 17h0m0 12h0m0 3h0m0 5h0m0 16h0m0 4h0m0 19h0m0 66h0m1-131h0m0 1h0m0 5h0m0 22h0m0 21h0m0 10h0m0 8h0m0 3h0m0 5h0m0 2h0m0 25h0m0 27h0m1-161h0m0 4h0m0 7h0m0 1h0m0 12h0m0 10h0m0 8h0m0 1h0m0 10h0m0 6h0m0 19h0m0 10h0m0 1h0m0 3h0m0 15h0m1-132h0m0 37h0m0 14h0m0 10h0m0 0h0m0 1h0m0 14h0m0 11h0m0 1h0m0 5h0m0 1h0m0 19h0m0 3h0m0 1h0m0 3h0m0 13h0m0 8h0m0 4h0m0 1h0m0 25h0m0 14h0m0 2h0m0 1h0m1-186h0m0 0h0m0 49h0m0 7h0m0 1h0m0 5h0m0 6h0m0 5h0m0 39h0m0 1h0m0 0h0m0 11h0m0 9h0m0 52h0m1-172h0m0 2h0m0 38h0m0 5h0m0 12h0m0 2h0m0 18h0m0 1h0m0 18h0m0 2h0m0 6h0m0 12h0m0 8h0m0 16h0m0 4h0m0 29h0m0 1h0m1-171h0m0 11h0m0 18h0m0 1h0m0 37h0m0 2h0m0 7h0m0 4h0m0 4h0m0 22h0m0 19h0m0 10h0m0 2h0m0 10h0m0 15h0m0 4h0m0 4h0m0 0h0m1-150h0m0 4h0m0 13h0m0 26h0m0 2h0m0 21h0m0 4h0m0 3h0m0 5h0m0 11h0m0 7h0m0 34h0m0 12h0m1-135h0m0 21h0m0 2h0m0 6h0m0 20h0m0 3h0m0 22h0m0 11h0m0 9h0m0 32h0m0 15h0m0 1h0m0 0h0m1-162h0m0 2h0m0 29h0m0 23h0m0 11h0m0 3h0m0 7h0m0 9h0m0 78h0m0 0h0m1-198h0m0 87h0m0 17h0m0 10h0m0 40h0m0 26h0m0 16h0m1-146h0m0 16h0m0 5h0m0 3h0m0 1h0m0 4h0m0 6h0m0 4h0m0 1h0m0 26h0m0 22h0m0 4h0m0 2h0m0 6h0m0 1h0m0 4h0m0 2h0m0 11h0m0 12h0m0 16h0m0 1h0m0 12h0m1-135h0m0 6h0m0 4h0m0 19h0m0 8h0m0 2h0m0 12h0m0 11h0m0 5h0m0 3h0m0 52h0m0 3h0m0 0h0m1-190h0m0 54h0m0 0h0m0 8h0m0 4h0m0 15h0m0 2h0m0 16h0m0 2h0m0 11h0m0 75h0m0 1h0m0 0h0m0 1h0m1-145h0m0 6h0m0 12h0m0 13h0m0 10h0m0 10h0m0 1h0m0 2h0m0 3h0m0 27h0m0 3h0m0 4h0m0 15h0m0 1h0m0 6h0m1-185h0m0 22h0m0 2h0m0 36h0m0 20h0m0 7h0m0 9h0m0 7h0m0 6h0m0 4h0m0 0h0m0 3h0m0 0h0m0 2h0m0 0h0m0 16h0m0 76h0m1-205h0m0 49h0m0 12h0m0 26h0m0 11h0m0 0h0m0 22h0m0 8h0m0 16h0m0 18h0m0 0h0m1-207h0m0 40h0m0 31h0m0 25h0m0 3h0m0 8h0m0 9h0m0 9h0m0 2h0m0 5h0m0 3h0m0 50h0m0 14h0m0 18h0m0 38h0m1-155h0m0 18h0m0 22h0m0 6h0m0 14h0m0 16h0m0 13h0m0 23h0m0 9h0m0 6h0m0 27h0m1-205h0m0 70h0m0 3h0m0 7h0m0 3h0m0 33h0m0 70h0m0 17h0m0 1h0m0 1h0m0 2h0m1-230h0m0 37h0m0 24h0m0 6h0m0 21h0m0 4h0m0 1h0m0 2h0m0 1h0m0 3h0m0 20h0m0 5h0m0 0h0m0 37h0m0 13h0m0 5h0m0 6h0m0 44h0m1-228h0m0 87h0m0 13h0m0 11h0m0 7h0m0 22h0m0 17h0m0 0h0m0 4h0m0 11h0m0 5h0m0 13h0m0 13h0m0 1h0m0 22h0m0 2h0m1-146h0m0 7h0m0 5h0m0 1h0m0 1h0m0 8h0m0 8h0m0 1h0m0 13h0m0 0h0m0 24h0m0 0h0m0 6h0m0 8h0m0 4h0m0 2h0m0 16h0m0 12h0m0 19h0m0 11h0m1-169h0m0 10h0m0 8h0m0 26h0m0 1h0m0 6h0m0 4h0m0 0h0m0 29h0m0 18h0m0 44h0m0 7h0m1-193h0m0 34h0m0 24h0m0 1h0m0 15h0m0 3h0m0 42h0m0 5h0m0 83h0m1-187h0m0 18h0m0 2h0m0 20h0m0 4h0m0 0h0m0 10h0m0 18h0m0 7h0m0 2h0m0 9h0m0 8h0m0 3h0m0 2h0m0 19h0m0 21h0m0 11h0m1-109h0m0 10h0m0 1h0m0 4h0m0 25h0m0 19h0m0 4h0m0 12h0m0 8h0m0 5h0m0 26h0m0 25h0m0 3h0m1-232h0m0 78h0m0 41h0m0 13h0m0 12h0m0 13h0m0 67h0m1-160h0m0 23h0m0 20h0m0 7h0m0 15h0m0 5h0m0 1h0m0 30h0m0 37h0m1-212h0m0 21h0m0 34h0m0 55h0m0 14h0m0 5h0m0 4h0m0 4h0m0 6h0m0 48h0m0 38h0m0 2h0m1-164h0m0 14h0m0 30h0m0 0h0m0 6h0m0 6h0m0 27h0m0 4h0m0 79h0m0 11h0m1-186h0m0 0h0m0 10h0m0 2h0m0 1h0m0 13h0m0 5h0m0 29h0m0 20h0m0 11h0m0 7h0m0 1h0m0 55h0m0 28h0m1-165h0m0 21h0m0 1h0m0 14h0m0 31h0m0 15h0m0 10h0m0 3h0m0 10h0m1-34h0m0 3h0m0 6h0m0 1h0m0 16h0m0 23h0m0 46h0m0 7h0m1-175h0m0 15h0m0 24h0m0 10h0m0 4h0m0 7h0m0 37h0m0 23h0m1-205h0m0 67h0m0 28h0m0 5h0m0 33h0m0 4h0m0 4h0m0 4h0m0 3h0m0 5h0m0 1h0m0 18h0m0 3h0m0 0h0m0 5h0m0 0h0m0 17h0m0 7h0m1-121h0m0 2h0m0 12h0m0 12h0m0 20h0m0 7h0m0 7h0m0 2h0m0 12h0m0 10h0m0 3h0m0 33h0m0 45h0m1-210h0m0 49h0m0 16h0m0 19h0m0 3h0m0 23h0m0 11h0m0 13h0m0 4h0m0 0h0m0 5h0m0 1h0m0 0h0m0 12h0m0 6h0m0 51h0m0 0h0m1-148h0m0 8h0m0 16h0m0 1h0m0 17h0m0 9h0m0 16h0m0 2h0m0 38h0m0 5h0m0 5h0m1-135h0m0 20h0m0 7h0m0 41h0m0 6h0m0 3h0m0 32h0m0 11h0m0 29h0m0 2h0m0 11h0m0 3h0m1-145h0m0 1h0m0 19h0m0 43h0m0 12h0m0 5h0m0 23h0m1-199h0m0 92h0m0 4h0m0 9h0m0 5h0m0 11h0m0 3h0m0 59h0m0 7h0m0 49h0m0 0h0m0 2h0m0 1h0m1-169h0m0 36h0m0 8h0m0 1h0m0 3h0m0 3h0m0 7h0m0 8h0m0 2h0m0 3h0m0 33h0m0 7h0m0 11h0m0 28h0m0 10h0m0 7h0m1-211h0m0 64h0m0 15h0m0 15h0m0 17h0m0 2h0m0 6h0m0 15h0m0 4h0m0 73h0m1-156h0m0 18h0m0 5h0m0 26h0m0 22h0m0 1h0m0 2h0m0 15h0m0 8h0m0 5h0m0 54h0m0 4h0m1-135h0m0 11h0m0 2h0m0 9h0m0 1h0m0 11h0m0 4h0m0 31h0m0 9h0m0 9h0m0 20h0m0 23h0m1-129h0m0 26h0m0 34h0m0 16h0m0 21h0m0 31h0m0 2h0m0 0h0m0 1h0m0 0h0m1-177h0m0 40h0m0 1h0m0 5h0m0 44h0m0 11h0m0 2h0m0 25h0m0 45h0m0 1h0m0 2h0m1-255h0m0 107h0m0 2h0m0 1h0m0 4h0m0 2h0m0 14h0m0 11h0m0 12h0m0 13h0m0 11h0m0 1h0m0 13h0m0 64h0m1-236h0m0 64h0m0 3h0m0 23h0m0 19h0m0 2h0m0 15h0m0 16h0m0 0h0m0 2h0m0 18h0m0 64h0m0 8h0m1-206h0m0 6h0m0 59h0m0 38h0m0 2h0m0 6h0m0 4h0m0 16h0m0 4h0m0 9h0m0 1h0m0 15h0m1-105h0m0 7h0m0 7h0m0 4h0m0 7h0m0 1h0m0 4h0m0 0h0m0 18h0m1-78h0m0 5h0m0 7h0m0 20h0m0 13h0m0 12h0m0 12h0m0 9h0m0 41h0m0 0h0m0 1h0m0 19h0m0 13h0m0 30h0m1-260h0m0 19h0m0 14h0m0 50h0m0 13h0m0 5h0m0 30h0m0 18h0m0 66h0m1-244h0m0 94h0m0 2h0m0 11h0m0 17h0m0 6h0m0 14h0m0 16h0m0 26h0m0 21h0m0 15h0m0 14h0m0 44h0m0 0h0m0 14h0m1-231h0m0 4h0m0 72h0m0 10h0m0 9h0m0 3h0m0 7h0m0 6h0m0 8h0m0 1h0m0 0h0m0 19h0m0 7h0m0 72h0m0 0h0m0 5h0m0 1h0m0 0h0m1-201h0m0 6h0m0 13h0m0 18h0m0 10h0m0 13h0m0 10h0m0 4h0m0 12h0m0 16h0m0 7h0m0 9h0m0 11h0m0 23h0m0 49h0m0 7h0m1-267h0m0 84h0m0 14h0m0 1h0m0 18h0m0 24h0m0 15h0m0 6h0m0 9h0m0 4h0m0 32h0m0 31h0m0 17h0m0 0h0m1-122h0m0 2h0m0 15h0m0 3h0m0 28h0m0 6h0m0 19h0m0 43h0m0 7h0m0 2h0m0 2h0m1-154h0m0 22h0m0 2h0m0 23h0m0 3h0m0 5h0m0 0h0m0 31h0m0 0h0m0 2h0m0 4h0m0 3h0m0 7h0m0 46h0m0 3h0m0 1h0m1-256h0m0 107h0m0 4h0m0 14h0m0 9h0m0 24h0m0 2h0m0 19h0m0 55h0m0 25h0m0 0h0m1-154h0m0 5h0m0 14h0m0 20h0m0 25h0m0 27h0m0 62h0m1-143h0m0 59h0m0 25h0m0 4h0m0 21h0m0 1h0m0 32h0m0 2h0m1-162h0m0 22h0m0 10h0m0 15h0m0 5h0m0 1h0m0 5h0m0 9h0m0 4h0m0 5h0m0 20h0m0 3h0m0 10h0m0 9h0m0 11h0m0 26h0m0 3h0m1-147h0m0 29h0m0 3h0m0 3h0m0 4h0m0 7h0m0 17h0m0 0h0m0 15h0m0 7h0m0 2h0m0 3h0m0 6h0m0 8h0m0 4h0m0 30h0m0 4h0m0 7h0m1-149h0m0 31h0m0 13h0m0 5h0m0 4h0m0 5h0m0 0h0m0 1h0m0 14h0m0 30h0m0 9h0m0 15h0m1-129h0m0 15h0m0 24h0m0 1h0m0 8h0m0 9h0m0 4h0m0 1h0m0 1h0m0 5h0m0 6h0m0 26h0m0 1h0m0 44h0m0 5h0m0 1h0m1-147h0m0 7h0m0 14h0m0 8h0m0 16h0m0 29h0m0 1h0m0 6h0m0 8h0m0 39h0m0 14h0m0 1h0m0 3h0m1-203h0m0 4h0m0 7h0m0 61h0m0 19h0m0 31h0m0 1h0m0 5h0m0 2h0m0 2h0m0 3h0m0 14h0m0 24h0m0 30h0m1-146h0m0 6h0m0 25h0m0 8h0m0 18h0m0 1h0m0 21h0m0 1h0m0 15h0m0 16h0m0 3h0m0 27h0m0 7h0m1-167h0m0 14h0m0 2h0m0 24h0m0 3h0m0 28h0m0 13h0m0 31h0m0 4h0m0 47h0m0 0h0m1-195h0m0 26h0m0 1h0m0 14h0m0 35h0m0 29h0m0 1h0m0 15h0m0 16h0m0 10h0m0 43h0m0 3h0m0 2h0m1-256h0m0 29h0m0 69h0m0 13h0m0 2h0m0 8h0m0 23h0m0 40h0m0 10h0m0 54h0m1-135h0m0 21h0m0 9h0m0 2h0m0 8h0m0 17h0m0 26h0m0 0h0m0 57h0m1-140h0m0 38h0m0 5h0m0 8h0m0 1h0m0 4h0m0 12h0m0 17h0m0 11h0m0 17h0m0 3h0m1-152h0m0 7h0m0 1h0m0 19h0m0 6h0m0 6h0m0 7h0m0 1h0m0 7h0m0 1h0m0 26h0m0 35h0m0 14h0m0 18h0m0 17h0m0 14h0m1-122h0m0 3h0m0 1h0m0 16h0m0 54h0m0 2h0m0 44h0m1-169h0m0 34h0m0 8h0m0 19h0m0 4h0m0 2h0m0 14h0m0 2h0m0 5h0m0 25h0m0 53h0m0 2h0m1-179h0m0 55h0m0 15h0m0 18h0m0 12h0m0 13h0m0 14h0m0 53h0m1-196h0m0 17h0m0 5h0m0 1h0m0 6h0m0 34h0m0 16h0m0 0h0m0 15h0m0 6h0m0 7h0m0 7h0m0 83h0m1-180h0m0 8h0m0 2h0m0 2h0m0 17h0m0 18h0m0 3h0m0 2h0m0 53h0m0 67h0m0 7h0m1-226h0m0 26h0m0 0h0m0 44h0m0 1h0m0 3h0m0 14h0m0 10h0m0 21h0m0 6h0m0 8h0m0 3h0m0 12h0m0 74h0m0 1h0m0 2h0m1-236h0m0 48h0m0 52h0m0 5h0m0 3h0m0 2h0m0 7h0m0 21h0m0 4h0m0 42h0m0 50h0m0 6h0m1-251h0m0 56h0m0 17h0m0 6h0m0 2h0m0 17h0m0 32h0m0 0h0m0 9h0m0 6h0m1-85h0m0 24h0m0 10h0m0 22h0m0 16h0m0 8h0m0 4h0m0 1h0m0 10h0m0 1h0m0 11h0m0 8h0m0 14h0m0 7h0m1-135h0m0 20h0m0 7h0m0 2h0m0 22h0m0 34h0m0 14h0m0 9h0m0 12h0m0 11h0m0 50h0m1-162h0m0 9h0m0 0h0m0 1h0m0 8h0m0 30h0m0 10h0m0 5h0m0 31h0m0 69h0m0 3h0m1-203h0m0 36h0m0 24h0m0 12h0m0 5h0m0 1h0m0 8h0m0 1h0m0 0h0m0 3h0m0 1h0m0 1h0m0 17h0m0 3h0m0 8h0m0 13h0m0 3h0m0 3h0m0 0h0m0 3h0m0 5h0m0 15h0m0 37h0m0 2h0m1-180h0m0 50h0m0 0h0m0 4h0m0 5h0m0 1h0m0 3h0m0 2h0m0 9h0m0 57h0m0 9h0m0 5h0m0 6h0m1-148h0m0 37h0m0 28h0m0 31h0m0 5h0m0 30h0m0 46h0m1-222h0m0 53h0m0 21h0m0 14h0m0 12h0m0 13h0m0 2h0m0 2h0m0 6h0m0 25h0m0 13h0m0 7h0m0 56h0m1-195h0m0 15h0m0 25h0m0 2h0m0 4h0m0 29h0m0 12h0m0 5h0m0 3h0m0 0h0m0 30h0m0 8h0m0 37h0m0 15h0m0 9h0m1-190h0m0 37h0m0 2h0m0 33h0m0 4h0m0 14h0m0 1h0m0 15h0m0 16h0m0 67h0m1-258h0m0 67h0m0 33h0m0 6h0m0 7h0m0 12h0m0 10h0m0 25h0m0 6h0m0 12h0m0 10h0m0 0h0m0 8h0m1-159h0m0 9h0m0 43h0m0 3h0m0 10h0m0 8h0m0 2h0m0 15h0m0 2h0m0 21h0m0 3h0m0 13h0m0 23h0m1-122h0m0 9h0m0 12h0m0 10h0m0 15h0m0 8h0m0 58h0m0 3h0m0 4h0m0 73h0m0 1h0m1-261h0m0 73h0m0 28h0m0 17h0m0 5h0m0 0h0m0 22h0m0 12h0m0 22h0m0 9h0m0 7h0m0 61h0m0 11h0m0 3h0m1-165h0m0 11h0m0 9h0m0 11h0m0 6h0m0 18h0m0 59h0m0 3h0m0 36h0m0 2h0m0 1h0m0 0h0m1-169h0m0 11h0m0 13h0m0 17h0m0 1h0m0 8h0m0 37h0m0 48h0m0 11h0m0 23h0m1-160h0m0 2h0m0 12h0m0 13h0m0 63h0m0 5h0m0 20h0m0 5h0m1-230h0m0 31h0m0 38h0m0 27h0m0 11h0m0 0h0m0 10h0m0 2h0m0 4h0m0 7h0m0 52h0m0 27h0m0 35h0m0 20h0m0 4h0m0 2h0m0 8h0m1-191h0m0 3h0m0 0h0m0 33h0m0 11h0m0 7h0m0 43h0m0 20h0m0 33h0m0 30h0m0 3h0m1-177h0m0 4h0m0 2h0m0 13h0m0 21h0m0 5h0m0 20h0m0 6h0m0 6h0m0 14h0m0 12h0m0 3h0m0 37h0m0 13h0m0 18h0m0 2h0m0 0h0m0 1h0m1-149h0m0 5h0m0 14h0m0 8h0m0 6h0m0 6h0m0 45h0m0 4h0m0 60h0m1-143h0m0 19h0m0 7h0m0 10h0m0 33h0m0 2h0m0 2h0m0 68h0m1-157h0m0 5h0m0 26h0m0 26h0m0 18h0m0 19h0m0 0h0m0 22h0m0 40h0m1-189h0m0 35h0m0 4h0m0 2h0m0 6h0m0 4h0m0 4h0m0 12h0m0 2h0m0 7h0m0 25h0m0 0h0m0 3h0m0 15h0m0 14h0m0 35h0m0 15h0m1-157h0m0 32h0m0 0h0m0 8h0m0 1h0m0 16h0m0 24h0m0 5h0m0 38h0m0 4h0m0 35h0m1-145h0m0 10h0m0 0h0m0 12h0m0 15h0m0 23h0m0 8h0m0 73h0m0 6h0m1-235h0m0 32h0m0 44h0m0 8h0m0 1h0m0 0h0m0 21h0m0 47h0m0 68h0m0 7h0m1-229h0m0 30h0m0 14h0m0 5h0m0 23h0m0 8h0m0 6h0m0 41h0m0 9h0m0 9h0m0 14h0m0 22h0m1-170h0m0 1h0m0 10h0m0 3h0m0 30h0m0 58h0m0 79h0m0 1h0m0 33h0m1-256h0m0 43h0m0 30h0m0 9h0m0 11h0m0 19h0m0 22h0m0 41h0m0 7h0m0 1h0m0 23h0m0 34h0m0 21h0m1-195h0m0 12h0m0 18h0m0 33h0m0 26h0m0 45h0m0 19h0m0 23h0m0 22h0m0 0h0m0 13h0m1-183h0m0 10h0m0 21h0m0 2h0m0 4h0m0 2h0m0 21h0m0 21h0m0 13h0m0 4h0m0 7h0m0 12h0m0 21h0m0 34h0m1-242h0m0 69h0m0 9h0m0 18h0m0 8h0m0 30h0m0 12h0m0 18h0m0 0h0m0 3h0m0 9h0m0 8h0m0 14h0m0 38h0m0 6h0m1-284h0m0 48h0m0 4h0m0 9h0m0 46h0m0 20h0m0 39h0m0 10h0m0 17h0m0 17h0m0 12h0m0 20h0m0 36h0m0 4h0m0 1h0m1-261h0m0 6h0m0 10h0m0 11h0m0 49h0m0 18h0m0 13h0m0 17h0m0 5h0m0 6h0m0 8h0m0 52h0m0 36h0m0 33h0m1-196h0m0 13h0m0 3h0m0 28h0m0 6h0m0 16h0m0 4h0m0 9h0m0 42h0m0 14h0m0 2h0m0 9h0m0 50h0m1-198h0m0 3h0m0 16h0m0 8h0m0 22h0m0 25h0m0 5h0m0 14h0m0 21h0m0 66h0m0 10h0m1-222h0m0 47h0m0 8h0m0 47h0m0 19h0m0 2h0m0 27h0m0 8h0m0 61h0m0 1h0m1-201h0m0 11h0m0 16h0m0 36h0m0 53h0m0 10h0m0 3h0m1-110h0m0 10h0m0 4h0m0 24h0m0 7h0m0 15h0m0 5h0m0 3h0m0 14h0m0 49h0m0 38h0m0 19h0m1-174h0m0 2h0m0 33h0m0 40h0m0 1h0m0 12h0m0 20h0m0 16h0m0 19h0m0 30h0m0 0h0m1-161h0m0 4h0m0 8h0m0 8h0m0 12h0m0 4h0m0 37h0m0 2h0m0 30h0m0 1h0m0 3h0m0 53h0m0 0h0m0 3h0m1-217h0m0 38h0m0 5h0m0 7h0m0 9h0m0 27h0m0 9h0m0 11h0m0 12h0m0 3h0m0 9h0m0 56h0m0 19h0m0 6h0m0 2h0m1-186h0m0 11h0m0 15h0m0 6h0m0 9h0m0 28h0m0 3h0m0 2h0m0 20h0m0 20h0m0 28h0m0 45h0m1-288h0m0 74h0m0 6h0m0 48h0m0 35h0m0 5h0m0 10h0m0 7h0m0 5h0m0 43h0m0 56h0m1-187h0m0 5h0m0 6h0m0 7h0m0 2h0m0 11h0m0 10h0m0 20h0m0 5h0m0 1h0m0 8h0m0 14h0m0 11h0m0 29h0m0 6h0m0 34h0m0 5h0m0 1h0m1-144h0m0 9h0m0 22h0m0 8h0m0 12h0m0 7h0m0 16h0m0 1h0m0 13h0m0 2h0m0 3h0m0 27h0m0 3h0m0 29h0m1-241h0m0 45h0m0 0h0m0 28h0m0 4h0m0 17h0m0 8h0m0 4h0m0 3h0m0 5h0m0 39h0m0 3h0m0 53h0m0 31h0m0 4h0m1-216h0m0 17h0m0 3h0m0 15h0m0 9h0m0 2h0m0 38h0m0 0h0m0 12h0m0 38h0m0 37h0m0 10h0m0 33h0m1-200h0m0 36h0m0 52h0m0 1h0m0 12h0m0 3h0m0 37h0m0 55h0m1-219h0m0 55h0m0 13h0m0 25h0m0 10h0m0 1h0m0 10h0m0 7h0m0 8h0m0 3h0m0 25h0m0 3h0m0 55h0m1-178h0m0 33h0m0 1h0m0 10h0m0 20h0m0 11h0m0 14h0m0 53h0m0 1h0m0 43h0m0 1h0m0 0h0m1-172h0m0 3h0m0 34h0m0 23h0m0 2h0m0 6h0m0 1h0m0 4h0m0 1h0m0 17h0m0 23h0m0 2h0m1-113h0m0 13h0m0 7h0m0 11h0m0 0h0m0 56h0m0 10h0m0 10h0m0 3h0m0 10h0m0 9h0m1-114h0m0 4h0m0 4h0m0 11h0m0 32h0m0 54h0m0 48h0m1-193h0m0 15h0m0 10h0m0 5h0m0 12h0m0 27h0m0 9h0m0 22h0m0 16h0m0 1h0m0 32h0m0 12h0m0 24h0m1-231h0m0 63h0m0 25h0m0 8h0m0 15h0m0 1h0m0 15h0m0 1h0m0 1h0m0 3h0m0 23h0m0 31h0m0 6h0m0 42h0m1-186h0m0 65h0m0 7h0m0 8h0m0 28h0m0 38h0m0 0h0m0 34h0m1-132h0m0 8h0m0 1h0m0 4h0m0 27h0m0 12h0m0 6h0m0 28h0m0 39h0m0 5h0m0 17h0m1-277h0m0 23h0m0 18h0m0 34h0m0 6h0m0 16h0m0 39h0m0 2h0m0 2h0m0 8h0m0 26h0m0 16h0m0 78h0m1-192h0m0 21h0m0 3h0m0 16h0m0 5h0m0 2h0m0 8h0m0 32h0m0 5h0m0 29h0m0 5h0m0 13h0m0 27h0m1-222h0m0 101h0m0 20h0m0 2h0m0 1h0m0 26h0m0 1h0m0 42h0m0 9h0m0 15h0m1-185h0m0 5h0m0 31h0m0 22h0m0 5h0m0 9h0m0 13h0m0 25h0m0 3h0m0 22h0m0 26h0m0 8h0m0 24h0m0 25h0m0 1h0m1-214h0m0 33h0m0 14h0m0 0h0m0 19h0m0 1h0m0 8h0m0 0h0m0 6h0m0 5h0m0 6h0m0 33h0m0 25h0m0 59h0m1-186h0m0 9h0m0 11h0m0 13h0m0 2h0m0 0h0m0 5h0m0 25h0m0 12h0m0 59h0m0 7h0m0 9h0m0 1h0m0 29h0m1-184h0m0 9h0m0 6h0m0 5h0m0 17h0m0 18h0m0 2h0m0 15h0m0 44h0m0 7h0m0 14h0m1-170h0m0 35h0m0 3h0m0 33h0m0 14h0m0 11h0m0 12h0m0 2h0m0 58h0m0 4h0m1-113h0m0 21h0m0 7h0m0 20h0m0 9h0m0 5h0m0 45h0m0 17h0m0 41h0m0 1h0m1-169h0m0 12h0m0 17h0m0 5h0m0 2h0m0 24h0m0 6h0m0 16h0m0 58h0m1-194h0m0 63h0m0 16h0m0 9h0m0 27h0m0 4h0m0 1h0m0 5h0m0 91h0m1-211h0m0 21h0m0 31h0m0 6h0m0 16h0m0 1h0m0 23h0m0 8h0m0 13h0m0 9h0m0 10h0m0 82h0m1-142h0m0 4h0m0 4h0m0 69h0m0 0h0m0 3h0m1-102h0m0 14h0m0 3h0m0 13h0m0 0h0m0 36h0m0 18h0m0 7h0m0 0h0m0 60h0m1-229h0m0 69h0m0 1h0m0 3h0m0 6h0m0 31h0m0 4h0m0 8h0m0 24h0m0 4h0m0 91h0m1-147h0m0 2h0m0 0h0m0 6h0m0 7h0m0 19h0m0 6h0m0 2h0m0 6h0m0 17h0m0 63h0m0 23h0m1-256h0m0 7h0m0 43h0m0 20h0m0 9h0m0 19h0m0 4h0m0 5h0m0 26h0m0 5h0m0 61h0m0 43h0m0 5h0m0 2h0m1-133h0m0 5h0m0 10h0m0 15h0m0 14h0m0 14h0m0 12h0m0 1h0m0 22h0m0 8h0m0 16h0m1-134h0m0 4h0m0 10h0m0 30h0m0 24h0m0 87h0m1-171h0m0 7h0m0 25h0m0 7h0m0 6h0m0 24h0m0 14h0m0 36h0m0 2h0m0 24h0m0 13h0m0 5h0m0 2h0m0 4h0m1-232h0m0 57h0m0 7h0m0 0h0m0 7h0m0 13h0m0 38h0m0 16h0m0 5h0m0 25h0m0 0h0m0 15h0m0 4h0m0 42h0m1-243h0m0 38h0m0 30h0m0 16h0m0 3h0m0 10h0m0 18h0m0 2h0m0 36h0m0 12h0m0 8h0m0 20h0m0 7h0m0 13h0m0 30h0m0 2h0m1-195h0m0 7h0m0 24h0m0 5h0m0 6h0m0 10h0m0 8h0m0 3h0m0 1h0m0 53h0m0 1h0m0 30h0m0 47h0m1-170h0m0 19h0m0 1h0m0 3h0m0 19h0m0 9h0m0 15h0m0 17h0m0 3h0m0 21h0m0 3h0m0 29h0m0 18h0m0 3h0m0 8h0m0 1h0m0 8h0m1-204h0m0 29h0m0 13h0m0 4h0m0 10h0m0 3h0m0 35h0m0 1h0m0 18h0m0 7h0m0 2h0m0 15h0m0 19h0m0 7h0m0 0h0m0 20h0m0 12h0m0 2h0m1-171h0m0 0h0m0 5h0m0 2h0m0 1h0m0 15h0m0 5h0m0 2h0m0 8h0m0 10h0m0 12h0m0 1h0m0 8h0m0 27h0m0 70h0m0 5h0m1-232h0m0 42h0m0 31h0m0 6h0m0 7h0m0 2h0m0 12h0m0 12h0m0 5h0m0 4h0m0 12h0m0 22h0m1-168h0m0 65h0m0 1h0m0 47h0m0 2h0m0 2h0m0 5h0m0 1h0m0 41h0m0 4h0m0 8h0m0 36h0m0 12h0m1-180h0m0 8h0m0 3h0m0 9h0m0 55h0m0 13h0m0 30h0m0 7h0m0 0h0m0 14h0m0 18h0m0 2h0m1-151h0m0 3h0m0 24h0m0 9h0m0 3h0m0 9h0m0 31h0m0 19h0m0 39h0m0 5h0m0 16h0m0 29h0m0 6h0m1-237h0m0 60h0m0 4h0m0 3h0m0 3h0m0 9h0m0 3h0m0 16h0m0 9h0m0 7h0m0 80h0m0 14h0m0 28h0m0 0h0m1-185h0m0 16h0m0 24h0m0 3h0m0 5h0m0 9h0m0 5h0m0 19h0m0 21h0m0 10h0m0 25h0m0 47h0m1-168h0m0 12h0m0 24h0m0 2h0m0 30h0m0 28h0m0 17h0m0 3h0m0 21h0m0 11h0m0 6h0m0 11h0m0 5h0m0 0h0m1-186h0m0 15h0m0 0h0m0 5h0m0 5h0m0 0h0m0 19h0m0 3h0m0 10h0m0 7h0m0 7h0m0 29h0m0 48h0m0 5h0m0 0h0m0 13h0m0 12h0m0 7h0m1-212h0m0 41h0m0 10h0m0 3h0m0 9h0m0 2h0m0 5h0m0 8h0m0 22h0m0 18h0m0 38h0m0 52h0m1-185h0m0 12h0m0 17h0m0 39h0m0 57h0m0 63h0m1-178h0m0 14h0m0 5h0m0 6h0m0 36h0m0 28h0m0 45h0m0 11h0m0 1h0m1-138h0m0 8h0m0 10h0m0 0h0m0 7h0m0 45h0m0 9h0m0 14h0m0 27h0m0 45h0m0 2h0m0 2h0m1-191h0m0 10h0m0 20h0m0 6h0m0 8h0m0 0h0m0 11h0m0 28h0m0 3h0m0 4h0m0 27h0m0 15h0m0 35h0m1-221h0m0 49h0m0 9h0m0 1h0m0 5h0m0 26h0m0 11h0m0 9h0m0 38h0m0 18h0m0 1h0m0 14h0m0 41h0m0 22h0m0 0h0m0 14h0m1-220h0m0 19h0m0 23h0m0 45h0m0 0h0m0 5h0m0 23h0m0 20h0m1-81h0m0 4h0m0 13h0m0 43h0m0 13h0m0 36h0m0 18h0m1-155h0m0 35h0m0 53h0m0 7h0m0 51h0m1-133h0m0 11h0m0 25h0m0 8h0m0 29h0m0 11h0m0 23h0m0 3h0m0 4h0m0 8h0m0 5h0m0 1h0m0 22h0m0 11h0m0 2h0m0 6h0m1-211h0m0 51h0m0 0h0m0 4h0m0 6h0m0 58h0m0 3h0m0 85h0m1-210h0m0 79h0m0 19h0m0 8h0m0 33h0m0 8h0m0 22h0m0 18h0m0 23h0m0 1h0m0 4h0m0 2h0m1-207h0m0 7h0m0 19h0m0 8h0m0 11h0m0 12h0m0 16h0m0 1h0m0 34h0m0 29h0m0 8h0m0 27h0m0 28h0m0 1h0m1-275h0m0 20h0m0 77h0m0 1h0m0 3h0m0 3h0m0 21h0m0 10h0m0 25h0m0 2h0m0 15h0m0 1h0m0 17h0m0 33h0m0 14h0m0 3h0m0 24h0m1-195h0m0 10h0m0 14h0m0 0h0m0 28h0m0 6h0m0 0h0m0 1h0m0 55h0m0 1h0m0 10h0m0 12h0m1-147h0m0 34h0m0 15h0m0 2h0m0 23h0m0 28h0m0 3h0m0 4h0m0 15h0m0 25h0m0 65h0m1-271h0m0 101h0m0 10h0m0 33h0m0 28h0m0 23h0m0 1h0m0 69h0m0 4h0m0 2h0m1-225h0m0 20h0m0 21h0m0 21h0m0 9h0m0 79h0m0 10h0m0 17h0m0 44h0m0 0h0m0 1h0m1-187h0m0 13h0m0 21h0m0 19h0m0 3h0m0 3h0m0 21h0m0 32h0m0 10h0m0 8h0m0 19h0m0 35h0m1-274h0m0 119h0m0 19h0m0 20h0m0 58h0m0 56h0m1-195h0m0 54h0m0 8h0m0 2h0m0 4h0m0 7h0m0 6h0m0 1h0m0 11h0m0 4h0m0 4h0m0 9h0m0 12h0m0 20h0m0 55h0m1-204h0m0 51h0m0 1h0m0 3h0m0 2h0m0 14h0m0 0h0m0 2h0m0 38h0m0 6h0m0 5h0m0 13h0m0 15h0m0 15h0m0 22h0m1-174h0m0 16h0m0 2h0m0 6h0m0 8h0m0 18h0m0 44h0m0 15h0m0 2h0m0 25h0m0 55h0m0 3h0m0 2h0m1-194h0m0 9h0m0 13h0m0 1h0m0 1h0m0 16h0m0 34h0m0 12h0m0 43h0m0 59h0m1-245h0m0 17h0m0 74h0m0 5h0m0 15h0m0 18h0m0 2h0m0 7h0m0 19h0m0 41h0m0 9h0m0 41h0m1-246h0m0 18h0m0 69h0m0 13h0m0 17h0m0 13h0m0 2h0m0 13h0m0 9h0m0 4h0m0 4h0m0 4h0m0 7h0m0 18h0m0 46h0m1-259h0m0 35h0m0 48h0m0 1h0m0 57h0m0 6h0m0 2h0m0 30h0m0 1h0m0 4h0m0 18h0m0 56h0m0 11h0m0 2h0m0 2h0m1-231h0m0 50h0m0 14h0m0 14h0m0 64h0m0 30h0m0 29h0m0 25h0m0 3h0m1-274h0m0 14h0m0 65h0m0 12h0m0 31h0m0 7h0m0 4h0m0 6h0m0 12h0m0 5h0m0 8h0m0 5h0m0 4h0m0 10h0m0 24h0m0 1h0m0 23h0m0 5h0m1-156h0m0 21h0m0 17h0m0 1h0m0 9h0m0 8h0m0 7h0m0 8h0m0 28h0m0 13h0m0 9h0m0 3h0m0 62h0m0 7h0m1-183h0m0 2h0m0 17h0m0 2h0m0 23h0m0 26h0m0 7h0m0 9h0m0 1h0m0 2h0m0 2h0m0 1h0m0 6h0m0 33h0m0 18h0m0 5h0m0 7h0m0 6h0m0 15h0m1-181h0m0 5h0m0 9h0m0 1h0m0 42h0m0 37h0m0 83h0m1-188h0m0 16h0m0 12h0m0 1h0m0 10h0m0 23h0m0 36h0m0 11h0m0 10h0m0 5h0m0 20h0m0 10h0m0 33h0m0 1h0m0 5h0m1-163h0m0 2h0m0 4h0m0 2h0m0 26h0m0 53h0m0 36h0m0 16h0m0 7h0m1-161h0m0 19h0m0 21h0m0 4h0m0 16h0m0 11h0m0 35h0m0 9h0m0 16h0m0 19h0m0 1h0m0 22h0m0 4h0m0 9h0m1-225h0m0 11h0m0 44h0m0 0h0m0 2h0m0 13h0m0 0h0m0 0h0m0 13h0m0 18h0m0 10h0m0 21h0m0 60h0m0 5h0m1-156h0m0 2h0m0 11h0m0 10h0m0 17h0m0 2h0m0 20h0m0 109h0m0 3h0m0 3h0m1-200h0m0 4h0m0 8h0m0 10h0m0 17h0m0 8h0m0 4h0m0 52h0m0 6h0m0 16h0m0 11h0m0 5h0m0 5h0m0 9h0m0 30h0m0 4h0m0 6h0m1-204h0m0 40h0m0 41h0m0 3h0m0 0h0m0 13h0m0 13h0m0 34h0m0 2h0m0 11h0m1-145h0m0 40h0m0 10h0m0 13h0m0 17h0m0 1h0m0 27h0m0 1h0m0 16h0m0 6h0m0 7h0m0 1h0m0 4h0m0 30h0m0 21h0m0 2h0m1-230h0m0 28h0m0 84h0m0 15h0m0 12h0m0 2h0m0 15h0m0 27h0m0 14h0m1-155h0m0 15h0m0 20h0m0 10h0m0 12h0m0 20h0m0 38h0m1-173h0m0 16h0m0 34h0m0 11h0m0 11h0m0 11h0m0 9h0m0 14h0m0 10h0m0 7h0m0 25h0m0 17h0m0 7h0m0 12h0m0 25h0m0 32h0m0 5h0m0 0h0m1-241h0m0 67h0m0 8h0m0 7h0m0 35h0m0 15h0m0 16h0m0 6h0m0 4h0m0 24h0m0 14h0m0 24h0m0 15h0m1-283h0m0 113h0m0 10h0m0 23h0m0 26h0m0 72h0m0 44h0m1-278h0m0 65h0m0 9h0m0 16h0m0 3h0m0 8h0m0 6h0m0 14h0m0 33h0m0 14h0m0 10h0m0 6h0m0 10h0m0 30h0m0 4h0m0 48h0m0 2h0m0 1h0m1-265h0m0 24h0m0 38h0m0 7h0m0 5h0m0 4h0m0 16h0m0 14h0m0 27h0m0 38h0m0 11h0m0 6h0m0 48h0m0 21h0m1-262h0m0 39h0m0 10h0m0 8h0m0 25h0m0 3h0m0 2h0m0 8h0m0 9h0m0 11h0m0 11h0m0 8h0m0 7h0m0 2h0m0 27h0m0 10h0m0 7h0m0 9h0m0 67h0m1-270h0m0 65h0m0 2h0m0 15h0m0 24h0m0 4h0m0 2h0m0 2h0m0 3h0m0 31h0m0 3h0m0 13h0m0 109h0m1-227h0m0 31h0m0 15h0m0 2h0m0 5h0m0 26h0m0 22h0m0 2h0m0 69h0m0 7h0m0 25h0m0 16h0m1-204h0m0 24h0m0 9h0m0 10h0m0 16h0m0 65h0m0 15h0m0 11h0m0 30h0m0 33h0m1-179h0m0 14h0m0 16h0m0 11h0m0 7h0m0 0h0m0 4h0m0 15h0m0 6h0m0 2h0m0 4h0m0 13h0m0 26h0m0 26h0m0 17h0m0 21h0m1-190h0m0 39h0m0 5h0m0 9h0m0 39h0m0 6h0m0 29h0m0 10h0m0 49h0m1-156h0m0 20h0m0 6h0m0 40h0m0 0h0m0 40h0m0 19h0m1-160h0m0 21h0m0 11h0m0 20h0m0 13h0m0 6h0m0 4h0m0 40h0m0 4h0m0 8h0m1-129h0m0 22h0m0 6h0m0 7h0m0 0h0m0 5h0m0 3h0m0 2h0m0 1h0m0 15h0m0 2h0m0 5h0m0 16h0m0 1h0m0 12h0m0 17h0m0 19h0m1-141h0m0 7h0m0 17h0m0 36h0m0 31h0m0 10h0m0 13h0m0 39h0m1-298h0m0 105h0m0 14h0m0 20h0m0 4h0m0 42h0m0 12h0m0 20h0m0 2h0m0 6h0m0 32h0m0 64h0m0 20h0m0 3h0m1-263h0m0 27h0m0 10h0m0 8h0m0 40h0m0 179h0m1-243h0m0 24h0m0 6h0m0 18h0m0 2h0m0 155h0m0 20h0m0 1h0m1-238h0m0 26h0m0 10h0m0 7h0m0 15h0m0 20h0m0 9h0m0 35h0m0 15h0m0 8h0m0 18h0m0 14h0m0 4h0m0 14h0m0 14h0m0 1h0m0 17h0m0 5h0m1-168h0m0 10h0m0 8h0m0 4h0m0 0h0m0 10h0m0 0h0m0 3h0m0 23h0m0 35h0m0 4h0m0 0h0m0 12h0m0 19h0m1-119h0m0 14h0m0 5h0m0 4h0m0 7h0m0 30h0m0 6h0m0 68h0m0 15h0m0 22h0m0 6h0m1-321h0m0 38h0m0 56h0m0 25h0m0 24h0m0 40h0m0 47h0m0 6h0m0 11h0m0 35h0m0 13h0m0 30h0m1-292h0m0 105h0m0 0h0m0 1h0m0 40h0m0 36h0m0 1h0m0 21h0m0 46h0m0 17h0m0 24h0m0 2h0m0 0h0m1-222h0m0 46h0m0 0h0m0 11h0m0 11h0m0 13h0m0 10h0m0 15h0m0 12h0m0 0h0m0 22h0m0 7h0m0 1h0m0 4h0m1-163h0m0 9h0m0 9h0m0 34h0m0 17h0m0 16h0m0 11h0m0 22h0m0 14h0m0 6h0m0 16h0m0 27h0m0 52h0m1-266h0m0 62h0m0 2h0m0 57h0m0 12h0m0 1h0m0 6h0m0 7h0m0 78h0m0 3h0m0 36h0m0 9h0m1-182h0m0 8h0m0 3h0m0 3h0m0 3h0m0 3h0m0 28h0m0 8h0m0 6h0m0 23h0m0 87h0m1-262h0m0 95h0m0 9h0m0 9h0m0 3h0m0 10h0m0 31h0m0 7h0m0 49h0m0 9h0m0 11h0m1-218h0m0 21h0m0 91h0m0 7h0m0 46h0m0 6h0m0 31h0m0 40h0m0 4h0m0 4h0m1-191h0m0 46h0m0 15h0m0 9h0m0 6h0m0 8h0m0 5h0m0 10h0m0 1h0m0 5h0m0 20h0m0 4h0m0 60h0m0 2h0m1-223h0m0 49h0m0 1h0m0 18h0m0 10h0m0 1h0m0 17h0m0 13h0m0 24h0m0 5h0m0 14h0m0 58h0m0 11h0m0 0h0m0 2h0m0 0h0m1-305h0m0 53h0m0 85h0m0 25h0m0 4h0m0 13h0m0 6h0m0 8h0m0 10h0m0 4h0m0 3h0m0 8h0m0 4h0m0 10h0m0 7h0m0 1h0m0 56h0m1-285h0m0 129h0m0 10h0m0 25h0m0 4h0m0 26h0m0 3h0m0 36h0m0 16h0m0 30h0m0 14h0m1-301h0m0 49h0m0 53h0m0 3h0m0 6h0m0 5h0m0 28h0m0 6h0m0 3h0m0 4h0m0 1h0m0 8h0m0 9h0m0 1h0m0 2h0m0 23h0m0 1h0m0 25h0m0 7h0m1-214h0m0 35h0m0 48h0m0 14h0m0 2h0m0 9h0m0 13h0m0 1h0m0 33h0m0 25h0m0 1h0m0 15h0m1-102h0m0 2h0m0 18h0m0 14h0m0 23h0m0 0h0m0 8h0m0 14h0m0 39h0m0 10h0m0 14h0m0 10h0m0 14h0m1-220h0m0 65h0m0 7h0m0 7h0m0 13h0m0 3h0m0 2h0m0 13h0m0 25h0m0 14h0m0 18h0m0 7h0m0 3h0m0 8h0m0 52h0m1-326h0m0 120h0m0 18h0m0 53h0m0 27h0m0 100h0m1-193h0m0 8h0m0 6h0m0 5h0m0 14h0m0 5h0m0 9h0m0 14h0m0 26h0m0 19h0m0 33h0m0 8h0m0 24h0m0 26h0m0 2h0m0 5h0m1-311h0m0 115h0m0 21h0m0 26h0m0 25h0m0 13h0m0 28h0m0 9h0m0 43h0m0 7h0m0 16h0m1-188h0m0 43h0m0 1h0m0 11h0m0 36h0m0 3h0m0 3h0m0 15h0m0 7h0m0 73h0m1-179h0m0 9h0m0 3h0m0 5h0m0 7h0m0 4h0m0 8h0m0 8h0m0 8h0m0 14h0m0 4h0m0 11h0m0 2h0m0 10h0m0 32h0m0 0h0m0 1h0m0 23h0m0 15h0m0 14h0m0 5h0m1-266h0m0 50h0m0 37h0m0 14h0m0 4h0m0 13h0m0 0h0m0 17h0m0 35h0m0 4h0m0 73h0m1-283h0m0 84h0m0 16h0m0 28h0m0 20h0m0 7h0m0 2h0m0 8h0m0 15h0m0 5h0m0 3h0m0 5h0m0 8h0m0 2h0m0 8h0m0 23h0m0 65h0m0 0h0m0 1h0m1-321h0m0 114h0m0 11h0m0 7h0m0 13h0m0 13h0m0 11h0m0 35h0m0 24h0m0 9h0m0 3h0m0 21h0m0 26h0m1-200h0m0 6h0m0 23h0m0 11h0m0 18h0m0 2h0m0 20h0m0 2h0m0 31h0m0 5h0m0 4h0m0 25h0m0 6h0m1-258h0m0 43h0m0 77h0m0 6h0m0 20h0m0 34h0m0 18h0m0 5h0m0 7h0m0 3h0m0 21h0m0 101h0m1-205h0m0 7h0m0 38h0m0 34h0m0 14h0m0 0h0m0 28h0m1-203h0m0 0h0m0 11h0m0 18h0m0 50h0m0 9h0m0 4h0m0 12h0m0 24h0m0 36h0m0 39h0m0 10h0m0 3h0m0 62h0m0 18h0m1-242h0m0 12h0m0 20h0m0 11h0m0 6h0m0 26h0m0 4h0m0 1h0m0 28h0m0 3h0m0 6h0m0 9h0m0 19h0m0 23h0m0 22h0m0 63h0m1-374h0m0 9h0m0 106h0m0 9h0m0 7h0m0 8h0m0 11h0m0 41h0m0 10h0m0 11h0m0 8h0m0 68h0m0 67h0m1-341h0m0 41h0m0 28h0m0 0h0m0 24h0m0 7h0m0 40h0m0 41h0m0 20h0m0 141h0m1-397h0m0 14h0m0 27h0m0 196h0m0 1h0m0 35h0m0 34h0m0 0h0m0 5h0m0 2h0m0 9h0m0 8h0m0 65h0m0 4h0m1-203h0m0 7h0m0 19h0m0 16h0m0 1h0m0 7h0m0 20h0m0 15h0m0 22h0m0 8h0m0 11h0m0 3h0m0 18h0m1-202h0m0 22h0m0 14h0m0 37h0m0 16h0m0 21h0m0 2h0m0 7h0m0 5h0m0 9h0m0 13h0m0 80h0m0 17h0m0 1h0m0 10h0m1-287h0m0 55h0m0 56h0m0 1h0m0 5h0m0 8h0m0 79h0m0 6h0m0 3h0m0 1h0m0 73h0m0 2h0m1-195h0m0 20h0m0 44h0m0 6h0m0 19h0m0 24h0m0 9h0m0 11h0m0 70h0m1-199h0m0 8h0m0 6h0m0 34h0m0 24h0m0 17h0m0 67h0m0 29h0m0 4h0m1-258h0m0 13h0m0 64h0m0 19h0m0 11h0m0 3h0m0 3h0m0 40h0m0 36h0m0 53h0m0 18h0m0 0h0m1-159h0m0 28h0m0 1h0m0 53h0m0 6h0m0 0h0m0 33h0m0 37h0m1-287h0m0 38h0m0 89h0m0 15h0m0 14h0m0 21h0m0 5h0m0 32h0m0 22h0m0 48h0m0 1h0m0 2h0m0 1h0m0 1h0m1-313h0m0 87h0m0 36h0m0 40h0m0 29h0m0 35h0m0 16h0m0 20h0m0 38h0m0 8h0m1-192h0m0 2h0m0 16h0m0 47h0m0 30h0m0 12h0m0 2h0m0 24h0m0 13h0m0 16h0m0 31h0m1-190h0m0 15h0m0 17h0m0 31h0m0 9h0m0 5h0m0 22h0m0 4h0m0 84h0m1-211h0m0 52h0m0 1h0m0 4h0m0 16h0m0 6h0m0 0h0m0 14h0m0 4h0m0 0h0m0 14h0m0 4h0m0 7h0m0 1h0m0 18h0m0 8h0m0 4h0m0 28h0m0 18h0m0 4h0m0 13h0m1-198h0m0 2h0m0 17h0m0 6h0m0 0h0m0 22h0m0 2h0m0 1h0m0 4h0m0 8h0m0 8h0m0 8h0m0 19h0m0 25h0m0 1h0m0 8h0m0 65h0m0 10h0m1-205h0m0 36h0m0 9h0m0 7h0m0 3h0m0 12h0m0 13h0m0 6h0m0 57h0m0 52h0m1-198h0m0 17h0m0 6h0m0 0h0m0 1h0m0 1h0m0 13h0m0 2h0m0 26h0m0 5h0m0 2h0m0 4h0m0 7h0m0 16h0m0 12h0m0 34h0m0 1h0m0 24h0m0 29h0m1-172h0m0 0h0m0 13h0m0 3h0m0 37h0m0 16h0m0 28h0m0 5h0m0 3h0m0 13h0m0 47h0m1-170h0m0 34h0m0 0h0m0 8h0m0 29h0m0 30h0m0 6h0m0 12h0m0 25h0m0 5h0m0 22h0m0 3h0m0 2h0m1-191h0m0 4h0m0 11h0m0 6h0m0 2h0m0 1h0m0 31h0m0 8h0m0 5h0m0 13h0m0 27h0m1-208h0m0 25h0m0 80h0m0 7h0m0 63h0m0 8h0m0 15h0m0 6h0m0 1h0m0 24h0m0 68h0m1-270h0m0 6h0m0 55h0m0 31h0m0 2h0m0 4h0m0 37h0m0 11h0m0 3h0m0 19h0m0 6h0m0 67h0m1-244h0m0 71h0m0 11h0m0 1h0m0 3h0m0 13h0m0 3h0m0 12h0m0 3h0m0 21h0m0 25h0m0 12h0m0 90h0m0 11h0m1-190h0m0 12h0m0 7h0m0 40h0m0 4h0m0 4h0m0 2h0m0 9h0m0 4h0m0 1h0m0 74h0m0 1h0m0 22h0m1-187h0m0 46h0m0 4h0m0 3h0m0 1h0m0 7h0m0 21h0m0 27h0m0 21h0m0 38h0m1-192h0m0 29h0m0 4h0m0 18h0m0 3h0m0 11h0m0 1h0m0 7h0m0 54h0m0 12h0m0 2h0m0 6h0m0 4h0m0 13h0m0 11h0m0 28h0m1-201h0m0 10h0m0 14h0m0 5h0m0 16h0m0 1h0m0 5h0m0 16h0m0 43h0m0 12h0m0 36h0m0 47h0m0 5h0m0 0h0m1-257h0m0 60h0m0 15h0m0 12h0m0 44h0m0 15h0m0 33h0m0 7h0m0 68h0m1-175h0m0 4h0m0 2h0m0 3h0m0 2h0m0 35h0m0 33h0m0 5h0m0 87h0m0 3h0m1-218h0m0 21h0m0 4h0m0 6h0m0 1h0m0 17h0m0 7h0m0 7h0m0 15h0m0 13h0m0 11h0m0 2h0m0 3h0m0 2h0m0 1h0m0 4h0m0 25h0m0 73h0m0 10h0m1-283h0m0 66h0m0 17h0m0 15h0m0 9h0m0 40h0m0 54h0m0 23h0m0 54h0m0 0h0m0 4h0m1-190h0m0 9h0m0 4h0m0 8h0m0 7h0m0 90h0m0 1h0m0 0h0m0 37h0m0 0h0m0 30h0m1-255h0m0 42h0m0 6h0m0 15h0m0 33h0m0 8h0m0 13h0m0 3h0m0 15h0m0 11h0m0 1h0m0 4h0m0 43h0m0 58h0m0 6h0m0 1h0m1-265h0m0 87h0m0 14h0m0 8h0m0 4h0m0 6h0m0 30h0m0 10h0m0 26h0m0 10h0m0 4h0m1-185h0m0 18h0m0 16h0m0 33h0m0 17h0m0 7h0m0 21h0m0 2h0m0 29h0m0 11h0m0 2h0m0 1h0m0 1h0m0 4h0m0 2h0m0 3h0m1-193h0m0 100h0m0 18h0m0 17h0m0 9h0m0 8h0m0 1h0m0 5h0m0 4h0m0 12h0m0 20h0m0 13h0m0 10h0m0 13h0m0 27h0m1-272h0m0 94h0m0 8h0m0 10h0m0 2h0m0 30h0m0 24h0m0 18h0m0 105h0m1-216h0m0 3h0m0 21h0m0 59h0m0 17h0m0 7h0m0 5h0m0 44h0m0 53h0m1-215h0m0 9h0m0 8h0m0 9h0m0 6h0m0 7h0m0 15h0m0 9h0m0 42h0m0 2h0m0 2h0m0 19h0m0 10h0m0 9h0m0 25h0m0 30h0m1-201h0m0 14h0m0 1h0m0 18h0m0 17h0m0 25h0m0 2h0m0 9h0m0 14h0m0 14h0m0 2h0m0 1h0m0 14h0m0 31h0m0 18h0m0 18h0m1-170h0m0 24h0m0 6h0m0 27h0m0 2h0m0 10h0m0 5h0m0 2h0m0 7h0m0 80h0m0 28h0m0 0h0m1-274h0m0 41h0m0 3h0m0 26h0m0 4h0m0 4h0m0 12h0m0 11h0m0 7h0m0 3h0m0 7h0m0 34h0m0 8h0m0 39h0m0 12h0m0 1h0m0 58h0m0 6h0m0 0h0m1-313h0m0 14h0m0 47h0m0 28h0m0 11h0m0 3h0m0 1h0m0 4h0m0 4h0m0 13h0m0 188h0m1-244h0m0 27h0m0 27h0m0 11h0m0 28h0m0 3h0m0 14h0m0 27h0m0 15h0m0 3h0m0 89h0m1-201h0m0 16h0m0 29h0m0 1h0m0 0h0m0 19h0m0 16h0m0 34h0m0 2h0m0 8h0m0 16h0m0 48h0m0 11h0m1-186h0m0 32h0m0 11h0m0 19h0m0 1h0m0 4h0m0 4h0m0 26h0m0 3h0m0 37h0m0 3h0m0 43h0m1-143h0m0 0h0m0 10h0m0 15h0m0 9h0m0 3h0m0 3h0m0 3h0m0 2h0m0 14h0m0 7h0m0 4h0m0 1h0m0 11h0m0 1h0m0 14h0m0 26h0m0 3h0m0 20h0m1-240h0m0 60h0m0 44h0m0 3h0m0 2h0m0 0h0m0 7h0m0 1h0m0 3h0m0 28h0m0 3h0m0 14h0m0 2h0m0 1h0m0 16h0m0 6h0m0 41h0m0 7h0m0 1h0m1-276h0m0 48h0m0 12h0m0 41h0m0 26h0m0 8h0m0 10h0m0 42h0m0 11h0m0 62h0m0 17h0m1-330h0m0 35h0m0 85h0m0 28h0m0 1h0m0 3h0m0 33h0m0 30h0m0 1h0m0 20h0m0 27h0m0 4h0m0 12h0m0 9h0m0 12h0m0 17h0m0 10h0m0 2h0m0 0h0m0 0h0m1-291h0m0 84h0m0 21h0m0 6h0m0 25h0m0 15h0m0 7h0m0 11h0m0 3h0m0 13h0m0 104h0m1-165h0m0 1h0m0 2h0m0 1h0m0 0h0m0 5h0m0 4h0m0 4h0m0 42h0m0 32h0m0 4h0m0 0h0m0 25h0m0 15h0m0 40h0m1-313h0m0 103h0m0 54h0m0 19h0m0 25h0m0 26h0m0 13h0m0 65h0m0 0h0m1-231h0m0 47h0m0 4h0m0 1h0m0 20h0m0 38h0m0 15h0m0 5h0m0 15h0m0 7h0m0 10h0m0 5h0m0 2h0m0 17h0m0 12h0m0 29h0m1-185h0m0 3h0m0 16h0m0 53h0m0 5h0m0 2h0m0 14h0m0 2h0m0 20h0m0 9h0m0 59h0m0 6h0m1-205h0m0 56h0m0 11h0m0 11h0m0 6h0m0 3h0m0 14h0m0 6h0m0 2h0m0 2h0m0 2h0m0 6h0m0 1h0m0 2h0m0 9h0m0 48h0m0 26h0m1-164h0m0 15h0m0 1h0m0 10h0m0 1h0m0 1h0m0 2h0m0 4h0m0 9h0m0 1h0m0 14h0m0 16h0m0 26h0m0 28h0m0 3h0m0 22h0m0 10h0m0 1h0m1-187h0m0 35h0m0 32h0m0 4h0m0 5h0m0 5h0m0 23h0m0 21h0m1-182h0m0 72h0m0 0h0m0 5h0m0 6h0m0 24h0m0 3h0m0 22h0m0 12h0m0 4h0m0 3h0m0 14h0m0 35h0m0 6h0m0 0h0m0 31h0m0 7h0m1-153h0m0 4h0m0 2h0m0 22h0m0 1h0m0 2h0m0 6h0m0 11h0m0 6h0m0 19h0m0 24h0m0 3h0m0 19h0m1-116h0m0 2h0m0 16h0m0 1h0m0 13h0m0 9h0m0 5h0m0 25h0m0 5h0m0 3h0m0 6h0m0 15h0m0 6h0m0 16h0m1-162h0m0 33h0m0 16h0m0 32h0m0 17h0m0 6h0m0 1h0m0 8h0m0 5h0m0 33h0m0 6h0m0 31h0m0 2h0m1-244h0m0 39h0m0 53h0m0 5h0m0 29h0m0 1h0m0 14h0m0 1h0m0 10h0m0 24h0m0 6h0m0 30h0m0 9h0m0 22h0m0 0h0m0 1h0m1-150h0m0 61h0m0 89h0m1-206h0m0 12h0m0 4h0m0 18h0m0 14h0m0 14h0m0 30h0m0 6h0m0 7h0m0 28h0m1-208h0m0 22h0m0 27h0m0 17h0m0 31h0m0 22h0m0 24h0m0 8h0m0 6h0m0 10h0m0 19h0m0 93h0m0 1h0m0 1h0m0 12h0m1-204h0m0 4h0m0 7h0m0 27h0m0 36h0m0 16h0m0 2h0m0 27h0m0 69h0m1-237h0m0 4h0m0 35h0m0 22h0m0 6h0m0 16h0m0 7h0m0 8h0m0 12h0m0 24h0m0 22h0m0 15h0m0 16h0m0 0h0m0 9h0m1-165h0m0 28h0m0 15h0m0 8h0m0 25h0m0 28h0m0 7h0m0 56h0m0 41h0m1-228h0m0 10h0m0 23h0m0 3h0m0 4h0m0 65h0m0 23h0m0 3h0m0 56h0m0 34h0m0 7h0m0 0h0m1-323h0m0 34h0m0 101h0m0 25h0m0 24h0m0 2h0m0 8h0m0 3h0m0 6h0m0 37h0m0 41h0m0 41h0m1-185h0m0 7h0m0 49h0m0 3h0m0 19h0m0 12h0m0 7h0m0 18h0m0 5h0m0 64h0m0 3h0m0 5h0m1-219h0m0 22h0m0 38h0m0 20h0m0 11h0m0 32h0m0 21h0m0 7h0m1-209h0m0 60h0m0 13h0m0 1h0m0 34h0m0 0h0m0 3h0m0 17h0m0 2h0m0 7h0m0 7h0m0 23h0m0 3h0m0 11h0m0 25h0m0 9h0m0 46h0m0 7h0m1-235h0m0 85h0m0 33h0m0 1h0m0 26h0m0 25h0m0 14h0m0 50h0m1-338h0m0 11h0m0 91h0m0 4h0m0 8h0m0 18h0m0 13h0m0 2h0m0 3h0m0 186h0m0 3h0m1-313h0m0 12h0m0 33h0m0 29h0m0 12h0m0 32h0m0 2h0m0 2h0m0 5h0m0 2h0m0 6h0m0 22h0m0 27h0m0 20h0m0 48h0m0 11h0m0 56h0m1-294h0m0 119h0m0 4h0m0 2h0m0 36h0m0 20h0m0 2h0m0 29h0m0 0h0m0 38h0m0 0h0m0 27h0m0 13h0m0 9h0m1-234h0m0 48h0m0 14h0m0 1h0m0 19h0m0 10h0m0 11h0m0 48h0m0 7h0m0 12h0m0 48h0m0 6h0m1-173h0m0 1h0m0 1h0m0 14h0m0 20h0m0 1h0m0 13h0m0 5h0m0 1h0m0 55h0m0 11h0m0 22h0m0 15h0m0 11h0m0 5h0m1-183h0m0 0h0m0 10h0m0 7h0m0 158h0m1-182h0m0 2h0m0 6h0m0 1h0m0 9h0m0 37h0m0 13h0m0 18h0m0 26h0m0 5h0m0 10h0m0 1h0m0 58h0m1-248h0m0 3h0m0 81h0m0 12h0m0 4h0m0 3h0m0 2h0m0 5h0m0 35h0m0 1h0m0 23h0m0 17h0m0 63h0m1-193h0m0 6h0m0 9h0m0 17h0m0 2h0m0 4h0m0 4h0m0 2h0m0 18h0m0 9h0m0 38h0m0 9h0m0 5h0m0 25h0m1-188h0m0 4h0m0 3h0m0 103h0m0 10h0m0 43h0m0 21h0m0 7h0m0 35h0m0 2h0m0 3h0m0 2h0m0 0h0m1-292h0m0 66h0m0 31h0m0 67h0m0 3h0m0 13h0m0 2h0m0 25h0m0 20h0m0 28h0m0 37h0m1-157h0m0 4h0m0 6h0m0 35h0m0 4h0m0 2h0m0 25h0m0 74h0m0 2h0m1-216h0m0 20h0m0 32h0m0 9h0m0 3h0m0 3h0m0 17h0m0 2h0m0 0h0m0 13h0m0 7h0m0 27h0m0 82h0m1-214h0m0 10h0m0 10h0m0 10h0m0 5h0m0 6h0m0 5h0m0 12h0m0 5h0m0 9h0m0 19h0m0 0h0m0 22h0m0 0h0m0 7h0m0 16h0m0 10h0m0 11h0m0 15h0m0 14h0m0 24h0m0 11h0m1-178h0m0 3h0m0 30h0m0 38h0m0 1h0m0 26h0m0 5h0m0 34h0m0 10h0m0 25h0m1-241h0m0 1h0m0 11h0m0 53h0m0 13h0m0 6h0m0 19h0m0 5h0m0 1h0m0 26h0m0 15h0m0 30h0m0 29h0m0 10h0m0 24h0m1-385h0m0 42h0m0 26h0m0 63h0m0 18h0m0 72h0m0 30h0m0 55h0m0 77h0m0 6h0m0 0h0m1-254h0m0 36h0m0 1h0m0 5h0m0 44h0m0 19h0m0 4h0m0 14h0m0 4h0m0 25h0m0 15h0m0 4h0m0 3h0m0 44h0m1-206h0m0 46h0m0 4h0m0 20h0m0 7h0m0 1h0m0 3h0m0 13h0m0 12h0m0 4h0m0 53h0m0 5h0m0 0h0m0 67h0m0 7h0m1-232h0m0 5h0m0 17h0m0 1h0m0 42h0m0 9h0m0 10h0m0 0h0m0 51h0m0 92h0m0 4h0m1-341h0m0 96h0m0 4h0m0 6h0m0 25h0m0 17h0m0 37h0m0 21h0m0 6h0m0 20h0m0 21h0m0 86h0m0 1h0m1-297h0m0 59h0m0 29h0m0 4h0m0 6h0m0 6h0m0 35h0m0 2h0m0 13h0m0 6h0m0 2h0m0 16h0m0 1h0m0 70h0m0 53h0m1-337h0m0 65h0m0 14h0m0 36h0m0 39h0m0 1h0m0 1h0m0 53h0m0 37h0m0 57h0m1-291h0m0 22h0m0 42h0m0 17h0m0 24h0m0 2h0m0 2h0m0 27h0m0 16h0m0 1h0m0 32h0m0 34h0m0 2h0m0 91h0m1-301h0m0 13h0m0 38h0m0 1h0m0 5h0m0 72h0m0 3h0m0 3h0m0 14h0m0 14h0m0 21h0m0 53h0m0 3h0m0 27h0m0 29h0m1-331h0m0 31h0m0 28h0m0 33h0m0 11h0m0 6h0m0 5h0m0 23h0m0 5h0m0 143h0m0 26h0m0 33h0m1-281h0m0 29h0m0 15h0m0 21h0m0 1h0m0 11h0m0 4h0m0 75h0m0 125h0m0 0h0m0 14h0m1-320h0m0 2h0m0 28h0m0 82h0m0 25h0m0 28h0m0 11h0m0 28h0m0 23h0m0 5h0m0 19h0m0 52h0m0 1h0m1-240h0m0 33h0m0 10h0m0 7h0m0 5h0m0 53h0m0 56h0m0 59h0m0 11h0m0 7h0m0 0h0m0 0h0m0 13h0m1-225h0m0 2h0m0 205h0m0 4h0" fill="none" stroke="#3a9adc" stroke-width="4" stroke-linecap="square"/></g>
<rect x="794.6" y="532.6" width="472.9" height="383" fill="none" stroke="#000" stroke-width="2.2"/>
<path d="M794.6 902.8h7M794.6 800.7h7M794.6 698.6h7M794.6 596.5h7" stroke="#000" stroke-width="2.2" fill="none"/>
<path d="M794.6 851.8h4M794.6 749.6h4M794.6 647.5h4M794.6 545.4h4" stroke="#000" stroke-width="2.2" fill="none"/>
<path d="M816.2 915.6v-7M923.7 915.6v-7M1031.1 915.6v-7M1138.6 915.6v-7M1246 915.6v-7" stroke="#000" stroke-width="2.2" fill="none"/>
<path d="M869.9 915.6v-4M977.4 915.6v-4M1084.8 915.6v-4M1192.3 915.6v-4" stroke="#000" stroke-width="2.2" fill="none"/>
<text x="780.4" y="912.6" text-anchor="end" font-size="25">0.8</text>
<text x="780.4" y="810.5" text-anchor="end" font-size="25">1.2</text>
<text x="780.4" y="708.4" text-anchor="end" font-size="25">1.6</text>
<text x="780.4" y="606.3" text-anchor="end" font-size="25">2.0</text>
<text x="816.2" y="948.9" text-anchor="middle" font-size="25">0</text>
<text x="923.7" y="948.9" text-anchor="middle" font-size="25">250</text>
<text x="1031.1" y="948.9" text-anchor="middle" font-size="25">500</text>
<text x="1138.6" y="948.9" text-anchor="middle" font-size="25">750</text>
<text x="1246" y="948.9" text-anchor="middle" font-size="25">1000</text>
<text x="1031" y="987.9" text-anchor="middle" font-size="25">Cycles</text>
<text transform="translate(720.6 723.4) rotate(-90)" text-anchor="middle" font-size="25"><tspan font-style="italic">R</tspan>/<tspan font-style="italic">R</tspan><tspan font-size="16.5" dy="9">0</tspan></text>
<text x="1257" y="560.8" text-anchor="end" font-size="25">PAT</text>
<rect x="852" y="790" width="16.1" height="105.8" fill="none" stroke="#8f2422" stroke-width="1.6"/>
<rect x="828.4" y="539" width="170.8" height="141.9" fill="#fff" stroke="none"/>
<path d="M828.5 626.5L829.4 620.4L830.2 579.6L831.2 577.5L832.1 632.7L832.6 627.9L833.4 644.3L834 638.5L834.7 584.8L835.8 582.7L836.7 629.7L837.1 628L837.9 643.8L838.5 641.5L839.2 609.7L840.3 607.6L841.4 635.4L841.9 628.1L842.9 643.3L843.5 639.1L844.5 606.7L845.6 604.6L846.8 628.7L847.4 624.1L848.4 642.6L849.1 637.6L850.2 582.6L851.3 580.5L851.8 630.8L852.2 625.7L852.8 643.6L853.2 640.1L853.5 588.6L854.6 586.5L855.6 633.9L856.1 617.5L857 641.9L857.5 640L858.4 595.1L859.4 593L860.3 631.2L860.8 616.7L861.6 642.1L862.1 638.4L862.9 589.1L864 587L865 629.1L865.5 623.8L866.5 642.6L867.1 638.3L868 587.1L869.1 585L869.9 631.8L870.4 617.5L871.2 641.1L871.7 638.7L872.4 604.4L873.4 602.3L874.7 631.9L875.2 619.6L876.2 642.4L876.9 638.7L878 555L879 552.9L879.8 629.9L880.3 617.8L881 641.1L881.5 635.9L882.2 593.6L883.2 591.5L884.2 626.6L884.7 624.1L885.6 640.1L886.2 638L887 596.9L888.1 594.8L889 629.7L889.4 623.9L890.2 639.2L890.8 638.1L891.5 586.1L892.6 583.9L893.4 628.6L893.8 617.6L894.6 640.7L895.1 634.5L895.8 590.9L896.8 588.8L898.1 630.7L898.7 622.4L899.7 639.3L900.4 635L901.5 575.5L902.5 573.4L903.4 630.9L903.8 616.2L904.6 638.6L905.2 635.8L905.9 589.8L906.9 587.7L907.8 629.1L908.3 614L909.1 638.8L909.6 637.1L910.4 576.3L911.4 574.1L912.3 628.8L912.8 618.4L913.6 637.9L914.2 636.7L914.9 582.6L916 580.5L917.1 629.1L917.6 622.6L918.6 637.6L919.2 633.4L920.2 584.1L921.2 582L922.1 626.9L922.5 621.9L923.2 638.8L923.7 634.8L924.4 595.4L925.5 593.3L926.5 627.9L927 620.2L927.9 637.4L928.5 635L929.4 586.4L930.4 584.2L931.5 627.8L932 621.7L933 636.2L933.6 634.8L934.5 588.6L935.6 586.5L936.5 623.1L937 619.4L937.8 636.7L938.4 632L939.2 586.8L940.2 584.7L941.1 623.5L941.5 617.3L942.3 636.5L942.8 631.9L943.6 599.2L944.6 597.1L945.6 625.5L946.1 620L947 637.1L947.6 630L948.5 591.6L949.6 589.5L950.5 621.3L950.9 618.6L951.8 634.9L952.3 632.9L953.1 588.6L954.1 586.5L955.5 622.6L956.1 615.4L957.2 635.9L957.9 631.8L959.1 586.1L960.1 583.9L960.8 626.4L961.2 610.3L961.9 636.1L962.3 633.2L962.9 596.9L963.9 594.8L964.7 620.4L965.1 616L965.9 634.8L966.4 633.1L967.1 590.4L968.1 588.3L969.3 626.8L969.8 618.2L970.7 634L971.4 631.3L972.3 579.6L973.4 577.5L974.4 619.4L974.9 613.8L975.8 634.6L976.3 628.6L977.2 587.1L978.2 585L979.5 623.3L980.1 617.1L981.1 633.1L981.8 630.5L982.9 589.4L984 587.3L984.5 621.8L984.8 609.5L985.4 633.8L985.8 627.6L986.2 607.5L987.3 605.4L988.3 623.5L988.8 617.8L989.6 633.4L990.2 630.1L991 606.7L992.1 604.6L992.9 622.4L993.3 613.2L994.1 633.1L994.6 627.1L995.3 584.5L996.3 582.4L996.8 620.1L997.1 611.8L997.6 632.3L998 627.7L998.3 595.4L999.3 593.3L999.3 634" fill="none" stroke="#000" stroke-width="1.7" stroke-linejoin="round"/>
<rect x="828.4" y="539" width="170.8" height="141.9" fill="none" stroke="#000" stroke-width="1.8"/>
<path d="M828.4 657h3M828.4 622.5h3M828.4 588h3M828.4 553.5h3" stroke="#000" stroke-width="1.4" fill="none"/>
<path d="M828.4 674.2h1.8M828.4 639.8h1.8M828.4 605.2h1.8M828.4 570.8h1.8" stroke="#000" stroke-width="1.4" fill="none"/>
<path d="M858 680.9v-3.5M905.2 680.9v-3.5M952.4 680.9v-3.5" stroke="#000" stroke-width="1.4" fill="none"/>
<path d="M834.4 680.9v-2M881.6 680.9v-2M928.8 680.9v-2M976 680.9v-2" stroke="#000" stroke-width="1.4" fill="none"/>
<text x="821.6" y="661.6" text-anchor="end" font-size="12.6">0.9</text>
<text x="821.6" y="627.1" text-anchor="end" font-size="12.6">1.0</text>
<text x="821.6" y="592.6" text-anchor="end" font-size="12.6">1.1</text>
<text x="821.6" y="558.1" text-anchor="end" font-size="12.6">1.2</text>
<text x="858" y="695.9" text-anchor="middle" font-size="12.6">90</text>
<text x="905.2" y="695.9" text-anchor="middle" font-size="12.6">100</text>
<text x="952.4" y="695.9" text-anchor="middle" font-size="12.6">110</text>
<text x="999.6" y="695.9" text-anchor="middle" font-size="12.6">120</text>
<text x="698.6" y="551.4" text-anchor="start" font-size="43.5" font-weight="bold">e</text>
<rect x="1472.6" y="532.6" width="473.1" height="383.1" fill="none" stroke="#000" stroke-width="2.2"/>
<path d="M1472.6 898.7h7M1472.6 815.5h7M1472.6 732.3h7M1472.6 649.1h7M1472.6 565.9h7" stroke="#000" stroke-width="2.2" fill="none"/>
<path d="M1472.6 857.1h4M1472.6 773.9h4M1472.6 690.7h4M1472.6 607.5h4" stroke="#000" stroke-width="2.2" fill="none"/>
<path d="M1484.7 915.7v-7M1609.1 915.7v-7M1733.5 915.7v-7M1857.9 915.7v-7" stroke="#000" stroke-width="2.2" fill="none"/>
<path d="M1546.9 915.7v-4M1671.3 915.7v-4M1795.7 915.7v-4M1920.1 915.7v-4" stroke="#000" stroke-width="2.2" fill="none"/>
<path d="M1484.7 882.1L1489.7 881.4L1497.1 879.6L1551.9 875.4L1584.2 870.9L1641.4 864.3L1780.8 846.6L1833 834.3L1930.1 816.3" fill="none" stroke="#e25a5a" stroke-width="2.0" stroke-linejoin="round"/>
<circle cx="1484.7" cy="882.1" r="4.9" fill="url(#f_r)"/>
<circle cx="1489.7" cy="881.4" r="4.9" fill="url(#f_r)"/>
<circle cx="1497.1" cy="879.6" r="4.9" fill="url(#f_r)"/>
<circle cx="1551.9" cy="875.4" r="4.9" fill="url(#f_r)"/>
<circle cx="1584.2" cy="870.9" r="4.9" fill="url(#f_r)"/>
<circle cx="1641.4" cy="864.3" r="4.9" fill="url(#f_r)"/>
<circle cx="1780.8" cy="846.6" r="4.9" fill="url(#f_r)"/>
<circle cx="1833" cy="834.3" r="4.9" fill="url(#f_r)"/>
<circle cx="1930.1" cy="816.3" r="4.9" fill="url(#f_r)"/>
<path d="M1484.7 881.7L1489.7 876.9L1497.1 870.6L1551.9 847.3L1584.2 834.3L1641.4 803.4L1780.8 678.1L1833 635.6L1930.1 557.1" fill="none" stroke="#1179be" stroke-width="2.0" stroke-linejoin="round"/>
<circle cx="1484.7" cy="881.7" r="4.9" fill="url(#f_b)"/>
<circle cx="1489.7" cy="876.9" r="4.9" fill="url(#f_b)"/>
<circle cx="1497.1" cy="870.6" r="4.9" fill="url(#f_b)"/>
<circle cx="1551.9" cy="847.3" r="4.9" fill="url(#f_b)"/>
<circle cx="1584.2" cy="834.3" r="4.9" fill="url(#f_b)"/>
<circle cx="1641.4" cy="803.4" r="4.9" fill="url(#f_b)"/>
<circle cx="1780.8" cy="678.1" r="4.9" fill="url(#f_b)"/>
<circle cx="1833" cy="635.6" r="4.9" fill="url(#f_b)"/>
<circle cx="1930.1" cy="557.1" r="4.9" fill="url(#f_b)"/>
<text x="1458" y="908.9" text-anchor="end" font-size="25">0</text>
<text x="1458" y="825.7" text-anchor="end" font-size="25">5</text>
<text x="1458" y="742.5" text-anchor="end" font-size="25">10</text>
<text x="1458" y="659.3" text-anchor="end" font-size="25">15</text>
<text x="1458" y="576.1" text-anchor="end" font-size="25">20</text>
<text x="1484.7" y="948.9" text-anchor="middle" font-size="25">0</text>
<text x="1609.1" y="948.9" text-anchor="middle" font-size="25">50</text>
<text x="1733.5" y="948.9" text-anchor="middle" font-size="25">100</text>
<text x="1857.9" y="948.9" text-anchor="middle" font-size="25">150</text>
<text x="1710.2" y="987.8" text-anchor="middle" font-size="25">Days</text>
<text transform="translate(1405.9 723.4) rotate(-90)" text-anchor="middle" font-size="25"><tspan font-style="italic">R</tspan>/<tspan font-style="italic">R</tspan><tspan font-size="16.5" dy="9">0</tspan></text>
<line x1="1487.5" y1="554.4" x2="1537.8" y2="554.4" stroke="#e25a5a" stroke-width="2.0"/>
<circle cx="1512.7" cy="554.4" r="4.9" fill="url(#f_r)"/>
<text x="1552" y="562.8" text-anchor="start" font-size="25">PAT</text>
<line x1="1487.5" y1="585.7" x2="1537.8" y2="585.7" stroke="#1179be" stroke-width="2.0"/>
<circle cx="1512.7" cy="585.7" r="4.9" fill="url(#f_b)"/>
<text x="1552" y="593.8" text-anchor="start" font-size="25">ATP</text>
<text x="1929" y="899.4" text-anchor="end" font-size="25">Ambient storage</text>
<text x="1383.5" y="550.3" text-anchor="start" font-size="42" font-weight="bold">f</text>
</svg></body></html>
